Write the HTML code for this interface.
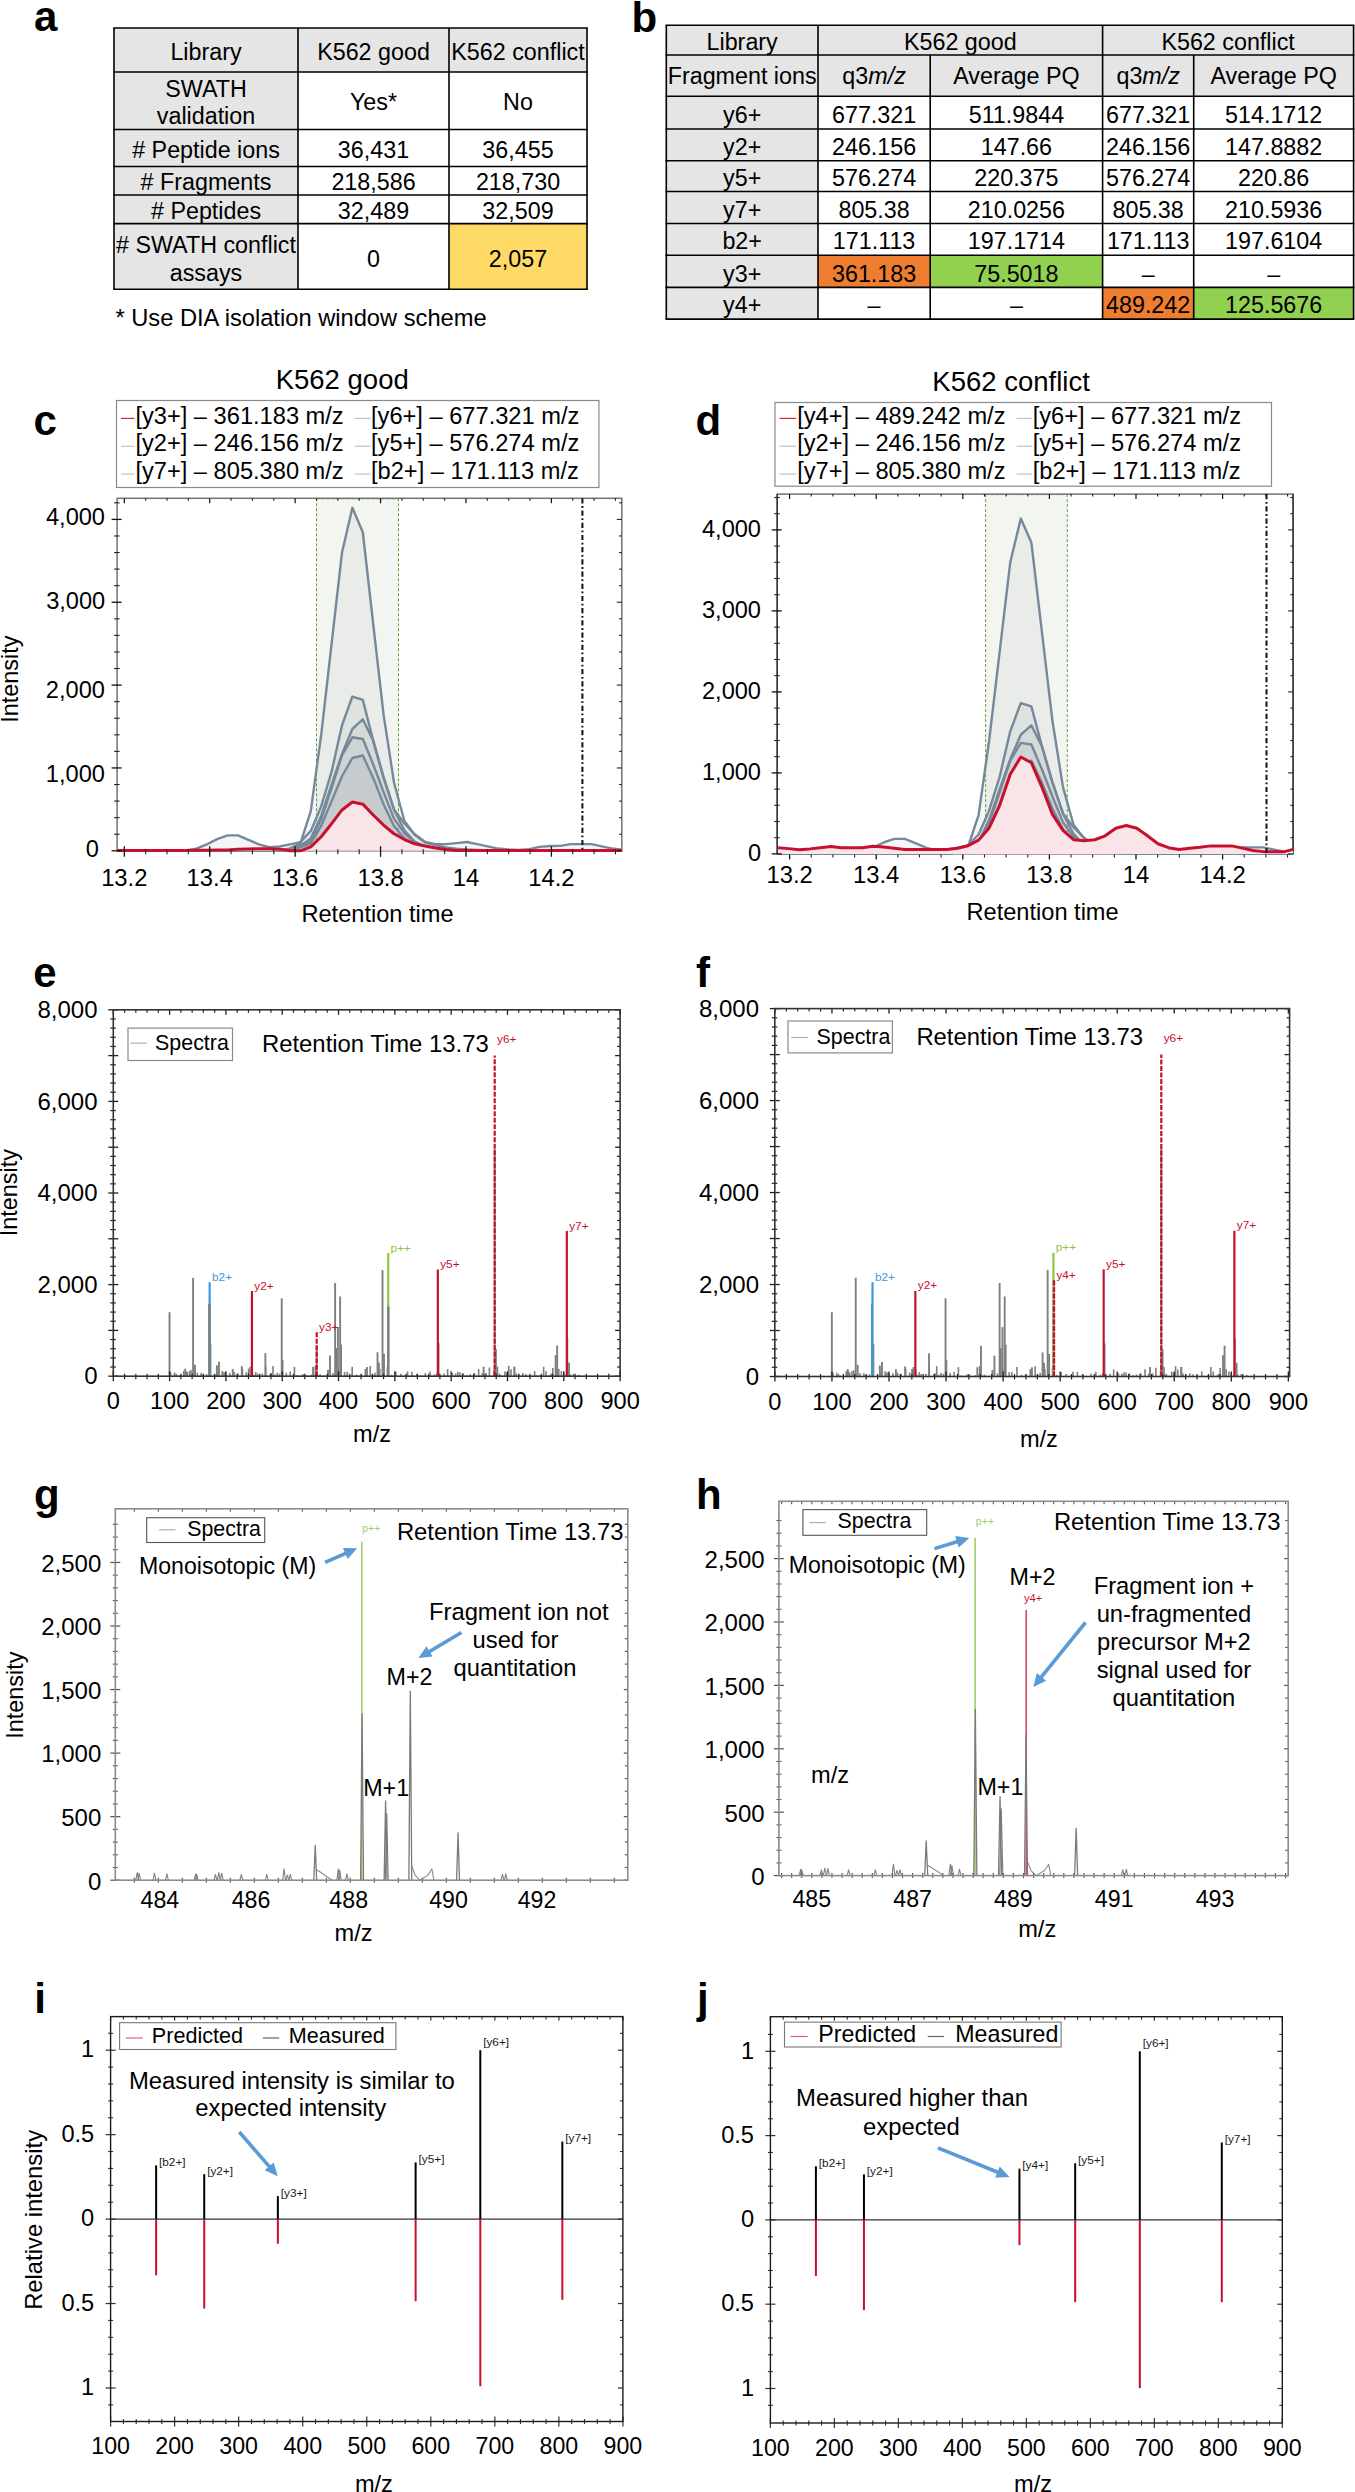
<!DOCTYPE html>
<html><head><meta charset="utf-8"><style>
html,body{margin:0;padding:0;background:#fff;}
svg{display:block;font-family:"Liberation Sans", sans-serif;}
</style></head><body>
<svg width="1355" height="2492" viewBox="0 0 1355 2492">
<rect x="0" y="0" width="1355" height="2492" fill="#fff"/>
<text x="33.9" y="31.2" font-size="42" text-anchor="start" fill="#000" font-weight="bold" >a</text>
<text x="631.5" y="31.5" font-size="42" text-anchor="start" fill="#000" font-weight="bold" >b</text>
<rect x="114" y="28" width="473" height="44" fill="#e5e5e5" stroke="none" stroke-width="1" />
<rect x="114" y="28" width="184" height="261.2" fill="#e5e5e5" stroke="none" stroke-width="1" />
<rect x="449" y="223.6" width="138" height="65.6" fill="#ffd966" stroke="none" stroke-width="1" />
<line x1="113.2" y1="28" x2="587.8" y2="28" stroke="#000" stroke-width="1.6" />
<line x1="113.2" y1="72" x2="587.8" y2="72" stroke="#000" stroke-width="1.6" />
<line x1="113.2" y1="129.5" x2="587.8" y2="129.5" stroke="#000" stroke-width="1.6" />
<line x1="113.2" y1="166.5" x2="587.8" y2="166.5" stroke="#000" stroke-width="1.6" />
<line x1="113.2" y1="195" x2="587.8" y2="195" stroke="#000" stroke-width="1.6" />
<line x1="113.2" y1="223.6" x2="587.8" y2="223.6" stroke="#000" stroke-width="1.6" />
<line x1="113.2" y1="289.2" x2="587.8" y2="289.2" stroke="#000" stroke-width="1.6" />
<line x1="114" y1="28" x2="114" y2="289.2" stroke="#000" stroke-width="1.6" />
<line x1="298" y1="28" x2="298" y2="289.2" stroke="#000" stroke-width="1.6" />
<line x1="449" y1="28" x2="449" y2="289.2" stroke="#000" stroke-width="1.6" />
<line x1="587" y1="28" x2="587" y2="289.2" stroke="#000" stroke-width="1.6" />
<text x="206" y="59.5" font-size="23.3" text-anchor="middle" fill="#000" >Library</text>
<text x="373.5" y="59.5" font-size="23.3" text-anchor="middle" fill="#000" >K562 good</text>
<text x="518" y="59.5" font-size="23.3" text-anchor="middle" fill="#000" >K562 conflict</text>
<text x="206" y="96.5" font-size="23.3" text-anchor="middle" fill="#000" >SWATH</text>
<text x="206" y="124" font-size="23.3" text-anchor="middle" fill="#000" >validation</text>
<text x="373.5" y="110" font-size="23.3" text-anchor="middle" fill="#000" >Yes*</text>
<text x="518" y="110" font-size="23.3" text-anchor="middle" fill="#000" >No</text>
<text x="206" y="158" font-size="23.3" text-anchor="middle" fill="#000" ># Peptide ions</text>
<text x="373.5" y="158" font-size="23.3" text-anchor="middle" fill="#000" >36,431</text>
<text x="518" y="158" font-size="23.3" text-anchor="middle" fill="#000" >36,455</text>
<text x="206" y="190" font-size="23.3" text-anchor="middle" fill="#000" ># Fragments</text>
<text x="373.5" y="190" font-size="23.3" text-anchor="middle" fill="#000" >218,586</text>
<text x="518" y="190" font-size="23.3" text-anchor="middle" fill="#000" >218,730</text>
<text x="206" y="218.6" font-size="23.3" text-anchor="middle" fill="#000" ># Peptides</text>
<text x="373.5" y="218.6" font-size="23.3" text-anchor="middle" fill="#000" >32,489</text>
<text x="518" y="218.6" font-size="23.3" text-anchor="middle" fill="#000" >32,509</text>
<text x="206" y="253.3" font-size="23.3" text-anchor="middle" fill="#000" ># SWATH conflict</text>
<text x="206" y="280.5" font-size="23.3" text-anchor="middle" fill="#000" >assays</text>
<text x="373.5" y="267" font-size="23.3" text-anchor="middle" fill="#000" >0</text>
<text x="518" y="267" font-size="23.3" text-anchor="middle" fill="#000" >2,057</text>
<text x="115.4" y="326" font-size="23.7" text-anchor="start" fill="#000" >* Use DIA isolation window scheme</text>
<rect x="666.3" y="25.2" width="687.3" height="71" fill="#e5e5e5" stroke="none" stroke-width="1" />
<rect x="666.3" y="25.2" width="151.7" height="293.9" fill="#e5e5e5" stroke="none" stroke-width="1" />
<rect x="818" y="255.2" width="112.2" height="32.2" fill="#ed7d31" stroke="none" stroke-width="1" />
<rect x="930.2" y="255.2" width="172.4" height="32.2" fill="#92d050" stroke="none" stroke-width="1" />
<rect x="1102.6" y="287.4" width="91.1" height="31.7" fill="#ed7d31" stroke="none" stroke-width="1" />
<rect x="1193.7" y="287.4" width="159.9" height="31.7" fill="#92d050" stroke="none" stroke-width="1" />
<line x1="665.5" y1="25.2" x2="1354.4" y2="25.2" stroke="#000" stroke-width="1.6" />
<line x1="665.5" y1="55" x2="1354.4" y2="55" stroke="#000" stroke-width="1.6" />
<line x1="665.5" y1="96.2" x2="1354.4" y2="96.2" stroke="#000" stroke-width="1.6" />
<line x1="665.5" y1="129" x2="1354.4" y2="129" stroke="#000" stroke-width="1.6" />
<line x1="665.5" y1="160.7" x2="1354.4" y2="160.7" stroke="#000" stroke-width="1.6" />
<line x1="665.5" y1="191.5" x2="1354.4" y2="191.5" stroke="#000" stroke-width="1.6" />
<line x1="665.5" y1="223.5" x2="1354.4" y2="223.5" stroke="#000" stroke-width="1.6" />
<line x1="665.5" y1="255.2" x2="1354.4" y2="255.2" stroke="#000" stroke-width="1.6" />
<line x1="665.5" y1="287.4" x2="1354.4" y2="287.4" stroke="#000" stroke-width="1.6" />
<line x1="665.5" y1="319.1" x2="1354.4" y2="319.1" stroke="#000" stroke-width="1.6" />
<line x1="666.3" y1="25.2" x2="666.3" y2="319.1" stroke="#000" stroke-width="1.6" />
<line x1="818" y1="25.2" x2="818" y2="319.1" stroke="#000" stroke-width="1.6" />
<line x1="1102.6" y1="25.2" x2="1102.6" y2="319.1" stroke="#000" stroke-width="1.6" />
<line x1="1353.6" y1="25.2" x2="1353.6" y2="319.1" stroke="#000" stroke-width="1.6" />
<line x1="930.2" y1="55" x2="930.2" y2="319.1" stroke="#000" stroke-width="1.6" />
<line x1="1193.7" y1="55" x2="1193.7" y2="319.1" stroke="#000" stroke-width="1.6" />
<text x="742.15" y="50" font-size="23.3" text-anchor="middle" fill="#000" >Library</text>
<text x="960.3" y="50" font-size="23.3" text-anchor="middle" fill="#000" >K562 good</text>
<text x="1228.1" y="50" font-size="23.3" text-anchor="middle" fill="#000" >K562 conflict</text>
<text x="742.15" y="84.2" font-size="23.3" text-anchor="middle" fill="#000" >Fragment ions</text>
<text x="874.1" y="84.2" font-size="23.3" text-anchor="middle" fill="#000" >q3<tspan font-style="italic">m/z</tspan></text>
<text x="1148.15" y="84.2" font-size="23.3" text-anchor="middle" fill="#000" >q3<tspan font-style="italic">m/z</tspan></text>
<text x="1016.4" y="84.2" font-size="23.3" text-anchor="middle" fill="#000" >Average PQ</text>
<text x="1273.65" y="84.2" font-size="23.3" text-anchor="middle" fill="#000" >Average PQ</text>
<text x="742.15" y="123.1" font-size="23.3" text-anchor="middle" fill="#000" >y6+</text>
<text x="874.1" y="123.1" font-size="23.3" text-anchor="middle" fill="#000" >677.321</text>
<text x="1016.4" y="123.1" font-size="23.3" text-anchor="middle" fill="#000" >511.9844</text>
<text x="1148.15" y="123.1" font-size="23.3" text-anchor="middle" fill="#000" >677.321</text>
<text x="1273.65" y="123.1" font-size="23.3" text-anchor="middle" fill="#000" >514.1712</text>
<text x="742.15" y="154.8" font-size="23.3" text-anchor="middle" fill="#000" >y2+</text>
<text x="874.1" y="154.8" font-size="23.3" text-anchor="middle" fill="#000" >246.156</text>
<text x="1016.4" y="154.8" font-size="23.3" text-anchor="middle" fill="#000" >147.66</text>
<text x="1148.15" y="154.8" font-size="23.3" text-anchor="middle" fill="#000" >246.156</text>
<text x="1273.65" y="154.8" font-size="23.3" text-anchor="middle" fill="#000" >147.8882</text>
<text x="742.15" y="185.6" font-size="23.3" text-anchor="middle" fill="#000" >y5+</text>
<text x="874.1" y="185.6" font-size="23.3" text-anchor="middle" fill="#000" >576.274</text>
<text x="1016.4" y="185.6" font-size="23.3" text-anchor="middle" fill="#000" >220.375</text>
<text x="1148.15" y="185.6" font-size="23.3" text-anchor="middle" fill="#000" >576.274</text>
<text x="1273.65" y="185.6" font-size="23.3" text-anchor="middle" fill="#000" >220.86</text>
<text x="742.15" y="217.6" font-size="23.3" text-anchor="middle" fill="#000" >y7+</text>
<text x="874.1" y="217.6" font-size="23.3" text-anchor="middle" fill="#000" >805.38</text>
<text x="1016.4" y="217.6" font-size="23.3" text-anchor="middle" fill="#000" >210.0256</text>
<text x="1148.15" y="217.6" font-size="23.3" text-anchor="middle" fill="#000" >805.38</text>
<text x="1273.65" y="217.6" font-size="23.3" text-anchor="middle" fill="#000" >210.5936</text>
<text x="742.15" y="249.3" font-size="23.3" text-anchor="middle" fill="#000" >b2+</text>
<text x="874.1" y="249.3" font-size="23.3" text-anchor="middle" fill="#000" >171.113</text>
<text x="1016.4" y="249.3" font-size="23.3" text-anchor="middle" fill="#000" >197.1714</text>
<text x="1148.15" y="249.3" font-size="23.3" text-anchor="middle" fill="#000" >171.113</text>
<text x="1273.65" y="249.3" font-size="23.3" text-anchor="middle" fill="#000" >197.6104</text>
<text x="742.15" y="281.5" font-size="23.3" text-anchor="middle" fill="#000" >y3+</text>
<text x="874.1" y="281.5" font-size="23.3" text-anchor="middle" fill="#000" >361.183</text>
<text x="1016.4" y="281.5" font-size="23.3" text-anchor="middle" fill="#000" >75.5018</text>
<text x="1148.15" y="281.5" font-size="23.3" text-anchor="middle" fill="#000" >–</text>
<text x="1273.65" y="281.5" font-size="23.3" text-anchor="middle" fill="#000" >–</text>
<text x="742.15" y="313.2" font-size="23.3" text-anchor="middle" fill="#000" >y4+</text>
<text x="874.1" y="313.2" font-size="23.3" text-anchor="middle" fill="#000" >–</text>
<text x="1016.4" y="313.2" font-size="23.3" text-anchor="middle" fill="#000" >–</text>
<text x="1148.15" y="313.2" font-size="23.3" text-anchor="middle" fill="#000" >489.242</text>
<text x="1273.65" y="313.2" font-size="23.3" text-anchor="middle" fill="#000" >125.5676</text>
<rect x="316.5" y="498.3" width="82" height="352.5" fill="#f3f6f0" stroke="none" stroke-width="1" />
<line x1="316.5" y1="498.3" x2="316.5" y2="850.8" stroke="#6b9a3a" stroke-width="1" stroke-dasharray="3,2"/>
<line x1="398.5" y1="498.3" x2="398.5" y2="850.8" stroke="#6b9a3a" stroke-width="1" stroke-dasharray="3,2"/>
<line x1="316.5" y1="498.8" x2="398.5" y2="498.8" stroke="#6b9a3a" stroke-width="0.8" stroke-dasharray="3,2"/>
<rect x="117.1" y="498.3" width="504.7" height="352.5" fill="none" stroke="#737373" stroke-width="1.5" />
<polygon points="117.1,850.8 117.1,850.55 123.6,850.54 134,850.53 144.4,850.52 154.8,850.51 165.2,850.5 175.6,850.49 186,850.48 196.4,850.47 206.8,850.46 217.2,850.45 227.6,850.44 238,850.43 248.4,850.42 258.8,850.41 269.2,850.4 279.6,850.39 290,848.31 300.4,843.34 310.8,811.03 321.2,734.81 331.6,643.67 342,552.54 352.4,507.8 362.8,532.24 373.2,623.79 383.6,714.93 394,782.45 404.4,820.97 414.8,835.06 425.2,842.51 435.6,845 446,847.49 456.4,848.73 466.8,849.56 477.2,849.97 487.6,850.39 498,850.4 508.4,850.41 518.8,850.42 529.2,850.44 539.6,850.45 550,850.46 560.4,850.47 570.8,850.49 581.2,850.5 591.6,850.51 602,850.53 612.4,850.54 621.8,850.55 621.8,850.8" fill="rgba(110,125,135,0.078)" stroke="none" />
<polygon points="117.1,850.8 117.1,850.55 123.6,850.55 134,850.55 144.4,850.55 154.8,850.55 165.2,850.55 175.6,850.55 186,850.55 196.4,848.73 206.8,844.34 217.2,839.12 227.6,835.39 238,835.39 248.4,839.86 258.8,844.34 269.2,847.24 279.6,846.49 290,844.34 300.4,842.1 310.8,830.92 321.2,806.39 331.6,771.68 342,725.37 352.4,696.53 362.8,699.85 373.2,740.61 383.6,777.89 394,809.38 404.4,823.46 414.8,834.31 425.2,842.02 435.6,844.17 446,844.17 456.4,843.09 466.8,842.02 477.2,844.17 487.6,846.41 498,848.56 508.4,849.56 518.8,849.97 529.2,849.14 539.6,846.91 550,845.99 560.4,845.83 570.8,844.17 581.2,844.17 591.6,844.17 602,846.41 612.4,848.56 621.8,849.72 621.8,850.8" fill="rgba(110,125,135,0.078)" stroke="none" />
<polygon points="117.1,850.8 117.1,850.55 123.6,850.55 134,850.55 144.4,850.55 154.8,850.55 165.2,850.55 175.6,850.55 186,850.55 196.4,850.55 206.8,850.55 217.2,850.55 227.6,850.55 238,850.55 248.4,850.55 258.8,850.55 269.2,850.55 279.6,850.55 290,849.56 300.4,845.83 310.8,838.37 321.2,816 331.6,784.52 342,753.95 352.4,728.93 362.8,719.32 373.2,740.69 383.6,777.39 394,809.71 404.4,830.25 414.8,841.69 425.2,846.66 435.6,848.31 446,849.56 456.4,850.05 466.8,850.55 477.2,850.55 487.6,850.55 498,850.55 508.4,850.55 518.8,850.55 529.2,850.55 539.6,850.55 550,850.55 560.4,850.55 570.8,850.55 581.2,850.55 591.6,850.55 602,850.55 612.4,850.55 621.8,850.55 621.8,850.8" fill="rgba(110,125,135,0.078)" stroke="none" />
<polygon points="117.1,850.8 117.1,850.55 123.6,850.55 134,850.55 144.4,850.55 154.8,850.55 165.2,850.55 175.6,850.55 186,850.55 196.4,850.55 206.8,850.55 217.2,850.55 227.6,850.55 238,850.55 248.4,850.55 258.8,850.55 269.2,850.55 279.6,850.55 290,849.56 300.4,846.66 310.8,840.86 321.2,819.32 331.6,787.83 342,755.36 352.4,737.3 362.8,738.95 373.2,764.22 383.6,792.06 394,818.57 404.4,833.24 414.8,842.51 425.2,847.07 435.6,848.73 446,849.56 456.4,850.05 466.8,850.55 477.2,850.55 487.6,850.55 498,850.55 508.4,850.55 518.8,850.55 529.2,850.55 539.6,850.55 550,850.55 560.4,850.55 570.8,850.55 581.2,850.55 591.6,850.55 602,850.55 612.4,850.55 621.8,850.55 621.8,850.8" fill="rgba(110,125,135,0.078)" stroke="none" />
<polygon points="117.1,850.8 117.1,850.55 123.6,850.55 134,850.55 144.4,850.55 154.8,850.55 165.2,850.55 175.6,850.55 186,850.55 196.4,850.55 206.8,850.55 217.2,850.55 227.6,850.55 238,850.55 248.4,850.55 258.8,850.55 269.2,850.55 279.6,850.55 290,849.56 300.4,847.49 310.8,843.34 321.2,825.94 331.6,801.09 342,776.23 352.4,758.01 362.8,755.52 373.2,777.89 383.6,804.4 394,825.94 404.4,838.37 414.8,845 425.2,847.9 435.6,849.14 446,849.85 456.4,850.55 466.8,850.55 477.2,850.55 487.6,850.55 498,850.55 508.4,850.55 518.8,850.55 529.2,850.55 539.6,850.55 550,850.55 560.4,850.55 570.8,850.55 581.2,850.55 591.6,850.55 602,850.55 612.4,850.55 621.8,850.55 621.8,850.8" fill="rgba(110,125,135,0.078)" stroke="none" />
<polyline points="117.1,850.55 123.6,850.54 134,850.53 144.4,850.52 154.8,850.51 165.2,850.5 175.6,850.49 186,850.48 196.4,850.47 206.8,850.46 217.2,850.45 227.6,850.44 238,850.43 248.4,850.42 258.8,850.41 269.2,850.4 279.6,850.39 290,848.31 300.4,843.34 310.8,811.03 321.2,734.81 331.6,643.67 342,552.54 352.4,507.8 362.8,532.24 373.2,623.79 383.6,714.93 394,782.45 404.4,820.97 414.8,835.06 425.2,842.51 435.6,845 446,847.49 456.4,848.73 466.8,849.56 477.2,849.97 487.6,850.39 498,850.4 508.4,850.41 518.8,850.42 529.2,850.44 539.6,850.45 550,850.46 560.4,850.47 570.8,850.49 581.2,850.5 591.6,850.51 602,850.53 612.4,850.54 621.8,850.55" stroke="#76899a" stroke-width="2.4" fill="none" stroke-linejoin="round" />
<polyline points="117.1,850.55 123.6,850.55 134,850.55 144.4,850.55 154.8,850.55 165.2,850.55 175.6,850.55 186,850.55 196.4,848.73 206.8,844.34 217.2,839.12 227.6,835.39 238,835.39 248.4,839.86 258.8,844.34 269.2,847.24 279.6,846.49 290,844.34 300.4,842.1 310.8,830.92 321.2,806.39 331.6,771.68 342,725.37 352.4,696.53 362.8,699.85 373.2,740.61 383.6,777.89 394,809.38 404.4,823.46 414.8,834.31 425.2,842.02 435.6,844.17 446,844.17 456.4,843.09 466.8,842.02 477.2,844.17 487.6,846.41 498,848.56 508.4,849.56 518.8,849.97 529.2,849.14 539.6,846.91 550,845.99 560.4,845.83 570.8,844.17 581.2,844.17 591.6,844.17 602,846.41 612.4,848.56 621.8,849.72" stroke="#76899a" stroke-width="2.4" fill="none" stroke-linejoin="round" />
<polyline points="117.1,850.55 123.6,850.55 134,850.55 144.4,850.55 154.8,850.55 165.2,850.55 175.6,850.55 186,850.55 196.4,850.55 206.8,850.55 217.2,850.55 227.6,850.55 238,850.55 248.4,850.55 258.8,850.55 269.2,850.55 279.6,850.55 290,849.56 300.4,845.83 310.8,838.37 321.2,816 331.6,784.52 342,753.95 352.4,728.93 362.8,719.32 373.2,740.69 383.6,777.39 394,809.71 404.4,830.25 414.8,841.69 425.2,846.66 435.6,848.31 446,849.56 456.4,850.05 466.8,850.55 477.2,850.55 487.6,850.55 498,850.55 508.4,850.55 518.8,850.55 529.2,850.55 539.6,850.55 550,850.55 560.4,850.55 570.8,850.55 581.2,850.55 591.6,850.55 602,850.55 612.4,850.55 621.8,850.55" stroke="#76899a" stroke-width="2.4" fill="none" stroke-linejoin="round" />
<polyline points="117.1,850.55 123.6,850.55 134,850.55 144.4,850.55 154.8,850.55 165.2,850.55 175.6,850.55 186,850.55 196.4,850.55 206.8,850.55 217.2,850.55 227.6,850.55 238,850.55 248.4,850.55 258.8,850.55 269.2,850.55 279.6,850.55 290,849.56 300.4,846.66 310.8,840.86 321.2,819.32 331.6,787.83 342,755.36 352.4,737.3 362.8,738.95 373.2,764.22 383.6,792.06 394,818.57 404.4,833.24 414.8,842.51 425.2,847.07 435.6,848.73 446,849.56 456.4,850.05 466.8,850.55 477.2,850.55 487.6,850.55 498,850.55 508.4,850.55 518.8,850.55 529.2,850.55 539.6,850.55 550,850.55 560.4,850.55 570.8,850.55 581.2,850.55 591.6,850.55 602,850.55 612.4,850.55 621.8,850.55" stroke="#76899a" stroke-width="2.4" fill="none" stroke-linejoin="round" />
<polyline points="117.1,850.55 123.6,850.55 134,850.55 144.4,850.55 154.8,850.55 165.2,850.55 175.6,850.55 186,850.55 196.4,850.55 206.8,850.55 217.2,850.55 227.6,850.55 238,850.55 248.4,850.55 258.8,850.55 269.2,850.55 279.6,850.55 290,849.56 300.4,847.49 310.8,843.34 321.2,825.94 331.6,801.09 342,776.23 352.4,758.01 362.8,755.52 373.2,777.89 383.6,804.4 394,825.94 404.4,838.37 414.8,845 425.2,847.9 435.6,849.14 446,849.85 456.4,850.55 466.8,850.55 477.2,850.55 487.6,850.55 498,850.55 508.4,850.55 518.8,850.55 529.2,850.55 539.6,850.55 550,850.55 560.4,850.55 570.8,850.55 581.2,850.55 591.6,850.55 602,850.55 612.4,850.55 621.8,850.55" stroke="#76899a" stroke-width="2.4" fill="none" stroke-linejoin="round" />
<polygon points="117.1,850.8 117.1,850.39 123.6,850.39 134,850.39 144.4,850.39 154.8,850.39 165.2,850.39 175.6,850.39 186,850.39 196.4,850.28 206.8,850.18 217.2,850.08 227.6,849.97 238,849.14 248.4,848.98 258.8,848.73 269.2,848.73 279.6,849.14 290,850.8 300.4,850.8 310.8,846.82 321.2,836.72 331.6,823.71 342,809.95 352.4,802 362.8,804.16 373.2,815.01 383.6,825.12 394,833.73 404.4,839.53 414.8,843.84 425.2,846.08 435.6,847.9 446,849.56 456.4,850.39 466.8,850.39 477.2,850.39 487.6,850.39 498,850.39 508.4,850.39 518.8,850.39 529.2,850.39 539.6,850.39 550,850.39 560.4,850.39 570.8,850.39 581.2,850.39 591.6,850.39 602,850.39 612.4,850.39 621.8,850.39 621.8,850.8" fill="#f9e4e7" stroke="none" />
<polyline points="117.1,850.39 123.6,850.39 134,850.39 144.4,850.39 154.8,850.39 165.2,850.39 175.6,850.39 186,850.39 196.4,850.28 206.8,850.18 217.2,850.08 227.6,849.97 238,849.14 248.4,848.98 258.8,848.73 269.2,848.73 279.6,849.14 290,850.8 300.4,850.8 310.8,846.82 321.2,836.72 331.6,823.71 342,809.95 352.4,802 362.8,804.16 373.2,815.01 383.6,825.12 394,833.73 404.4,839.53 414.8,843.84 425.2,846.08 435.6,847.9 446,849.56 456.4,850.39 466.8,850.39 477.2,850.39 487.6,850.39 498,850.39 508.4,850.39 518.8,850.39 529.2,850.39 539.6,850.39 550,850.39 560.4,850.39 570.8,850.39 581.2,850.39 591.6,850.39 602,850.39 612.4,850.39 621.8,850.39" stroke="#c8102e" stroke-width="3" fill="none" stroke-linejoin="round" />
<line x1="582.4" y1="498.3" x2="582.4" y2="850.8" stroke="#1a1a1a" stroke-width="2.1" stroke-dasharray="5.2,2.6,1.8,2.6"/>
<line x1="124.3" y1="846.3" x2="124.3" y2="856.8" stroke="#111" stroke-width="1.3" />
<line x1="124.3" y1="498.3" x2="124.3" y2="503.3" stroke="#111" stroke-width="1.2" />
<line x1="145.66" y1="849.3" x2="145.66" y2="854.3" stroke="#222" stroke-width="1.1" />
<line x1="145.66" y1="498.3" x2="145.66" y2="500.8" stroke="#222" stroke-width="1.1" />
<line x1="167.01" y1="849.3" x2="167.01" y2="854.3" stroke="#222" stroke-width="1.1" />
<line x1="167.01" y1="498.3" x2="167.01" y2="500.8" stroke="#222" stroke-width="1.1" />
<line x1="188.37" y1="849.3" x2="188.37" y2="854.3" stroke="#222" stroke-width="1.1" />
<line x1="188.37" y1="498.3" x2="188.37" y2="500.8" stroke="#222" stroke-width="1.1" />
<line x1="209.72" y1="846.3" x2="209.72" y2="856.8" stroke="#111" stroke-width="1.3" />
<line x1="209.72" y1="498.3" x2="209.72" y2="503.3" stroke="#111" stroke-width="1.2" />
<line x1="231.08" y1="849.3" x2="231.08" y2="854.3" stroke="#222" stroke-width="1.1" />
<line x1="231.08" y1="498.3" x2="231.08" y2="500.8" stroke="#222" stroke-width="1.1" />
<line x1="252.43" y1="849.3" x2="252.43" y2="854.3" stroke="#222" stroke-width="1.1" />
<line x1="252.43" y1="498.3" x2="252.43" y2="500.8" stroke="#222" stroke-width="1.1" />
<line x1="273.79" y1="849.3" x2="273.79" y2="854.3" stroke="#222" stroke-width="1.1" />
<line x1="273.79" y1="498.3" x2="273.79" y2="500.8" stroke="#222" stroke-width="1.1" />
<line x1="295.14" y1="846.3" x2="295.14" y2="856.8" stroke="#111" stroke-width="1.3" />
<line x1="295.14" y1="498.3" x2="295.14" y2="503.3" stroke="#111" stroke-width="1.2" />
<line x1="316.5" y1="849.3" x2="316.5" y2="854.3" stroke="#222" stroke-width="1.1" />
<line x1="316.5" y1="498.3" x2="316.5" y2="500.8" stroke="#222" stroke-width="1.1" />
<line x1="337.85" y1="849.3" x2="337.85" y2="854.3" stroke="#222" stroke-width="1.1" />
<line x1="337.85" y1="498.3" x2="337.85" y2="500.8" stroke="#222" stroke-width="1.1" />
<line x1="359.21" y1="849.3" x2="359.21" y2="854.3" stroke="#222" stroke-width="1.1" />
<line x1="359.21" y1="498.3" x2="359.21" y2="500.8" stroke="#222" stroke-width="1.1" />
<line x1="380.56" y1="846.3" x2="380.56" y2="856.8" stroke="#111" stroke-width="1.3" />
<line x1="380.56" y1="498.3" x2="380.56" y2="503.3" stroke="#111" stroke-width="1.2" />
<line x1="401.92" y1="849.3" x2="401.92" y2="854.3" stroke="#222" stroke-width="1.1" />
<line x1="401.92" y1="498.3" x2="401.92" y2="500.8" stroke="#222" stroke-width="1.1" />
<line x1="423.27" y1="849.3" x2="423.27" y2="854.3" stroke="#222" stroke-width="1.1" />
<line x1="423.27" y1="498.3" x2="423.27" y2="500.8" stroke="#222" stroke-width="1.1" />
<line x1="444.63" y1="849.3" x2="444.63" y2="854.3" stroke="#222" stroke-width="1.1" />
<line x1="444.63" y1="498.3" x2="444.63" y2="500.8" stroke="#222" stroke-width="1.1" />
<line x1="465.98" y1="846.3" x2="465.98" y2="856.8" stroke="#111" stroke-width="1.3" />
<line x1="465.98" y1="498.3" x2="465.98" y2="503.3" stroke="#111" stroke-width="1.2" />
<line x1="487.34" y1="849.3" x2="487.34" y2="854.3" stroke="#222" stroke-width="1.1" />
<line x1="487.34" y1="498.3" x2="487.34" y2="500.8" stroke="#222" stroke-width="1.1" />
<line x1="508.69" y1="849.3" x2="508.69" y2="854.3" stroke="#222" stroke-width="1.1" />
<line x1="508.69" y1="498.3" x2="508.69" y2="500.8" stroke="#222" stroke-width="1.1" />
<line x1="530.05" y1="849.3" x2="530.05" y2="854.3" stroke="#222" stroke-width="1.1" />
<line x1="530.05" y1="498.3" x2="530.05" y2="500.8" stroke="#222" stroke-width="1.1" />
<line x1="551.4" y1="846.3" x2="551.4" y2="856.8" stroke="#111" stroke-width="1.3" />
<line x1="551.4" y1="498.3" x2="551.4" y2="503.3" stroke="#111" stroke-width="1.2" />
<line x1="572.76" y1="849.3" x2="572.76" y2="854.3" stroke="#222" stroke-width="1.1" />
<line x1="572.76" y1="498.3" x2="572.76" y2="500.8" stroke="#222" stroke-width="1.1" />
<line x1="594.11" y1="849.3" x2="594.11" y2="854.3" stroke="#222" stroke-width="1.1" />
<line x1="594.11" y1="498.3" x2="594.11" y2="500.8" stroke="#222" stroke-width="1.1" />
<line x1="615.47" y1="849.3" x2="615.47" y2="854.3" stroke="#222" stroke-width="1.1" />
<line x1="615.47" y1="498.3" x2="615.47" y2="500.8" stroke="#222" stroke-width="1.1" />
<line x1="111.6" y1="850.8" x2="121.6" y2="850.8" stroke="#111" stroke-width="1.3" />
<line x1="616.8" y1="850.8" x2="621.8" y2="850.8" stroke="#222" stroke-width="1.1" />
<line x1="114.1" y1="834.23" x2="119.6" y2="834.23" stroke="#222" stroke-width="1.1" />
<line x1="619.1" y1="834.23" x2="621.8" y2="834.23" stroke="#222" stroke-width="1.1" />
<line x1="114.1" y1="817.66" x2="119.6" y2="817.66" stroke="#222" stroke-width="1.1" />
<line x1="619.1" y1="817.66" x2="621.8" y2="817.66" stroke="#222" stroke-width="1.1" />
<line x1="114.1" y1="801.09" x2="119.6" y2="801.09" stroke="#222" stroke-width="1.1" />
<line x1="619.1" y1="801.09" x2="621.8" y2="801.09" stroke="#222" stroke-width="1.1" />
<line x1="114.1" y1="784.52" x2="119.6" y2="784.52" stroke="#222" stroke-width="1.1" />
<line x1="619.1" y1="784.52" x2="621.8" y2="784.52" stroke="#222" stroke-width="1.1" />
<line x1="111.6" y1="767.95" x2="121.6" y2="767.95" stroke="#111" stroke-width="1.3" />
<line x1="616.8" y1="767.95" x2="621.8" y2="767.95" stroke="#222" stroke-width="1.1" />
<line x1="114.1" y1="751.38" x2="119.6" y2="751.38" stroke="#222" stroke-width="1.1" />
<line x1="619.1" y1="751.38" x2="621.8" y2="751.38" stroke="#222" stroke-width="1.1" />
<line x1="114.1" y1="734.81" x2="119.6" y2="734.81" stroke="#222" stroke-width="1.1" />
<line x1="619.1" y1="734.81" x2="621.8" y2="734.81" stroke="#222" stroke-width="1.1" />
<line x1="114.1" y1="718.24" x2="119.6" y2="718.24" stroke="#222" stroke-width="1.1" />
<line x1="619.1" y1="718.24" x2="621.8" y2="718.24" stroke="#222" stroke-width="1.1" />
<line x1="114.1" y1="701.67" x2="119.6" y2="701.67" stroke="#222" stroke-width="1.1" />
<line x1="619.1" y1="701.67" x2="621.8" y2="701.67" stroke="#222" stroke-width="1.1" />
<line x1="111.6" y1="685.1" x2="121.6" y2="685.1" stroke="#111" stroke-width="1.3" />
<line x1="616.8" y1="685.1" x2="621.8" y2="685.1" stroke="#222" stroke-width="1.1" />
<line x1="114.1" y1="668.53" x2="119.6" y2="668.53" stroke="#222" stroke-width="1.1" />
<line x1="619.1" y1="668.53" x2="621.8" y2="668.53" stroke="#222" stroke-width="1.1" />
<line x1="114.1" y1="651.96" x2="119.6" y2="651.96" stroke="#222" stroke-width="1.1" />
<line x1="619.1" y1="651.96" x2="621.8" y2="651.96" stroke="#222" stroke-width="1.1" />
<line x1="114.1" y1="635.39" x2="119.6" y2="635.39" stroke="#222" stroke-width="1.1" />
<line x1="619.1" y1="635.39" x2="621.8" y2="635.39" stroke="#222" stroke-width="1.1" />
<line x1="114.1" y1="618.82" x2="119.6" y2="618.82" stroke="#222" stroke-width="1.1" />
<line x1="619.1" y1="618.82" x2="621.8" y2="618.82" stroke="#222" stroke-width="1.1" />
<line x1="111.6" y1="602.25" x2="121.6" y2="602.25" stroke="#111" stroke-width="1.3" />
<line x1="616.8" y1="602.25" x2="621.8" y2="602.25" stroke="#222" stroke-width="1.1" />
<line x1="114.1" y1="585.68" x2="119.6" y2="585.68" stroke="#222" stroke-width="1.1" />
<line x1="619.1" y1="585.68" x2="621.8" y2="585.68" stroke="#222" stroke-width="1.1" />
<line x1="114.1" y1="569.11" x2="119.6" y2="569.11" stroke="#222" stroke-width="1.1" />
<line x1="619.1" y1="569.11" x2="621.8" y2="569.11" stroke="#222" stroke-width="1.1" />
<line x1="114.1" y1="552.54" x2="119.6" y2="552.54" stroke="#222" stroke-width="1.1" />
<line x1="619.1" y1="552.54" x2="621.8" y2="552.54" stroke="#222" stroke-width="1.1" />
<line x1="114.1" y1="535.97" x2="119.6" y2="535.97" stroke="#222" stroke-width="1.1" />
<line x1="619.1" y1="535.97" x2="621.8" y2="535.97" stroke="#222" stroke-width="1.1" />
<line x1="111.6" y1="519.4" x2="121.6" y2="519.4" stroke="#111" stroke-width="1.3" />
<line x1="616.8" y1="519.4" x2="621.8" y2="519.4" stroke="#222" stroke-width="1.1" />
<line x1="114.1" y1="502.83" x2="119.6" y2="502.83" stroke="#222" stroke-width="1.1" />
<line x1="619.1" y1="502.83" x2="621.8" y2="502.83" stroke="#222" stroke-width="1.1" />
<text x="124.3" y="885.8" font-size="23.8" text-anchor="middle" fill="#000" >13.2</text>
<text x="209.72" y="885.8" font-size="23.8" text-anchor="middle" fill="#000" >13.4</text>
<text x="295.14" y="885.8" font-size="23.8" text-anchor="middle" fill="#000" >13.6</text>
<text x="380.56" y="885.8" font-size="23.8" text-anchor="middle" fill="#000" >13.8</text>
<text x="465.98" y="885.8" font-size="23.8" text-anchor="middle" fill="#000" >14</text>
<text x="551.4" y="885.8" font-size="23.8" text-anchor="middle" fill="#000" >14.2</text>
<text x="98.8" y="856.6" font-size="23.6" text-anchor="end" fill="#000" >0</text>
<text x="104.9" y="782.1" font-size="23.6" text-anchor="end" fill="#000" >1,000</text>
<text x="104.9" y="698" font-size="23.6" text-anchor="end" fill="#000" >2,000</text>
<text x="105.2" y="609.2" font-size="23.6" text-anchor="end" fill="#000" >3,000</text>
<text x="105" y="525.1" font-size="23.6" text-anchor="end" fill="#000" >4,000</text>
<text x="377.5" y="922" font-size="23.6" text-anchor="middle" fill="#000" >Retention time</text>
<text x="17.6" y="679.1" font-size="23.4" text-anchor="middle" fill="#000" transform="rotate(-90 17.6 679.1)">Intensity</text>
<text x="342.2" y="389" font-size="27.5" text-anchor="middle" fill="#000" >K562 good</text>
<rect x="116.5" y="400.5" width="482.4" height="87" fill="#fff" stroke="#8a8a8a" stroke-width="1.2" />
<line x1="121" y1="418.4" x2="134.4" y2="418.4" stroke="#d0283c" stroke-width="1.2" />
<text x="135.4" y="423.6" font-size="23.65" text-anchor="start" fill="#000" >[y3+] – 361.183 m/z</text>
<line x1="354.9" y1="418.4" x2="370.8" y2="418.4" stroke="#b8c4d0" stroke-width="1.2" />
<text x="371" y="423.6" font-size="23.65" text-anchor="start" fill="#000" >[y6+] – 677.321 m/z</text>
<line x1="121" y1="446.25" x2="134.4" y2="446.25" stroke="#b8c4d0" stroke-width="1.2" />
<text x="135.4" y="451.45" font-size="23.65" text-anchor="start" fill="#000" >[y2+] – 246.156 m/z</text>
<line x1="354.9" y1="446.25" x2="370.8" y2="446.25" stroke="#b8c4d0" stroke-width="1.2" />
<text x="371" y="451.45" font-size="23.65" text-anchor="start" fill="#000" >[y5+] – 576.274 m/z</text>
<line x1="121" y1="474.1" x2="134.4" y2="474.1" stroke="#b8c4d0" stroke-width="1.2" />
<text x="135.4" y="479.3" font-size="23.65" text-anchor="start" fill="#000" >[y7+] – 805.380 m/z</text>
<line x1="354.9" y1="474.1" x2="370.8" y2="474.1" stroke="#b8c4d0" stroke-width="1.2" />
<text x="371" y="479.3" font-size="23.65" text-anchor="start" fill="#000" >[b2+] – 171.113 m/z</text>
<text x="33.5" y="435.2" font-size="42" text-anchor="start" fill="#000" font-weight="bold" >c</text>
<rect x="985.6" y="494.1" width="81.7" height="359.8" fill="#f3f6f0" stroke="none" stroke-width="1" />
<line x1="985.6" y1="494.1" x2="985.6" y2="853.9" stroke="#6b9a3a" stroke-width="1" stroke-dasharray="3,2"/>
<line x1="1067.3" y1="494.1" x2="1067.3" y2="853.9" stroke="#6b9a3a" stroke-width="1" stroke-dasharray="3,2"/>
<line x1="985.6" y1="494.6" x2="1067.3" y2="494.6" stroke="#6b9a3a" stroke-width="0.8" stroke-dasharray="3,2"/>
<rect x="777.2" y="494.1" width="515.9" height="359.8" fill="none" stroke="#737373" stroke-width="1.5" />
<line x1="777.2" y1="494.1" x2="777.2" y2="853.9" stroke="#333" stroke-width="1.4" />
<line x1="1293.1" y1="494.1" x2="1293.1" y2="853.9" stroke="#333" stroke-width="1.4" />
<polygon points="778.15,853.9 778.15,853.66 788.7,853.65 799.25,853.64 809.8,853.63 820.35,853.62 830.9,853.61 841.45,853.6 852,853.59 862.55,853.58 873.1,853.57 883.65,853.56 894.2,853.55 904.75,853.54 915.3,853.53 925.85,853.52 936.4,853.51 946.95,853.5 957.5,851.47 968.05,846.61 978.6,815.02 989.15,740.5 999.7,651.4 1010.25,562.3 1020.8,518.56 1031.35,542.45 1041.9,631.96 1052.45,721.06 1063,787.07 1073.55,824.74 1084.1,838.51 1094.65,845.8 1105.2,848.23 1115.75,850.66 1126.3,851.88 1136.85,852.68 1147.4,853.09 1157.95,853.5 1168.5,853.51 1179.05,853.52 1189.6,853.53 1200.15,853.54 1210.7,853.56 1221.25,853.57 1231.8,853.58 1242.35,853.59 1252.9,853.61 1263.45,853.62 1274,853.63 1284.55,853.64 1293.1,853.66 1293.1,853.9" fill="rgba(110,125,135,0.078)" stroke="none" />
<polygon points="778.15,853.9 778.15,853.66 788.7,853.66 799.25,853.66 809.8,853.66 820.35,853.66 830.9,853.66 841.45,853.66 852,853.66 862.55,851.88 873.1,847.58 883.65,842.48 894.2,838.83 904.75,838.83 915.3,843.21 925.85,847.58 936.4,850.42 946.95,849.69 957.5,847.58 968.05,845.39 978.6,834.46 989.15,810.48 999.7,776.54 1010.25,731.27 1020.8,703.08 1031.35,706.32 1041.9,746.17 1052.45,782.62 1063,813.4 1073.55,827.17 1084.1,837.78 1094.65,845.31 1105.2,847.42 1115.75,847.42 1126.3,846.37 1136.85,845.31 1147.4,847.42 1157.95,849.61 1168.5,851.71 1179.05,852.68 1189.6,853.09 1200.15,852.28 1210.7,850.09 1221.25,849.2 1231.8,849.04 1242.35,847.42 1252.9,847.42 1263.45,847.42 1274,849.61 1284.55,851.71 1293.1,852.85 1293.1,853.9" fill="rgba(110,125,135,0.078)" stroke="none" />
<polygon points="778.15,853.9 778.15,853.66 788.7,853.66 799.25,853.66 809.8,853.66 820.35,853.66 830.9,853.66 841.45,853.66 852,853.66 862.55,853.66 873.1,853.66 883.65,853.66 894.2,853.66 904.75,853.66 915.3,853.66 925.85,853.66 936.4,853.66 946.95,853.66 957.5,852.68 968.05,849.04 978.6,841.75 989.15,819.88 999.7,789.1 1010.25,759.21 1020.8,734.75 1031.35,725.35 1041.9,746.25 1052.45,782.13 1063,813.72 1073.55,833.81 1084.1,844.99 1094.65,849.85 1105.2,851.47 1115.75,852.68 1126.3,853.17 1136.85,853.66 1147.4,853.66 1157.95,853.66 1168.5,853.66 1179.05,853.66 1189.6,853.66 1200.15,853.66 1210.7,853.66 1221.25,853.66 1231.8,853.66 1242.35,853.66 1252.9,853.66 1263.45,853.66 1274,853.66 1284.55,853.66 1293.1,853.66 1293.1,853.9" fill="rgba(110,125,135,0.078)" stroke="none" />
<polygon points="778.15,853.9 778.15,853.66 788.7,853.66 799.25,853.66 809.8,853.66 820.35,853.66 830.9,853.66 841.45,853.66 852,853.66 862.55,853.66 873.1,853.66 883.65,853.66 894.2,853.66 904.75,853.66 915.3,853.66 925.85,853.66 936.4,853.66 946.95,853.66 957.5,852.68 968.05,849.85 978.6,844.18 989.15,823.12 999.7,792.34 1010.25,760.59 1020.8,742.93 1031.35,744.55 1041.9,769.25 1052.45,796.47 1063,822.39 1073.55,836.73 1084.1,845.8 1094.65,850.25 1105.2,851.88 1115.75,852.68 1126.3,853.17 1136.85,853.66 1147.4,853.66 1157.95,853.66 1168.5,853.66 1179.05,853.66 1189.6,853.66 1200.15,853.66 1210.7,853.66 1221.25,853.66 1231.8,853.66 1242.35,853.66 1252.9,853.66 1263.45,853.66 1274,853.66 1284.55,853.66 1293.1,853.66 1293.1,853.9" fill="rgba(110,125,135,0.078)" stroke="none" />
<polygon points="778.15,853.9 778.15,853.66 788.7,853.66 799.25,853.66 809.8,853.66 820.35,853.66 830.9,853.66 841.45,853.66 852,853.66 862.55,853.66 873.1,853.66 883.65,853.66 894.2,853.66 904.75,853.66 915.3,853.66 925.85,853.66 936.4,853.66 946.95,853.66 957.5,852.68 968.05,850.66 978.6,846.61 989.15,829.6 999.7,805.3 1010.25,781 1020.8,763.18 1031.35,760.75 1041.9,782.62 1052.45,808.54 1063,829.6 1073.55,841.75 1084.1,848.23 1094.65,851.06 1105.2,852.28 1115.75,852.97 1126.3,853.66 1136.85,853.66 1147.4,853.66 1157.95,853.66 1168.5,853.66 1179.05,853.66 1189.6,853.66 1200.15,853.66 1210.7,853.66 1221.25,853.66 1231.8,853.66 1242.35,853.66 1252.9,853.66 1263.45,853.66 1274,853.66 1284.55,853.66 1293.1,853.66 1293.1,853.9" fill="rgba(110,125,135,0.078)" stroke="none" />
<polyline points="778.15,853.66 788.7,853.65 799.25,853.64 809.8,853.63 820.35,853.62 830.9,853.61 841.45,853.6 852,853.59 862.55,853.58 873.1,853.57 883.65,853.56 894.2,853.55 904.75,853.54 915.3,853.53 925.85,853.52 936.4,853.51 946.95,853.5 957.5,851.47 968.05,846.61 978.6,815.02 989.15,740.5 999.7,651.4 1010.25,562.3 1020.8,518.56 1031.35,542.45 1041.9,631.96 1052.45,721.06 1063,787.07 1073.55,824.74 1084.1,838.51 1094.65,845.8 1105.2,848.23 1115.75,850.66 1126.3,851.88 1136.85,852.68 1147.4,853.09 1157.95,853.5 1168.5,853.51 1179.05,853.52 1189.6,853.53 1200.15,853.54 1210.7,853.56 1221.25,853.57 1231.8,853.58 1242.35,853.59 1252.9,853.61 1263.45,853.62 1274,853.63 1284.55,853.64 1293.1,853.66" stroke="#76899a" stroke-width="2.4" fill="none" stroke-linejoin="round" />
<polyline points="778.15,853.66 788.7,853.66 799.25,853.66 809.8,853.66 820.35,853.66 830.9,853.66 841.45,853.66 852,853.66 862.55,851.88 873.1,847.58 883.65,842.48 894.2,838.83 904.75,838.83 915.3,843.21 925.85,847.58 936.4,850.42 946.95,849.69 957.5,847.58 968.05,845.39 978.6,834.46 989.15,810.48 999.7,776.54 1010.25,731.27 1020.8,703.08 1031.35,706.32 1041.9,746.17 1052.45,782.62 1063,813.4 1073.55,827.17 1084.1,837.78 1094.65,845.31 1105.2,847.42 1115.75,847.42 1126.3,846.37 1136.85,845.31 1147.4,847.42 1157.95,849.61 1168.5,851.71 1179.05,852.68 1189.6,853.09 1200.15,852.28 1210.7,850.09 1221.25,849.2 1231.8,849.04 1242.35,847.42 1252.9,847.42 1263.45,847.42 1274,849.61 1284.55,851.71 1293.1,852.85" stroke="#76899a" stroke-width="2.4" fill="none" stroke-linejoin="round" />
<polyline points="778.15,853.66 788.7,853.66 799.25,853.66 809.8,853.66 820.35,853.66 830.9,853.66 841.45,853.66 852,853.66 862.55,853.66 873.1,853.66 883.65,853.66 894.2,853.66 904.75,853.66 915.3,853.66 925.85,853.66 936.4,853.66 946.95,853.66 957.5,852.68 968.05,849.04 978.6,841.75 989.15,819.88 999.7,789.1 1010.25,759.21 1020.8,734.75 1031.35,725.35 1041.9,746.25 1052.45,782.13 1063,813.72 1073.55,833.81 1084.1,844.99 1094.65,849.85 1105.2,851.47 1115.75,852.68 1126.3,853.17 1136.85,853.66 1147.4,853.66 1157.95,853.66 1168.5,853.66 1179.05,853.66 1189.6,853.66 1200.15,853.66 1210.7,853.66 1221.25,853.66 1231.8,853.66 1242.35,853.66 1252.9,853.66 1263.45,853.66 1274,853.66 1284.55,853.66 1293.1,853.66" stroke="#76899a" stroke-width="2.4" fill="none" stroke-linejoin="round" />
<polyline points="778.15,853.66 788.7,853.66 799.25,853.66 809.8,853.66 820.35,853.66 830.9,853.66 841.45,853.66 852,853.66 862.55,853.66 873.1,853.66 883.65,853.66 894.2,853.66 904.75,853.66 915.3,853.66 925.85,853.66 936.4,853.66 946.95,853.66 957.5,852.68 968.05,849.85 978.6,844.18 989.15,823.12 999.7,792.34 1010.25,760.59 1020.8,742.93 1031.35,744.55 1041.9,769.25 1052.45,796.47 1063,822.39 1073.55,836.73 1084.1,845.8 1094.65,850.25 1105.2,851.88 1115.75,852.68 1126.3,853.17 1136.85,853.66 1147.4,853.66 1157.95,853.66 1168.5,853.66 1179.05,853.66 1189.6,853.66 1200.15,853.66 1210.7,853.66 1221.25,853.66 1231.8,853.66 1242.35,853.66 1252.9,853.66 1263.45,853.66 1274,853.66 1284.55,853.66 1293.1,853.66" stroke="#76899a" stroke-width="2.4" fill="none" stroke-linejoin="round" />
<polyline points="778.15,853.66 788.7,853.66 799.25,853.66 809.8,853.66 820.35,853.66 830.9,853.66 841.45,853.66 852,853.66 862.55,853.66 873.1,853.66 883.65,853.66 894.2,853.66 904.75,853.66 915.3,853.66 925.85,853.66 936.4,853.66 946.95,853.66 957.5,852.68 968.05,850.66 978.6,846.61 989.15,829.6 999.7,805.3 1010.25,781 1020.8,763.18 1031.35,760.75 1041.9,782.62 1052.45,808.54 1063,829.6 1073.55,841.75 1084.1,848.23 1094.65,851.06 1105.2,852.28 1115.75,852.97 1126.3,853.66 1136.85,853.66 1147.4,853.66 1157.95,853.66 1168.5,853.66 1179.05,853.66 1189.6,853.66 1200.15,853.66 1210.7,853.66 1221.25,853.66 1231.8,853.66 1242.35,853.66 1252.9,853.66 1263.45,853.66 1274,853.66 1284.55,853.66 1293.1,853.66" stroke="#76899a" stroke-width="2.4" fill="none" stroke-linejoin="round" />
<polygon points="778.15,853.9 778.15,847.66 788.7,848.63 799.25,849.69 809.8,848.88 820.35,847.82 830.9,846.53 841.45,847.66 852,847.66 862.55,847.66 873.1,846.29 883.65,847.01 894.2,848.23 904.75,849.61 915.3,849.61 925.85,849.61 936.4,849.61 946.95,849.61 957.5,848.23 968.05,845.8 978.6,840.13 989.15,827.98 999.7,805.3 1010.25,774.2 1020.8,757.02 1031.35,762.77 1041.9,787.07 1052.45,814.45 1063,830.41 1073.55,839.73 1084.1,840.7 1094.65,839.73 1105.2,835.84 1115.75,828.22 1126.3,825.55 1136.85,828.22 1147.4,835.84 1157.95,843.77 1168.5,847.66 1179.05,849.53 1189.6,848.31 1200.15,847.26 1210.7,845.88 1221.25,845.88 1231.8,845.88 1242.35,848.15 1252.9,850.42 1263.45,851.63 1274,851.63 1284.55,851.63 1293.1,849.36 1293.1,853.9" fill="#f9e4e7" stroke="none" />
<polyline points="778.15,847.66 788.7,848.63 799.25,849.69 809.8,848.88 820.35,847.82 830.9,846.53 841.45,847.66 852,847.66 862.55,847.66 873.1,846.29 883.65,847.01 894.2,848.23 904.75,849.61 915.3,849.61 925.85,849.61 936.4,849.61 946.95,849.61 957.5,848.23 968.05,845.8 978.6,840.13 989.15,827.98 999.7,805.3 1010.25,774.2 1020.8,757.02 1031.35,762.77 1041.9,787.07 1052.45,814.45 1063,830.41 1073.55,839.73 1084.1,840.7 1094.65,839.73 1105.2,835.84 1115.75,828.22 1126.3,825.55 1136.85,828.22 1147.4,835.84 1157.95,843.77 1168.5,847.66 1179.05,849.53 1189.6,848.31 1200.15,847.26 1210.7,845.88 1221.25,845.88 1231.8,845.88 1242.35,848.15 1252.9,850.42 1263.45,851.63 1274,851.63 1284.55,851.63 1293.1,849.36" stroke="#c8102e" stroke-width="3" fill="none" stroke-linejoin="round" />
<line x1="1266.5" y1="494.1" x2="1266.5" y2="853.9" stroke="#1a1a1a" stroke-width="2.1" stroke-dasharray="5.2,2.6,1.8,2.6"/>
<line x1="789.6" y1="854.6" x2="789.6" y2="859.4" stroke="#111" stroke-width="1.3" />
<line x1="789.6" y1="494.1" x2="789.6" y2="499.1" stroke="#111" stroke-width="1.2" />
<line x1="811.25" y1="854.6" x2="811.25" y2="857.4" stroke="#222" stroke-width="1.1" />
<line x1="811.25" y1="494.1" x2="811.25" y2="496.6" stroke="#222" stroke-width="1.1" />
<line x1="832.9" y1="854.6" x2="832.9" y2="857.4" stroke="#222" stroke-width="1.1" />
<line x1="832.9" y1="494.1" x2="832.9" y2="496.6" stroke="#222" stroke-width="1.1" />
<line x1="854.55" y1="854.6" x2="854.55" y2="857.4" stroke="#222" stroke-width="1.1" />
<line x1="854.55" y1="494.1" x2="854.55" y2="496.6" stroke="#222" stroke-width="1.1" />
<line x1="876.2" y1="854.6" x2="876.2" y2="859.4" stroke="#111" stroke-width="1.3" />
<line x1="876.2" y1="494.1" x2="876.2" y2="499.1" stroke="#111" stroke-width="1.2" />
<line x1="897.85" y1="854.6" x2="897.85" y2="857.4" stroke="#222" stroke-width="1.1" />
<line x1="897.85" y1="494.1" x2="897.85" y2="496.6" stroke="#222" stroke-width="1.1" />
<line x1="919.5" y1="854.6" x2="919.5" y2="857.4" stroke="#222" stroke-width="1.1" />
<line x1="919.5" y1="494.1" x2="919.5" y2="496.6" stroke="#222" stroke-width="1.1" />
<line x1="941.15" y1="854.6" x2="941.15" y2="857.4" stroke="#222" stroke-width="1.1" />
<line x1="941.15" y1="494.1" x2="941.15" y2="496.6" stroke="#222" stroke-width="1.1" />
<line x1="962.8" y1="854.6" x2="962.8" y2="859.4" stroke="#111" stroke-width="1.3" />
<line x1="962.8" y1="494.1" x2="962.8" y2="499.1" stroke="#111" stroke-width="1.2" />
<line x1="984.45" y1="854.6" x2="984.45" y2="857.4" stroke="#222" stroke-width="1.1" />
<line x1="984.45" y1="494.1" x2="984.45" y2="496.6" stroke="#222" stroke-width="1.1" />
<line x1="1006.1" y1="854.6" x2="1006.1" y2="857.4" stroke="#222" stroke-width="1.1" />
<line x1="1006.1" y1="494.1" x2="1006.1" y2="496.6" stroke="#222" stroke-width="1.1" />
<line x1="1027.75" y1="854.6" x2="1027.75" y2="857.4" stroke="#222" stroke-width="1.1" />
<line x1="1027.75" y1="494.1" x2="1027.75" y2="496.6" stroke="#222" stroke-width="1.1" />
<line x1="1049.4" y1="854.6" x2="1049.4" y2="859.4" stroke="#111" stroke-width="1.3" />
<line x1="1049.4" y1="494.1" x2="1049.4" y2="499.1" stroke="#111" stroke-width="1.2" />
<line x1="1071.05" y1="854.6" x2="1071.05" y2="857.4" stroke="#222" stroke-width="1.1" />
<line x1="1071.05" y1="494.1" x2="1071.05" y2="496.6" stroke="#222" stroke-width="1.1" />
<line x1="1092.7" y1="854.6" x2="1092.7" y2="857.4" stroke="#222" stroke-width="1.1" />
<line x1="1092.7" y1="494.1" x2="1092.7" y2="496.6" stroke="#222" stroke-width="1.1" />
<line x1="1114.35" y1="854.6" x2="1114.35" y2="857.4" stroke="#222" stroke-width="1.1" />
<line x1="1114.35" y1="494.1" x2="1114.35" y2="496.6" stroke="#222" stroke-width="1.1" />
<line x1="1136" y1="854.6" x2="1136" y2="859.4" stroke="#111" stroke-width="1.3" />
<line x1="1136" y1="494.1" x2="1136" y2="499.1" stroke="#111" stroke-width="1.2" />
<line x1="1157.65" y1="854.6" x2="1157.65" y2="857.4" stroke="#222" stroke-width="1.1" />
<line x1="1157.65" y1="494.1" x2="1157.65" y2="496.6" stroke="#222" stroke-width="1.1" />
<line x1="1179.3" y1="854.6" x2="1179.3" y2="857.4" stroke="#222" stroke-width="1.1" />
<line x1="1179.3" y1="494.1" x2="1179.3" y2="496.6" stroke="#222" stroke-width="1.1" />
<line x1="1200.95" y1="854.6" x2="1200.95" y2="857.4" stroke="#222" stroke-width="1.1" />
<line x1="1200.95" y1="494.1" x2="1200.95" y2="496.6" stroke="#222" stroke-width="1.1" />
<line x1="1222.6" y1="854.6" x2="1222.6" y2="859.4" stroke="#111" stroke-width="1.3" />
<line x1="1222.6" y1="494.1" x2="1222.6" y2="499.1" stroke="#111" stroke-width="1.2" />
<line x1="1244.25" y1="854.6" x2="1244.25" y2="857.4" stroke="#222" stroke-width="1.1" />
<line x1="1244.25" y1="494.1" x2="1244.25" y2="496.6" stroke="#222" stroke-width="1.1" />
<line x1="1265.9" y1="854.6" x2="1265.9" y2="857.4" stroke="#222" stroke-width="1.1" />
<line x1="1265.9" y1="494.1" x2="1265.9" y2="496.6" stroke="#222" stroke-width="1.1" />
<line x1="1287.55" y1="854.6" x2="1287.55" y2="857.4" stroke="#222" stroke-width="1.1" />
<line x1="1287.55" y1="494.1" x2="1287.55" y2="496.6" stroke="#222" stroke-width="1.1" />
<line x1="771.7" y1="853.9" x2="781.7" y2="853.9" stroke="#111" stroke-width="1.3" />
<line x1="1288.1" y1="853.9" x2="1293.1" y2="853.9" stroke="#222" stroke-width="1.1" />
<line x1="774.2" y1="837.7" x2="779.7" y2="837.7" stroke="#222" stroke-width="1.1" />
<line x1="1290.4" y1="837.7" x2="1293.1" y2="837.7" stroke="#222" stroke-width="1.1" />
<line x1="774.2" y1="821.5" x2="779.7" y2="821.5" stroke="#222" stroke-width="1.1" />
<line x1="1290.4" y1="821.5" x2="1293.1" y2="821.5" stroke="#222" stroke-width="1.1" />
<line x1="774.2" y1="805.3" x2="779.7" y2="805.3" stroke="#222" stroke-width="1.1" />
<line x1="1290.4" y1="805.3" x2="1293.1" y2="805.3" stroke="#222" stroke-width="1.1" />
<line x1="774.2" y1="789.1" x2="779.7" y2="789.1" stroke="#222" stroke-width="1.1" />
<line x1="1290.4" y1="789.1" x2="1293.1" y2="789.1" stroke="#222" stroke-width="1.1" />
<line x1="771.7" y1="772.9" x2="781.7" y2="772.9" stroke="#111" stroke-width="1.3" />
<line x1="1288.1" y1="772.9" x2="1293.1" y2="772.9" stroke="#222" stroke-width="1.1" />
<line x1="774.2" y1="756.7" x2="779.7" y2="756.7" stroke="#222" stroke-width="1.1" />
<line x1="1290.4" y1="756.7" x2="1293.1" y2="756.7" stroke="#222" stroke-width="1.1" />
<line x1="774.2" y1="740.5" x2="779.7" y2="740.5" stroke="#222" stroke-width="1.1" />
<line x1="1290.4" y1="740.5" x2="1293.1" y2="740.5" stroke="#222" stroke-width="1.1" />
<line x1="774.2" y1="724.3" x2="779.7" y2="724.3" stroke="#222" stroke-width="1.1" />
<line x1="1290.4" y1="724.3" x2="1293.1" y2="724.3" stroke="#222" stroke-width="1.1" />
<line x1="774.2" y1="708.1" x2="779.7" y2="708.1" stroke="#222" stroke-width="1.1" />
<line x1="1290.4" y1="708.1" x2="1293.1" y2="708.1" stroke="#222" stroke-width="1.1" />
<line x1="771.7" y1="691.9" x2="781.7" y2="691.9" stroke="#111" stroke-width="1.3" />
<line x1="1288.1" y1="691.9" x2="1293.1" y2="691.9" stroke="#222" stroke-width="1.1" />
<line x1="774.2" y1="675.7" x2="779.7" y2="675.7" stroke="#222" stroke-width="1.1" />
<line x1="1290.4" y1="675.7" x2="1293.1" y2="675.7" stroke="#222" stroke-width="1.1" />
<line x1="774.2" y1="659.5" x2="779.7" y2="659.5" stroke="#222" stroke-width="1.1" />
<line x1="1290.4" y1="659.5" x2="1293.1" y2="659.5" stroke="#222" stroke-width="1.1" />
<line x1="774.2" y1="643.3" x2="779.7" y2="643.3" stroke="#222" stroke-width="1.1" />
<line x1="1290.4" y1="643.3" x2="1293.1" y2="643.3" stroke="#222" stroke-width="1.1" />
<line x1="774.2" y1="627.1" x2="779.7" y2="627.1" stroke="#222" stroke-width="1.1" />
<line x1="1290.4" y1="627.1" x2="1293.1" y2="627.1" stroke="#222" stroke-width="1.1" />
<line x1="771.7" y1="610.9" x2="781.7" y2="610.9" stroke="#111" stroke-width="1.3" />
<line x1="1288.1" y1="610.9" x2="1293.1" y2="610.9" stroke="#222" stroke-width="1.1" />
<line x1="774.2" y1="594.7" x2="779.7" y2="594.7" stroke="#222" stroke-width="1.1" />
<line x1="1290.4" y1="594.7" x2="1293.1" y2="594.7" stroke="#222" stroke-width="1.1" />
<line x1="774.2" y1="578.5" x2="779.7" y2="578.5" stroke="#222" stroke-width="1.1" />
<line x1="1290.4" y1="578.5" x2="1293.1" y2="578.5" stroke="#222" stroke-width="1.1" />
<line x1="774.2" y1="562.3" x2="779.7" y2="562.3" stroke="#222" stroke-width="1.1" />
<line x1="1290.4" y1="562.3" x2="1293.1" y2="562.3" stroke="#222" stroke-width="1.1" />
<line x1="774.2" y1="546.1" x2="779.7" y2="546.1" stroke="#222" stroke-width="1.1" />
<line x1="1290.4" y1="546.1" x2="1293.1" y2="546.1" stroke="#222" stroke-width="1.1" />
<line x1="771.7" y1="529.9" x2="781.7" y2="529.9" stroke="#111" stroke-width="1.3" />
<line x1="1288.1" y1="529.9" x2="1293.1" y2="529.9" stroke="#222" stroke-width="1.1" />
<line x1="774.2" y1="513.7" x2="779.7" y2="513.7" stroke="#222" stroke-width="1.1" />
<line x1="1290.4" y1="513.7" x2="1293.1" y2="513.7" stroke="#222" stroke-width="1.1" />
<line x1="774.2" y1="497.5" x2="779.7" y2="497.5" stroke="#222" stroke-width="1.1" />
<line x1="1290.4" y1="497.5" x2="1293.1" y2="497.5" stroke="#222" stroke-width="1.1" />
<text x="789.6" y="883.4" font-size="23.8" text-anchor="middle" fill="#000" >13.2</text>
<text x="876.2" y="883.4" font-size="23.8" text-anchor="middle" fill="#000" >13.4</text>
<text x="962.8" y="883.4" font-size="23.8" text-anchor="middle" fill="#000" >13.6</text>
<text x="1049.4" y="883.4" font-size="23.8" text-anchor="middle" fill="#000" >13.8</text>
<text x="1136" y="883.4" font-size="23.8" text-anchor="middle" fill="#000" >14</text>
<text x="1222.6" y="883.4" font-size="23.8" text-anchor="middle" fill="#000" >14.2</text>
<text x="761" y="861.2" font-size="23.6" text-anchor="end" fill="#000" >0</text>
<text x="761" y="780.2" font-size="23.6" text-anchor="end" fill="#000" >1,000</text>
<text x="761" y="699.2" font-size="23.6" text-anchor="end" fill="#000" >2,000</text>
<text x="761" y="618.2" font-size="23.6" text-anchor="end" fill="#000" >3,000</text>
<text x="761" y="537.2" font-size="23.6" text-anchor="end" fill="#000" >4,000</text>
<text x="1042.6" y="919.8" font-size="23.6" text-anchor="middle" fill="#000" >Retention time</text>
<text x="1011.1" y="391" font-size="27.5" text-anchor="middle" fill="#000" >K562 conflict</text>
<rect x="775" y="402.5" width="496.5" height="83.7" fill="#fff" stroke="#8a8a8a" stroke-width="1.2" />
<line x1="779.5" y1="418.4" x2="796.2" y2="418.4" stroke="#d0283c" stroke-width="1.2" />
<text x="797.2" y="423.6" font-size="23.65" text-anchor="start" fill="#000" >[y4+] – 489.242 m/z</text>
<line x1="1016.6" y1="418.4" x2="1032.5" y2="418.4" stroke="#b8c4d0" stroke-width="1.2" />
<text x="1032.7" y="423.6" font-size="23.65" text-anchor="start" fill="#000" >[y6+] – 677.321 m/z</text>
<line x1="779.5" y1="446.25" x2="796.2" y2="446.25" stroke="#b8c4d0" stroke-width="1.2" />
<text x="797.2" y="451.45" font-size="23.65" text-anchor="start" fill="#000" >[y2+] – 246.156 m/z</text>
<line x1="1016.6" y1="446.25" x2="1032.5" y2="446.25" stroke="#b8c4d0" stroke-width="1.2" />
<text x="1032.7" y="451.45" font-size="23.65" text-anchor="start" fill="#000" >[y5+] – 576.274 m/z</text>
<line x1="779.5" y1="474.1" x2="796.2" y2="474.1" stroke="#b8c4d0" stroke-width="1.2" />
<text x="797.2" y="479.3" font-size="23.65" text-anchor="start" fill="#000" >[y7+] – 805.380 m/z</text>
<line x1="1016.6" y1="474.1" x2="1032.5" y2="474.1" stroke="#b8c4d0" stroke-width="1.2" />
<text x="1032.7" y="479.3" font-size="23.65" text-anchor="start" fill="#000" >[b2+] – 171.113 m/z</text>
<text x="695.5" y="434.5" font-size="42" text-anchor="start" fill="#000" font-weight="bold" >d</text>
<line x1="174.46" y1="1376.2" x2="174.46" y2="1372.53" stroke="#7f7f7f" stroke-width="1.6" />
<line x1="176.13" y1="1376.2" x2="176.13" y2="1373.84" stroke="#7f7f7f" stroke-width="1.6" />
<line x1="177.75" y1="1376.2" x2="177.75" y2="1375.34" stroke="#7f7f7f" stroke-width="1.6" />
<line x1="180.74" y1="1376.2" x2="180.74" y2="1375.1" stroke="#7f7f7f" stroke-width="1.6" />
<line x1="183.7" y1="1376.2" x2="183.7" y2="1370.88" stroke="#7f7f7f" stroke-width="1.6" />
<line x1="185.93" y1="1376.2" x2="185.93" y2="1371.17" stroke="#7f7f7f" stroke-width="1.6" />
<line x1="189.45" y1="1376.2" x2="189.45" y2="1371.04" stroke="#7f7f7f" stroke-width="1.6" />
<line x1="191.03" y1="1376.2" x2="191.03" y2="1369.9" stroke="#7f7f7f" stroke-width="1.6" />
<line x1="192.96" y1="1376.2" x2="192.96" y2="1374.1" stroke="#7f7f7f" stroke-width="1.6" />
<line x1="197.36" y1="1376.2" x2="197.36" y2="1372.85" stroke="#7f7f7f" stroke-width="1.6" />
<line x1="201.1" y1="1376.2" x2="201.1" y2="1373" stroke="#7f7f7f" stroke-width="1.6" />
<line x1="202.74" y1="1376.2" x2="202.74" y2="1374.57" stroke="#7f7f7f" stroke-width="1.6" />
<line x1="206.64" y1="1376.2" x2="206.64" y2="1374.07" stroke="#7f7f7f" stroke-width="1.6" />
<line x1="210.19" y1="1376.2" x2="210.19" y2="1374.14" stroke="#7f7f7f" stroke-width="1.6" />
<line x1="214.51" y1="1376.2" x2="214.51" y2="1374.4" stroke="#7f7f7f" stroke-width="1.6" />
<line x1="218.02" y1="1376.2" x2="218.02" y2="1371.5" stroke="#7f7f7f" stroke-width="1.6" />
<line x1="222.09" y1="1376.2" x2="222.09" y2="1371.02" stroke="#7f7f7f" stroke-width="1.6" />
<line x1="223.93" y1="1376.2" x2="223.93" y2="1372.05" stroke="#7f7f7f" stroke-width="1.6" />
<line x1="225.9" y1="1376.2" x2="225.9" y2="1375.33" stroke="#7f7f7f" stroke-width="1.6" />
<line x1="229.75" y1="1376.2" x2="229.75" y2="1372.89" stroke="#7f7f7f" stroke-width="1.6" />
<line x1="234.36" y1="1376.2" x2="234.36" y2="1372.33" stroke="#7f7f7f" stroke-width="1.6" />
<line x1="237.95" y1="1376.2" x2="237.95" y2="1373.42" stroke="#7f7f7f" stroke-width="1.6" />
<line x1="242.43" y1="1376.2" x2="242.43" y2="1368.8" stroke="#7f7f7f" stroke-width="1.6" />
<line x1="246.27" y1="1376.2" x2="246.27" y2="1372.3" stroke="#7f7f7f" stroke-width="1.6" />
<line x1="250.04" y1="1376.2" x2="250.04" y2="1366.73" stroke="#7f7f7f" stroke-width="1.6" />
<line x1="252.49" y1="1376.2" x2="252.49" y2="1372.45" stroke="#7f7f7f" stroke-width="1.6" />
<line x1="253.98" y1="1376.2" x2="253.98" y2="1374.74" stroke="#7f7f7f" stroke-width="1.6" />
<line x1="255.82" y1="1376.2" x2="255.82" y2="1371.99" stroke="#7f7f7f" stroke-width="1.6" />
<line x1="257.7" y1="1376.2" x2="257.7" y2="1373.72" stroke="#7f7f7f" stroke-width="1.6" />
<line x1="262.3" y1="1376.2" x2="262.3" y2="1373.46" stroke="#7f7f7f" stroke-width="1.6" />
<line x1="265.72" y1="1376.2" x2="265.72" y2="1366.74" stroke="#7f7f7f" stroke-width="1.6" />
<line x1="270.29" y1="1376.2" x2="270.29" y2="1373.61" stroke="#7f7f7f" stroke-width="1.6" />
<line x1="273.01" y1="1376.2" x2="273.01" y2="1365.92" stroke="#7f7f7f" stroke-width="1.6" />
<line x1="274.97" y1="1376.2" x2="274.97" y2="1374.45" stroke="#7f7f7f" stroke-width="1.6" />
<line x1="277.23" y1="1376.2" x2="277.23" y2="1372.81" stroke="#7f7f7f" stroke-width="1.6" />
<line x1="279.6" y1="1376.2" x2="279.6" y2="1373.59" stroke="#7f7f7f" stroke-width="1.6" />
<line x1="282.36" y1="1376.2" x2="282.36" y2="1371.15" stroke="#7f7f7f" stroke-width="1.6" />
<line x1="286.29" y1="1376.2" x2="286.29" y2="1372.68" stroke="#7f7f7f" stroke-width="1.6" />
<line x1="290.18" y1="1376.2" x2="290.18" y2="1371.39" stroke="#7f7f7f" stroke-width="1.6" />
<line x1="294.44" y1="1376.2" x2="294.44" y2="1366.87" stroke="#7f7f7f" stroke-width="1.6" />
<line x1="297.28" y1="1376.2" x2="297.28" y2="1375.04" stroke="#7f7f7f" stroke-width="1.6" />
<line x1="301.01" y1="1376.2" x2="301.01" y2="1375.2" stroke="#7f7f7f" stroke-width="1.6" />
<line x1="303.19" y1="1376.2" x2="303.19" y2="1373.96" stroke="#7f7f7f" stroke-width="1.6" />
<line x1="304.79" y1="1376.2" x2="304.79" y2="1374.82" stroke="#7f7f7f" stroke-width="1.6" />
<line x1="306.56" y1="1376.2" x2="306.56" y2="1375.4" stroke="#7f7f7f" stroke-width="1.6" />
<line x1="311.17" y1="1376.2" x2="311.17" y2="1374.83" stroke="#7f7f7f" stroke-width="1.6" />
<line x1="313.5" y1="1376.2" x2="313.5" y2="1373.85" stroke="#7f7f7f" stroke-width="1.6" />
<line x1="315.36" y1="1376.2" x2="315.36" y2="1365.71" stroke="#7f7f7f" stroke-width="1.6" />
<line x1="318.47" y1="1376.2" x2="318.47" y2="1375.12" stroke="#7f7f7f" stroke-width="1.6" />
<line x1="320.26" y1="1376.2" x2="320.26" y2="1374.3" stroke="#7f7f7f" stroke-width="1.6" />
<line x1="324.7" y1="1376.2" x2="324.7" y2="1375.41" stroke="#7f7f7f" stroke-width="1.6" />
<line x1="329.59" y1="1376.2" x2="329.59" y2="1374.84" stroke="#7f7f7f" stroke-width="1.6" />
<line x1="332.98" y1="1376.2" x2="332.98" y2="1373.09" stroke="#7f7f7f" stroke-width="1.6" />
<line x1="337.97" y1="1376.2" x2="337.97" y2="1367.47" stroke="#7f7f7f" stroke-width="1.6" />
<line x1="340.33" y1="1376.2" x2="340.33" y2="1374.75" stroke="#7f7f7f" stroke-width="1.6" />
<line x1="344.57" y1="1376.2" x2="344.57" y2="1371.94" stroke="#7f7f7f" stroke-width="1.6" />
<line x1="347.18" y1="1376.2" x2="347.18" y2="1371.8" stroke="#7f7f7f" stroke-width="1.6" />
<line x1="352.19" y1="1376.2" x2="352.19" y2="1366.82" stroke="#7f7f7f" stroke-width="1.6" />
<line x1="356.6" y1="1376.2" x2="356.6" y2="1374.47" stroke="#7f7f7f" stroke-width="1.6" />
<line x1="359.9" y1="1376.2" x2="359.9" y2="1375.38" stroke="#7f7f7f" stroke-width="1.6" />
<line x1="361.41" y1="1376.2" x2="361.41" y2="1374.33" stroke="#7f7f7f" stroke-width="1.6" />
<line x1="365.35" y1="1376.2" x2="365.35" y2="1368.96" stroke="#7f7f7f" stroke-width="1.6" />
<line x1="370.19" y1="1376.2" x2="370.19" y2="1365.93" stroke="#7f7f7f" stroke-width="1.6" />
<line x1="372.93" y1="1376.2" x2="372.93" y2="1374.47" stroke="#7f7f7f" stroke-width="1.6" />
<line x1="375.06" y1="1376.2" x2="375.06" y2="1372.65" stroke="#7f7f7f" stroke-width="1.6" />
<line x1="379.76" y1="1376.2" x2="379.76" y2="1368.77" stroke="#7f7f7f" stroke-width="1.6" />
<line x1="383.56" y1="1376.2" x2="383.56" y2="1375.12" stroke="#7f7f7f" stroke-width="1.6" />
<line x1="387.39" y1="1376.2" x2="387.39" y2="1366.96" stroke="#7f7f7f" stroke-width="1.6" />
<line x1="391.54" y1="1376.2" x2="391.54" y2="1374.7" stroke="#7f7f7f" stroke-width="1.6" />
<line x1="395.84" y1="1376.2" x2="395.84" y2="1371.85" stroke="#7f7f7f" stroke-width="1.6" />
<line x1="400.8" y1="1376.2" x2="400.8" y2="1373.67" stroke="#7f7f7f" stroke-width="1.6" />
<line x1="405.67" y1="1376.2" x2="405.67" y2="1374.73" stroke="#7f7f7f" stroke-width="1.6" />
<line x1="407.55" y1="1376.2" x2="407.55" y2="1371.37" stroke="#7f7f7f" stroke-width="1.6" />
<line x1="411.91" y1="1376.2" x2="411.91" y2="1371.73" stroke="#7f7f7f" stroke-width="1.6" />
<line x1="416.9" y1="1376.2" x2="416.9" y2="1373.91" stroke="#7f7f7f" stroke-width="1.6" />
<line x1="420.32" y1="1376.2" x2="420.32" y2="1375.45" stroke="#7f7f7f" stroke-width="1.6" />
<line x1="425.28" y1="1376.2" x2="425.28" y2="1373.1" stroke="#7f7f7f" stroke-width="1.6" />
<line x1="430.1" y1="1376.2" x2="430.1" y2="1371.52" stroke="#7f7f7f" stroke-width="1.6" />
<line x1="434.54" y1="1376.2" x2="434.54" y2="1374.36" stroke="#7f7f7f" stroke-width="1.6" />
<line x1="437.02" y1="1376.2" x2="437.02" y2="1372.83" stroke="#7f7f7f" stroke-width="1.6" />
<line x1="439.37" y1="1376.2" x2="439.37" y2="1374.91" stroke="#7f7f7f" stroke-width="1.6" />
<line x1="444.11" y1="1376.2" x2="444.11" y2="1373.41" stroke="#7f7f7f" stroke-width="1.6" />
<line x1="447.65" y1="1376.2" x2="447.65" y2="1369.12" stroke="#7f7f7f" stroke-width="1.6" />
<line x1="452.42" y1="1376.2" x2="452.42" y2="1373.08" stroke="#7f7f7f" stroke-width="1.6" />
<line x1="455.74" y1="1376.2" x2="455.74" y2="1373.5" stroke="#7f7f7f" stroke-width="1.6" />
<line x1="457.82" y1="1376.2" x2="457.82" y2="1371.85" stroke="#7f7f7f" stroke-width="1.6" />
<line x1="459.86" y1="1376.2" x2="459.86" y2="1372.19" stroke="#7f7f7f" stroke-width="1.6" />
<line x1="463.31" y1="1376.2" x2="463.31" y2="1373.14" stroke="#7f7f7f" stroke-width="1.6" />
<line x1="466.75" y1="1376.2" x2="466.75" y2="1375.03" stroke="#7f7f7f" stroke-width="1.6" />
<line x1="470.2" y1="1376.2" x2="470.2" y2="1374.24" stroke="#7f7f7f" stroke-width="1.6" />
<line x1="474.44" y1="1376.2" x2="474.44" y2="1372.94" stroke="#7f7f7f" stroke-width="1.6" />
<line x1="478.63" y1="1376.2" x2="478.63" y2="1368.98" stroke="#7f7f7f" stroke-width="1.6" />
<line x1="482.28" y1="1376.2" x2="482.28" y2="1373.17" stroke="#7f7f7f" stroke-width="1.6" />
<line x1="486.22" y1="1376.2" x2="486.22" y2="1373.07" stroke="#7f7f7f" stroke-width="1.6" />
<line x1="489.38" y1="1376.2" x2="489.38" y2="1367.46" stroke="#7f7f7f" stroke-width="1.6" />
<line x1="493.99" y1="1376.2" x2="493.99" y2="1370.07" stroke="#7f7f7f" stroke-width="1.6" />
<line x1="497.45" y1="1376.2" x2="497.45" y2="1366.62" stroke="#7f7f7f" stroke-width="1.6" />
<line x1="499.36" y1="1376.2" x2="499.36" y2="1373.49" stroke="#7f7f7f" stroke-width="1.6" />
<line x1="501.03" y1="1376.2" x2="501.03" y2="1375.18" stroke="#7f7f7f" stroke-width="1.6" />
<line x1="504.89" y1="1376.2" x2="504.89" y2="1371.4" stroke="#7f7f7f" stroke-width="1.6" />
<line x1="506.86" y1="1376.2" x2="506.86" y2="1372.49" stroke="#7f7f7f" stroke-width="1.6" />
<line x1="508.8" y1="1376.2" x2="508.8" y2="1365.86" stroke="#7f7f7f" stroke-width="1.6" />
<line x1="511.01" y1="1376.2" x2="511.01" y2="1369.25" stroke="#7f7f7f" stroke-width="1.6" />
<line x1="514.2" y1="1376.2" x2="514.2" y2="1366.66" stroke="#7f7f7f" stroke-width="1.6" />
<line x1="516.2" y1="1376.2" x2="516.2" y2="1373.15" stroke="#7f7f7f" stroke-width="1.6" />
<line x1="518.85" y1="1376.2" x2="518.85" y2="1374.05" stroke="#7f7f7f" stroke-width="1.6" />
<line x1="522.9" y1="1376.2" x2="522.9" y2="1372.98" stroke="#7f7f7f" stroke-width="1.6" />
<line x1="525.92" y1="1376.2" x2="525.92" y2="1373.99" stroke="#7f7f7f" stroke-width="1.6" />
<line x1="529.61" y1="1376.2" x2="529.61" y2="1375.22" stroke="#7f7f7f" stroke-width="1.6" />
<line x1="534.62" y1="1376.2" x2="534.62" y2="1371.06" stroke="#7f7f7f" stroke-width="1.6" />
<line x1="536.41" y1="1376.2" x2="536.41" y2="1375.33" stroke="#7f7f7f" stroke-width="1.6" />
<line x1="540.67" y1="1376.2" x2="540.67" y2="1374.92" stroke="#7f7f7f" stroke-width="1.6" />
<line x1="543.63" y1="1376.2" x2="543.63" y2="1366.74" stroke="#7f7f7f" stroke-width="1.6" />
<line x1="545.98" y1="1376.2" x2="545.98" y2="1371.3" stroke="#7f7f7f" stroke-width="1.6" />
<line x1="549.48" y1="1376.2" x2="549.48" y2="1375.1" stroke="#7f7f7f" stroke-width="1.6" />
<line x1="551.09" y1="1376.2" x2="551.09" y2="1373.57" stroke="#7f7f7f" stroke-width="1.6" />
<line x1="552.77" y1="1376.2" x2="552.77" y2="1367.84" stroke="#7f7f7f" stroke-width="1.6" />
<line x1="557.11" y1="1376.2" x2="557.11" y2="1371.59" stroke="#7f7f7f" stroke-width="1.6" />
<line x1="558.76" y1="1376.2" x2="558.76" y2="1368.92" stroke="#7f7f7f" stroke-width="1.6" />
<line x1="561.41" y1="1376.2" x2="561.41" y2="1371.27" stroke="#7f7f7f" stroke-width="1.6" />
<line x1="563.8" y1="1376.2" x2="563.8" y2="1373.1" stroke="#7f7f7f" stroke-width="1.6" />
<line x1="566.08" y1="1376.2" x2="566.08" y2="1374.77" stroke="#7f7f7f" stroke-width="1.6" />
<line x1="567.67" y1="1376.2" x2="567.67" y2="1374.08" stroke="#7f7f7f" stroke-width="1.6" />
<line x1="570.19" y1="1376.2" x2="570.19" y2="1374.18" stroke="#7f7f7f" stroke-width="1.6" />
<line x1="573.43" y1="1376.2" x2="573.43" y2="1373.92" stroke="#7f7f7f" stroke-width="1.6" />
<line x1="574.91" y1="1376.2" x2="574.91" y2="1375.44" stroke="#7f7f7f" stroke-width="1.6" />
<line x1="579" y1="1376.2" x2="579" y2="1374.65" stroke="#7f7f7f" stroke-width="1.6" />
<line x1="169.5" y1="1376.2" x2="169.5" y2="1312.22" stroke="#7f7f7f" stroke-width="1.9" />
<line x1="170.45" y1="1376.2" x2="170.45" y2="1372.54" stroke="#7f7f7f" stroke-width="1.9" />
<line x1="185.21" y1="1376.2" x2="185.21" y2="1368.69" stroke="#7f7f7f" stroke-width="1.9" />
<line x1="187.01" y1="1376.2" x2="187.01" y2="1372.08" stroke="#7f7f7f" stroke-width="1.9" />
<line x1="193.09" y1="1376.2" x2="193.09" y2="1277.87" stroke="#7f7f7f" stroke-width="1.9" />
<line x1="195.01" y1="1376.2" x2="195.01" y2="1364.66" stroke="#7f7f7f" stroke-width="1.9" />
<line x1="209.14" y1="1376.2" x2="209.14" y2="1303.88" stroke="#7f7f7f" stroke-width="1.9" />
<line x1="210.49" y1="1376.2" x2="210.49" y2="1343.64" stroke="#7f7f7f" stroke-width="1.9" />
<line x1="216.91" y1="1376.2" x2="216.91" y2="1365.25" stroke="#7f7f7f" stroke-width="1.9" />
<line x1="218.99" y1="1376.2" x2="218.99" y2="1361.73" stroke="#7f7f7f" stroke-width="1.9" />
<line x1="225.36" y1="1376.2" x2="225.36" y2="1372.54" stroke="#7f7f7f" stroke-width="1.9" />
<line x1="232.79" y1="1376.2" x2="232.79" y2="1369.06" stroke="#7f7f7f" stroke-width="1.9" />
<line x1="241.8" y1="1376.2" x2="241.8" y2="1366.17" stroke="#7f7f7f" stroke-width="1.9" />
<line x1="248.73" y1="1376.2" x2="248.73" y2="1368.69" stroke="#7f7f7f" stroke-width="1.9" />
<line x1="251.94" y1="1376.2" x2="251.94" y2="1369.33" stroke="#7f7f7f" stroke-width="1.9" />
<line x1="265.39" y1="1376.2" x2="265.39" y2="1353.12" stroke="#7f7f7f" stroke-width="1.9" />
<line x1="270.97" y1="1376.2" x2="270.97" y2="1372.99" stroke="#7f7f7f" stroke-width="1.9" />
<line x1="281.72" y1="1376.2" x2="281.72" y2="1298.34" stroke="#7f7f7f" stroke-width="1.9" />
<line x1="282.51" y1="1376.2" x2="282.51" y2="1359.8" stroke="#7f7f7f" stroke-width="1.9" />
<line x1="313.09" y1="1376.2" x2="313.09" y2="1366.9" stroke="#7f7f7f" stroke-width="1.9" />
<line x1="316.69" y1="1376.2" x2="316.69" y2="1345.65" stroke="#7f7f7f" stroke-width="1.9" />
<line x1="328.01" y1="1376.2" x2="328.01" y2="1369.79" stroke="#7f7f7f" stroke-width="1.9" />
<line x1="329.98" y1="1376.2" x2="329.98" y2="1355.45" stroke="#7f7f7f" stroke-width="1.9" />
<line x1="335.11" y1="1376.2" x2="335.11" y2="1283.09" stroke="#7f7f7f" stroke-width="1.9" />
<line x1="336.29" y1="1376.2" x2="336.29" y2="1348.03" stroke="#7f7f7f" stroke-width="1.9" />
<line x1="337.92" y1="1376.2" x2="337.92" y2="1327.01" stroke="#7f7f7f" stroke-width="1.9" />
<line x1="340.12" y1="1376.2" x2="340.12" y2="1296.51" stroke="#7f7f7f" stroke-width="1.9" />
<line x1="341.07" y1="1376.2" x2="341.07" y2="1344.46" stroke="#7f7f7f" stroke-width="1.9" />
<line x1="366.98" y1="1376.2" x2="366.98" y2="1367.04" stroke="#7f7f7f" stroke-width="1.9" />
<line x1="377.51" y1="1376.2" x2="377.51" y2="1352.25" stroke="#7f7f7f" stroke-width="1.9" />
<line x1="378.91" y1="1376.2" x2="378.91" y2="1362.46" stroke="#7f7f7f" stroke-width="1.9" />
<line x1="382.52" y1="1376.2" x2="382.52" y2="1270.08" stroke="#7f7f7f" stroke-width="1.9" />
<line x1="383.98" y1="1376.2" x2="383.98" y2="1353.76" stroke="#7f7f7f" stroke-width="1.9" />
<line x1="388.37" y1="1376.2" x2="388.37" y2="1306.63" stroke="#7f7f7f" stroke-width="1.9" />
<line x1="438.6" y1="1376.2" x2="438.6" y2="1343.22" stroke="#7f7f7f" stroke-width="1.9" />
<line x1="483.59" y1="1376.2" x2="483.59" y2="1366.77" stroke="#7f7f7f" stroke-width="1.9" />
<line x1="494.69" y1="1376.2" x2="494.69" y2="1149.03" stroke="#7f7f7f" stroke-width="1.9" />
<line x1="495.93" y1="1376.2" x2="495.93" y2="1349.18" stroke="#7f7f7f" stroke-width="1.9" />
<line x1="514.51" y1="1376.2" x2="514.51" y2="1366.77" stroke="#7f7f7f" stroke-width="1.9" />
<line x1="555.62" y1="1376.2" x2="555.62" y2="1355.13" stroke="#7f7f7f" stroke-width="1.9" />
<line x1="557.14" y1="1376.2" x2="557.14" y2="1345.51" stroke="#7f7f7f" stroke-width="1.9" />
<line x1="567.33" y1="1376.2" x2="567.33" y2="1338.32" stroke="#7f7f7f" stroke-width="1.9" />
<line x1="569.02" y1="1376.2" x2="569.02" y2="1362.46" stroke="#7f7f7f" stroke-width="1.9" />
<line x1="209.65" y1="1376.2" x2="209.65" y2="1282.31" stroke="#3a9ad9" stroke-width="2.2" />
<line x1="251.94" y1="1376.2" x2="251.94" y2="1291.01" stroke="#c8102e" stroke-width="2.2" />
<line x1="316.69" y1="1376.2" x2="316.69" y2="1332.32" stroke="#c8102e" stroke-width="2.2" stroke-dasharray="5,1.5"/>
<line x1="388.21" y1="1376.2" x2="388.21" y2="1253" stroke="#8dc63f" stroke-width="2.2" />
<line x1="437.81" y1="1376.2" x2="437.81" y2="1269.49" stroke="#c8102e" stroke-width="2.2" />
<line x1="494.69" y1="1376.2" x2="494.69" y2="1055.6" stroke="#c8102e" stroke-width="2.2" stroke-dasharray="5,1.5"/>
<line x1="566.82" y1="1376.2" x2="566.82" y2="1231.01" stroke="#c8102e" stroke-width="2.2" />
<line x1="209.65" y1="1376.2" x2="209.65" y2="1303.88" stroke="#7f7f7f" stroke-width="2.3" />
<line x1="388.21" y1="1376.2" x2="388.21" y2="1306.63" stroke="#7f7f7f" stroke-width="2.3" />
<text x="212.05" y="1280.81" font-size="11.8" text-anchor="start" fill="#3a9ad9" >b2+</text>
<text x="254.34" y="1289.51" font-size="11.8" text-anchor="start" fill="#c8102e" >y2+</text>
<text x="319.09" y="1330.82" font-size="11.8" text-anchor="start" fill="#c8102e" >y3+</text>
<text x="390.61" y="1251.5" font-size="11.8" text-anchor="start" fill="#8dc63f" >p++</text>
<text x="440.21" y="1267.99" font-size="11.8" text-anchor="start" fill="#c8102e" >y5+</text>
<text x="497.09" y="1043.1" font-size="11.8" text-anchor="start" fill="#c8102e" >y6+</text>
<text x="569.22" y="1229.51" font-size="11.8" text-anchor="start" fill="#c8102e" >y7+</text>
<line x1="124.56" y1="1373.7" x2="124.56" y2="1379.2" stroke="#222" stroke-width="1.2" />
<line x1="124.56" y1="1009.8" x2="124.56" y2="1012.8" stroke="#222" stroke-width="1.2" />
<line x1="135.82" y1="1373.7" x2="135.82" y2="1379.2" stroke="#222" stroke-width="1.2" />
<line x1="135.82" y1="1009.8" x2="135.82" y2="1012.8" stroke="#222" stroke-width="1.2" />
<line x1="147.09" y1="1373.7" x2="147.09" y2="1379.2" stroke="#222" stroke-width="1.2" />
<line x1="147.09" y1="1009.8" x2="147.09" y2="1012.8" stroke="#222" stroke-width="1.2" />
<line x1="158.35" y1="1373.7" x2="158.35" y2="1379.2" stroke="#222" stroke-width="1.2" />
<line x1="158.35" y1="1009.8" x2="158.35" y2="1012.8" stroke="#222" stroke-width="1.2" />
<line x1="180.87" y1="1373.7" x2="180.87" y2="1379.2" stroke="#222" stroke-width="1.2" />
<line x1="180.87" y1="1009.8" x2="180.87" y2="1012.8" stroke="#222" stroke-width="1.2" />
<line x1="192.13" y1="1373.7" x2="192.13" y2="1379.2" stroke="#222" stroke-width="1.2" />
<line x1="192.13" y1="1009.8" x2="192.13" y2="1012.8" stroke="#222" stroke-width="1.2" />
<line x1="203.4" y1="1373.7" x2="203.4" y2="1379.2" stroke="#222" stroke-width="1.2" />
<line x1="203.4" y1="1009.8" x2="203.4" y2="1012.8" stroke="#222" stroke-width="1.2" />
<line x1="214.66" y1="1373.7" x2="214.66" y2="1379.2" stroke="#222" stroke-width="1.2" />
<line x1="214.66" y1="1009.8" x2="214.66" y2="1012.8" stroke="#222" stroke-width="1.2" />
<line x1="237.18" y1="1373.7" x2="237.18" y2="1379.2" stroke="#222" stroke-width="1.2" />
<line x1="237.18" y1="1009.8" x2="237.18" y2="1012.8" stroke="#222" stroke-width="1.2" />
<line x1="248.44" y1="1373.7" x2="248.44" y2="1379.2" stroke="#222" stroke-width="1.2" />
<line x1="248.44" y1="1009.8" x2="248.44" y2="1012.8" stroke="#222" stroke-width="1.2" />
<line x1="259.71" y1="1373.7" x2="259.71" y2="1379.2" stroke="#222" stroke-width="1.2" />
<line x1="259.71" y1="1009.8" x2="259.71" y2="1012.8" stroke="#222" stroke-width="1.2" />
<line x1="270.97" y1="1373.7" x2="270.97" y2="1379.2" stroke="#222" stroke-width="1.2" />
<line x1="270.97" y1="1009.8" x2="270.97" y2="1012.8" stroke="#222" stroke-width="1.2" />
<line x1="293.49" y1="1373.7" x2="293.49" y2="1379.2" stroke="#222" stroke-width="1.2" />
<line x1="293.49" y1="1009.8" x2="293.49" y2="1012.8" stroke="#222" stroke-width="1.2" />
<line x1="304.75" y1="1373.7" x2="304.75" y2="1379.2" stroke="#222" stroke-width="1.2" />
<line x1="304.75" y1="1009.8" x2="304.75" y2="1012.8" stroke="#222" stroke-width="1.2" />
<line x1="316.02" y1="1373.7" x2="316.02" y2="1379.2" stroke="#222" stroke-width="1.2" />
<line x1="316.02" y1="1009.8" x2="316.02" y2="1012.8" stroke="#222" stroke-width="1.2" />
<line x1="327.28" y1="1373.7" x2="327.28" y2="1379.2" stroke="#222" stroke-width="1.2" />
<line x1="327.28" y1="1009.8" x2="327.28" y2="1012.8" stroke="#222" stroke-width="1.2" />
<line x1="349.8" y1="1373.7" x2="349.8" y2="1379.2" stroke="#222" stroke-width="1.2" />
<line x1="349.8" y1="1009.8" x2="349.8" y2="1012.8" stroke="#222" stroke-width="1.2" />
<line x1="361.06" y1="1373.7" x2="361.06" y2="1379.2" stroke="#222" stroke-width="1.2" />
<line x1="361.06" y1="1009.8" x2="361.06" y2="1012.8" stroke="#222" stroke-width="1.2" />
<line x1="372.33" y1="1373.7" x2="372.33" y2="1379.2" stroke="#222" stroke-width="1.2" />
<line x1="372.33" y1="1009.8" x2="372.33" y2="1012.8" stroke="#222" stroke-width="1.2" />
<line x1="383.59" y1="1373.7" x2="383.59" y2="1379.2" stroke="#222" stroke-width="1.2" />
<line x1="383.59" y1="1009.8" x2="383.59" y2="1012.8" stroke="#222" stroke-width="1.2" />
<line x1="406.11" y1="1373.7" x2="406.11" y2="1379.2" stroke="#222" stroke-width="1.2" />
<line x1="406.11" y1="1009.8" x2="406.11" y2="1012.8" stroke="#222" stroke-width="1.2" />
<line x1="417.37" y1="1373.7" x2="417.37" y2="1379.2" stroke="#222" stroke-width="1.2" />
<line x1="417.37" y1="1009.8" x2="417.37" y2="1012.8" stroke="#222" stroke-width="1.2" />
<line x1="428.64" y1="1373.7" x2="428.64" y2="1379.2" stroke="#222" stroke-width="1.2" />
<line x1="428.64" y1="1009.8" x2="428.64" y2="1012.8" stroke="#222" stroke-width="1.2" />
<line x1="439.9" y1="1373.7" x2="439.9" y2="1379.2" stroke="#222" stroke-width="1.2" />
<line x1="439.9" y1="1009.8" x2="439.9" y2="1012.8" stroke="#222" stroke-width="1.2" />
<line x1="462.42" y1="1373.7" x2="462.42" y2="1379.2" stroke="#222" stroke-width="1.2" />
<line x1="462.42" y1="1009.8" x2="462.42" y2="1012.8" stroke="#222" stroke-width="1.2" />
<line x1="473.68" y1="1373.7" x2="473.68" y2="1379.2" stroke="#222" stroke-width="1.2" />
<line x1="473.68" y1="1009.8" x2="473.68" y2="1012.8" stroke="#222" stroke-width="1.2" />
<line x1="484.95" y1="1373.7" x2="484.95" y2="1379.2" stroke="#222" stroke-width="1.2" />
<line x1="484.95" y1="1009.8" x2="484.95" y2="1012.8" stroke="#222" stroke-width="1.2" />
<line x1="496.21" y1="1373.7" x2="496.21" y2="1379.2" stroke="#222" stroke-width="1.2" />
<line x1="496.21" y1="1009.8" x2="496.21" y2="1012.8" stroke="#222" stroke-width="1.2" />
<line x1="518.73" y1="1373.7" x2="518.73" y2="1379.2" stroke="#222" stroke-width="1.2" />
<line x1="518.73" y1="1009.8" x2="518.73" y2="1012.8" stroke="#222" stroke-width="1.2" />
<line x1="529.99" y1="1373.7" x2="529.99" y2="1379.2" stroke="#222" stroke-width="1.2" />
<line x1="529.99" y1="1009.8" x2="529.99" y2="1012.8" stroke="#222" stroke-width="1.2" />
<line x1="541.26" y1="1373.7" x2="541.26" y2="1379.2" stroke="#222" stroke-width="1.2" />
<line x1="541.26" y1="1009.8" x2="541.26" y2="1012.8" stroke="#222" stroke-width="1.2" />
<line x1="552.52" y1="1373.7" x2="552.52" y2="1379.2" stroke="#222" stroke-width="1.2" />
<line x1="552.52" y1="1009.8" x2="552.52" y2="1012.8" stroke="#222" stroke-width="1.2" />
<line x1="575.04" y1="1373.7" x2="575.04" y2="1379.2" stroke="#222" stroke-width="1.2" />
<line x1="575.04" y1="1009.8" x2="575.04" y2="1012.8" stroke="#222" stroke-width="1.2" />
<line x1="586.3" y1="1373.7" x2="586.3" y2="1379.2" stroke="#222" stroke-width="1.2" />
<line x1="586.3" y1="1009.8" x2="586.3" y2="1012.8" stroke="#222" stroke-width="1.2" />
<line x1="597.57" y1="1373.7" x2="597.57" y2="1379.2" stroke="#222" stroke-width="1.2" />
<line x1="597.57" y1="1009.8" x2="597.57" y2="1012.8" stroke="#222" stroke-width="1.2" />
<line x1="608.83" y1="1373.7" x2="608.83" y2="1379.2" stroke="#222" stroke-width="1.2" />
<line x1="608.83" y1="1009.8" x2="608.83" y2="1012.8" stroke="#222" stroke-width="1.2" />
<line x1="113.3" y1="1371.2" x2="113.3" y2="1381.2" stroke="#222" stroke-width="1.32" />
<line x1="113.3" y1="1009.8" x2="113.3" y2="1014.8" stroke="#222" stroke-width="1.32" />
<line x1="169.61" y1="1371.2" x2="169.61" y2="1381.2" stroke="#222" stroke-width="1.32" />
<line x1="169.61" y1="1009.8" x2="169.61" y2="1014.8" stroke="#222" stroke-width="1.32" />
<line x1="225.92" y1="1371.2" x2="225.92" y2="1381.2" stroke="#222" stroke-width="1.32" />
<line x1="225.92" y1="1009.8" x2="225.92" y2="1014.8" stroke="#222" stroke-width="1.32" />
<line x1="282.23" y1="1371.2" x2="282.23" y2="1381.2" stroke="#222" stroke-width="1.32" />
<line x1="282.23" y1="1009.8" x2="282.23" y2="1014.8" stroke="#222" stroke-width="1.32" />
<line x1="338.54" y1="1371.2" x2="338.54" y2="1381.2" stroke="#222" stroke-width="1.32" />
<line x1="338.54" y1="1009.8" x2="338.54" y2="1014.8" stroke="#222" stroke-width="1.32" />
<line x1="394.85" y1="1371.2" x2="394.85" y2="1381.2" stroke="#222" stroke-width="1.32" />
<line x1="394.85" y1="1009.8" x2="394.85" y2="1014.8" stroke="#222" stroke-width="1.32" />
<line x1="451.16" y1="1371.2" x2="451.16" y2="1381.2" stroke="#222" stroke-width="1.32" />
<line x1="451.16" y1="1009.8" x2="451.16" y2="1014.8" stroke="#222" stroke-width="1.32" />
<line x1="507.47" y1="1371.2" x2="507.47" y2="1381.2" stroke="#222" stroke-width="1.32" />
<line x1="507.47" y1="1009.8" x2="507.47" y2="1014.8" stroke="#222" stroke-width="1.32" />
<line x1="563.78" y1="1371.2" x2="563.78" y2="1381.2" stroke="#222" stroke-width="1.32" />
<line x1="563.78" y1="1009.8" x2="563.78" y2="1014.8" stroke="#222" stroke-width="1.32" />
<line x1="620.09" y1="1371.2" x2="620.09" y2="1381.2" stroke="#222" stroke-width="1.32" />
<line x1="620.09" y1="1009.8" x2="620.09" y2="1014.8" stroke="#222" stroke-width="1.32" />
<line x1="110.3" y1="1367.04" x2="115.8" y2="1367.04" stroke="#222" stroke-width="1.2" />
<line x1="617.1" y1="1367.04" x2="620.1" y2="1367.04" stroke="#222" stroke-width="1.2" />
<line x1="110.3" y1="1357.88" x2="115.8" y2="1357.88" stroke="#222" stroke-width="1.2" />
<line x1="617.1" y1="1357.88" x2="620.1" y2="1357.88" stroke="#222" stroke-width="1.2" />
<line x1="110.3" y1="1348.72" x2="115.8" y2="1348.72" stroke="#222" stroke-width="1.2" />
<line x1="617.1" y1="1348.72" x2="620.1" y2="1348.72" stroke="#222" stroke-width="1.2" />
<line x1="110.3" y1="1339.56" x2="115.8" y2="1339.56" stroke="#222" stroke-width="1.2" />
<line x1="617.1" y1="1339.56" x2="620.1" y2="1339.56" stroke="#222" stroke-width="1.2" />
<line x1="110.3" y1="1321.24" x2="115.8" y2="1321.24" stroke="#222" stroke-width="1.2" />
<line x1="617.1" y1="1321.24" x2="620.1" y2="1321.24" stroke="#222" stroke-width="1.2" />
<line x1="110.3" y1="1312.08" x2="115.8" y2="1312.08" stroke="#222" stroke-width="1.2" />
<line x1="617.1" y1="1312.08" x2="620.1" y2="1312.08" stroke="#222" stroke-width="1.2" />
<line x1="110.3" y1="1302.92" x2="115.8" y2="1302.92" stroke="#222" stroke-width="1.2" />
<line x1="617.1" y1="1302.92" x2="620.1" y2="1302.92" stroke="#222" stroke-width="1.2" />
<line x1="110.3" y1="1293.76" x2="115.8" y2="1293.76" stroke="#222" stroke-width="1.2" />
<line x1="617.1" y1="1293.76" x2="620.1" y2="1293.76" stroke="#222" stroke-width="1.2" />
<line x1="110.3" y1="1275.44" x2="115.8" y2="1275.44" stroke="#222" stroke-width="1.2" />
<line x1="617.1" y1="1275.44" x2="620.1" y2="1275.44" stroke="#222" stroke-width="1.2" />
<line x1="110.3" y1="1266.28" x2="115.8" y2="1266.28" stroke="#222" stroke-width="1.2" />
<line x1="617.1" y1="1266.28" x2="620.1" y2="1266.28" stroke="#222" stroke-width="1.2" />
<line x1="110.3" y1="1257.12" x2="115.8" y2="1257.12" stroke="#222" stroke-width="1.2" />
<line x1="617.1" y1="1257.12" x2="620.1" y2="1257.12" stroke="#222" stroke-width="1.2" />
<line x1="110.3" y1="1247.96" x2="115.8" y2="1247.96" stroke="#222" stroke-width="1.2" />
<line x1="617.1" y1="1247.96" x2="620.1" y2="1247.96" stroke="#222" stroke-width="1.2" />
<line x1="110.3" y1="1229.64" x2="115.8" y2="1229.64" stroke="#222" stroke-width="1.2" />
<line x1="617.1" y1="1229.64" x2="620.1" y2="1229.64" stroke="#222" stroke-width="1.2" />
<line x1="110.3" y1="1220.48" x2="115.8" y2="1220.48" stroke="#222" stroke-width="1.2" />
<line x1="617.1" y1="1220.48" x2="620.1" y2="1220.48" stroke="#222" stroke-width="1.2" />
<line x1="110.3" y1="1211.32" x2="115.8" y2="1211.32" stroke="#222" stroke-width="1.2" />
<line x1="617.1" y1="1211.32" x2="620.1" y2="1211.32" stroke="#222" stroke-width="1.2" />
<line x1="110.3" y1="1202.16" x2="115.8" y2="1202.16" stroke="#222" stroke-width="1.2" />
<line x1="617.1" y1="1202.16" x2="620.1" y2="1202.16" stroke="#222" stroke-width="1.2" />
<line x1="110.3" y1="1183.84" x2="115.8" y2="1183.84" stroke="#222" stroke-width="1.2" />
<line x1="617.1" y1="1183.84" x2="620.1" y2="1183.84" stroke="#222" stroke-width="1.2" />
<line x1="110.3" y1="1174.68" x2="115.8" y2="1174.68" stroke="#222" stroke-width="1.2" />
<line x1="617.1" y1="1174.68" x2="620.1" y2="1174.68" stroke="#222" stroke-width="1.2" />
<line x1="110.3" y1="1165.52" x2="115.8" y2="1165.52" stroke="#222" stroke-width="1.2" />
<line x1="617.1" y1="1165.52" x2="620.1" y2="1165.52" stroke="#222" stroke-width="1.2" />
<line x1="110.3" y1="1156.36" x2="115.8" y2="1156.36" stroke="#222" stroke-width="1.2" />
<line x1="617.1" y1="1156.36" x2="620.1" y2="1156.36" stroke="#222" stroke-width="1.2" />
<line x1="110.3" y1="1138.04" x2="115.8" y2="1138.04" stroke="#222" stroke-width="1.2" />
<line x1="617.1" y1="1138.04" x2="620.1" y2="1138.04" stroke="#222" stroke-width="1.2" />
<line x1="110.3" y1="1128.88" x2="115.8" y2="1128.88" stroke="#222" stroke-width="1.2" />
<line x1="617.1" y1="1128.88" x2="620.1" y2="1128.88" stroke="#222" stroke-width="1.2" />
<line x1="110.3" y1="1119.72" x2="115.8" y2="1119.72" stroke="#222" stroke-width="1.2" />
<line x1="617.1" y1="1119.72" x2="620.1" y2="1119.72" stroke="#222" stroke-width="1.2" />
<line x1="110.3" y1="1110.56" x2="115.8" y2="1110.56" stroke="#222" stroke-width="1.2" />
<line x1="617.1" y1="1110.56" x2="620.1" y2="1110.56" stroke="#222" stroke-width="1.2" />
<line x1="110.3" y1="1092.24" x2="115.8" y2="1092.24" stroke="#222" stroke-width="1.2" />
<line x1="617.1" y1="1092.24" x2="620.1" y2="1092.24" stroke="#222" stroke-width="1.2" />
<line x1="110.3" y1="1083.08" x2="115.8" y2="1083.08" stroke="#222" stroke-width="1.2" />
<line x1="617.1" y1="1083.08" x2="620.1" y2="1083.08" stroke="#222" stroke-width="1.2" />
<line x1="110.3" y1="1073.92" x2="115.8" y2="1073.92" stroke="#222" stroke-width="1.2" />
<line x1="617.1" y1="1073.92" x2="620.1" y2="1073.92" stroke="#222" stroke-width="1.2" />
<line x1="110.3" y1="1064.76" x2="115.8" y2="1064.76" stroke="#222" stroke-width="1.2" />
<line x1="617.1" y1="1064.76" x2="620.1" y2="1064.76" stroke="#222" stroke-width="1.2" />
<line x1="110.3" y1="1046.44" x2="115.8" y2="1046.44" stroke="#222" stroke-width="1.2" />
<line x1="617.1" y1="1046.44" x2="620.1" y2="1046.44" stroke="#222" stroke-width="1.2" />
<line x1="110.3" y1="1037.28" x2="115.8" y2="1037.28" stroke="#222" stroke-width="1.2" />
<line x1="617.1" y1="1037.28" x2="620.1" y2="1037.28" stroke="#222" stroke-width="1.2" />
<line x1="110.3" y1="1028.12" x2="115.8" y2="1028.12" stroke="#222" stroke-width="1.2" />
<line x1="617.1" y1="1028.12" x2="620.1" y2="1028.12" stroke="#222" stroke-width="1.2" />
<line x1="110.3" y1="1018.96" x2="115.8" y2="1018.96" stroke="#222" stroke-width="1.2" />
<line x1="617.1" y1="1018.96" x2="620.1" y2="1018.96" stroke="#222" stroke-width="1.2" />
<line x1="108.3" y1="1376.2" x2="118.3" y2="1376.2" stroke="#222" stroke-width="1.32" />
<line x1="615.1" y1="1376.2" x2="620.1" y2="1376.2" stroke="#222" stroke-width="1.32" />
<line x1="108.3" y1="1330.4" x2="118.3" y2="1330.4" stroke="#222" stroke-width="1.32" />
<line x1="615.1" y1="1330.4" x2="620.1" y2="1330.4" stroke="#222" stroke-width="1.32" />
<line x1="108.3" y1="1284.6" x2="118.3" y2="1284.6" stroke="#222" stroke-width="1.32" />
<line x1="615.1" y1="1284.6" x2="620.1" y2="1284.6" stroke="#222" stroke-width="1.32" />
<line x1="108.3" y1="1238.8" x2="118.3" y2="1238.8" stroke="#222" stroke-width="1.32" />
<line x1="615.1" y1="1238.8" x2="620.1" y2="1238.8" stroke="#222" stroke-width="1.32" />
<line x1="108.3" y1="1193" x2="118.3" y2="1193" stroke="#222" stroke-width="1.32" />
<line x1="615.1" y1="1193" x2="620.1" y2="1193" stroke="#222" stroke-width="1.32" />
<line x1="108.3" y1="1147.2" x2="118.3" y2="1147.2" stroke="#222" stroke-width="1.32" />
<line x1="615.1" y1="1147.2" x2="620.1" y2="1147.2" stroke="#222" stroke-width="1.32" />
<line x1="108.3" y1="1101.4" x2="118.3" y2="1101.4" stroke="#222" stroke-width="1.32" />
<line x1="615.1" y1="1101.4" x2="620.1" y2="1101.4" stroke="#222" stroke-width="1.32" />
<line x1="108.3" y1="1055.6" x2="118.3" y2="1055.6" stroke="#222" stroke-width="1.32" />
<line x1="615.1" y1="1055.6" x2="620.1" y2="1055.6" stroke="#222" stroke-width="1.32" />
<line x1="108.3" y1="1009.8" x2="118.3" y2="1009.8" stroke="#222" stroke-width="1.32" />
<line x1="615.1" y1="1009.8" x2="620.1" y2="1009.8" stroke="#222" stroke-width="1.32" />
<rect x="113.3" y="1009.8" width="506.8" height="366.4" fill="none" stroke="#333" stroke-width="1.6" />
<text x="113.3" y="1409.2" font-size="23.6" text-anchor="middle" fill="#000" >0</text>
<text x="169.61" y="1409.2" font-size="23.6" text-anchor="middle" fill="#000" >100</text>
<text x="225.92" y="1409.2" font-size="23.6" text-anchor="middle" fill="#000" >200</text>
<text x="282.23" y="1409.2" font-size="23.6" text-anchor="middle" fill="#000" >300</text>
<text x="338.54" y="1409.2" font-size="23.6" text-anchor="middle" fill="#000" >400</text>
<text x="394.85" y="1409.2" font-size="23.6" text-anchor="middle" fill="#000" >500</text>
<text x="451.16" y="1409.2" font-size="23.6" text-anchor="middle" fill="#000" >600</text>
<text x="507.47" y="1409.2" font-size="23.6" text-anchor="middle" fill="#000" >700</text>
<text x="563.78" y="1409.2" font-size="23.6" text-anchor="middle" fill="#000" >800</text>
<text x="620.09" y="1409.2" font-size="23.6" text-anchor="middle" fill="#000" >900</text>
<text x="97.5" y="1384.3" font-size="24" text-anchor="end" fill="#000" >0</text>
<text x="97.5" y="1292.7" font-size="24" text-anchor="end" fill="#000" >2,000</text>
<text x="97.5" y="1201.1" font-size="24" text-anchor="end" fill="#000" >4,000</text>
<text x="97.5" y="1109.5" font-size="24" text-anchor="end" fill="#000" >6,000</text>
<text x="97.5" y="1017.9" font-size="24" text-anchor="end" fill="#000" >8,000</text>
<text x="372.1" y="1442" font-size="23.6" text-anchor="middle" fill="#000" >m/z</text>
<text x="17.5" y="1192.7" font-size="23.4" text-anchor="middle" fill="#000" transform="rotate(-90 17.5 1192.7)">Intensity</text>
<rect x="128" y="1028.1" width="104.5" height="32.4" fill="#fff" stroke="#8a8a8a" stroke-width="1.2" />
<line x1="130.2" y1="1043.1" x2="147.2" y2="1043.1" stroke="#b0b0b0" stroke-width="1.2" />
<text x="155.1" y="1050.2" font-size="21.4" text-anchor="start" fill="#000" >Spectra</text>
<text x="262" y="1051.7" font-size="23.85" text-anchor="start" fill="#000" >Retention Time 13.73</text>
<text x="33.2" y="986.6" font-size="42" text-anchor="start" fill="#000" font-weight="bold" >e</text>
<line x1="836.86" y1="1376.5" x2="836.86" y2="1372.82" stroke="#7f7f7f" stroke-width="1.6" />
<line x1="838.55" y1="1376.5" x2="838.55" y2="1374.13" stroke="#7f7f7f" stroke-width="1.6" />
<line x1="840.2" y1="1376.5" x2="840.2" y2="1375.64" stroke="#7f7f7f" stroke-width="1.6" />
<line x1="843.23" y1="1376.5" x2="843.23" y2="1375.39" stroke="#7f7f7f" stroke-width="1.6" />
<line x1="846.23" y1="1376.5" x2="846.23" y2="1371.16" stroke="#7f7f7f" stroke-width="1.6" />
<line x1="848.48" y1="1376.5" x2="848.48" y2="1371.45" stroke="#7f7f7f" stroke-width="1.6" />
<line x1="852.05" y1="1376.5" x2="852.05" y2="1371.32" stroke="#7f7f7f" stroke-width="1.6" />
<line x1="853.65" y1="1376.5" x2="853.65" y2="1370.17" stroke="#7f7f7f" stroke-width="1.6" />
<line x1="855.61" y1="1376.5" x2="855.61" y2="1374.39" stroke="#7f7f7f" stroke-width="1.6" />
<line x1="860.06" y1="1376.5" x2="860.06" y2="1373.14" stroke="#7f7f7f" stroke-width="1.6" />
<line x1="863.86" y1="1376.5" x2="863.86" y2="1373.29" stroke="#7f7f7f" stroke-width="1.6" />
<line x1="865.52" y1="1376.5" x2="865.52" y2="1374.86" stroke="#7f7f7f" stroke-width="1.6" />
<line x1="869.47" y1="1376.5" x2="869.47" y2="1374.37" stroke="#7f7f7f" stroke-width="1.6" />
<line x1="873.06" y1="1376.5" x2="873.06" y2="1374.43" stroke="#7f7f7f" stroke-width="1.6" />
<line x1="877.44" y1="1376.5" x2="877.44" y2="1374.69" stroke="#7f7f7f" stroke-width="1.6" />
<line x1="880.99" y1="1376.5" x2="880.99" y2="1371.79" stroke="#7f7f7f" stroke-width="1.6" />
<line x1="885.12" y1="1376.5" x2="885.12" y2="1371.3" stroke="#7f7f7f" stroke-width="1.6" />
<line x1="886.99" y1="1376.5" x2="886.99" y2="1372.33" stroke="#7f7f7f" stroke-width="1.6" />
<line x1="888.98" y1="1376.5" x2="888.98" y2="1375.63" stroke="#7f7f7f" stroke-width="1.6" />
<line x1="892.88" y1="1376.5" x2="892.88" y2="1373.17" stroke="#7f7f7f" stroke-width="1.6" />
<line x1="897.56" y1="1376.5" x2="897.56" y2="1372.61" stroke="#7f7f7f" stroke-width="1.6" />
<line x1="901.19" y1="1376.5" x2="901.19" y2="1373.71" stroke="#7f7f7f" stroke-width="1.6" />
<line x1="905.73" y1="1376.5" x2="905.73" y2="1369.07" stroke="#7f7f7f" stroke-width="1.6" />
<line x1="909.62" y1="1376.5" x2="909.62" y2="1372.58" stroke="#7f7f7f" stroke-width="1.6" />
<line x1="913.44" y1="1376.5" x2="913.44" y2="1366.99" stroke="#7f7f7f" stroke-width="1.6" />
<line x1="915.92" y1="1376.5" x2="915.92" y2="1372.74" stroke="#7f7f7f" stroke-width="1.6" />
<line x1="917.43" y1="1376.5" x2="917.43" y2="1375.04" stroke="#7f7f7f" stroke-width="1.6" />
<line x1="919.29" y1="1376.5" x2="919.29" y2="1372.28" stroke="#7f7f7f" stroke-width="1.6" />
<line x1="921.2" y1="1376.5" x2="921.2" y2="1374.01" stroke="#7f7f7f" stroke-width="1.6" />
<line x1="925.86" y1="1376.5" x2="925.86" y2="1373.74" stroke="#7f7f7f" stroke-width="1.6" />
<line x1="929.32" y1="1376.5" x2="929.32" y2="1367" stroke="#7f7f7f" stroke-width="1.6" />
<line x1="933.95" y1="1376.5" x2="933.95" y2="1373.9" stroke="#7f7f7f" stroke-width="1.6" />
<line x1="936.71" y1="1376.5" x2="936.71" y2="1366.18" stroke="#7f7f7f" stroke-width="1.6" />
<line x1="938.69" y1="1376.5" x2="938.69" y2="1374.74" stroke="#7f7f7f" stroke-width="1.6" />
<line x1="940.99" y1="1376.5" x2="940.99" y2="1373.1" stroke="#7f7f7f" stroke-width="1.6" />
<line x1="943.39" y1="1376.5" x2="943.39" y2="1373.88" stroke="#7f7f7f" stroke-width="1.6" />
<line x1="946.18" y1="1376.5" x2="946.18" y2="1371.43" stroke="#7f7f7f" stroke-width="1.6" />
<line x1="950.17" y1="1376.5" x2="950.17" y2="1372.97" stroke="#7f7f7f" stroke-width="1.6" />
<line x1="954.1" y1="1376.5" x2="954.1" y2="1371.67" stroke="#7f7f7f" stroke-width="1.6" />
<line x1="958.42" y1="1376.5" x2="958.42" y2="1367.13" stroke="#7f7f7f" stroke-width="1.6" />
<line x1="961.3" y1="1376.5" x2="961.3" y2="1375.33" stroke="#7f7f7f" stroke-width="1.6" />
<line x1="965.08" y1="1376.5" x2="965.08" y2="1375.5" stroke="#7f7f7f" stroke-width="1.6" />
<line x1="967.28" y1="1376.5" x2="967.28" y2="1374.25" stroke="#7f7f7f" stroke-width="1.6" />
<line x1="968.9" y1="1376.5" x2="968.9" y2="1375.11" stroke="#7f7f7f" stroke-width="1.6" />
<line x1="970.7" y1="1376.5" x2="970.7" y2="1375.69" stroke="#7f7f7f" stroke-width="1.6" />
<line x1="975.37" y1="1376.5" x2="975.37" y2="1375.13" stroke="#7f7f7f" stroke-width="1.6" />
<line x1="977.73" y1="1376.5" x2="977.73" y2="1374.14" stroke="#7f7f7f" stroke-width="1.6" />
<line x1="979.62" y1="1376.5" x2="979.62" y2="1365.96" stroke="#7f7f7f" stroke-width="1.6" />
<line x1="982.77" y1="1376.5" x2="982.77" y2="1375.42" stroke="#7f7f7f" stroke-width="1.6" />
<line x1="984.58" y1="1376.5" x2="984.58" y2="1374.59" stroke="#7f7f7f" stroke-width="1.6" />
<line x1="989.08" y1="1376.5" x2="989.08" y2="1375.7" stroke="#7f7f7f" stroke-width="1.6" />
<line x1="994.03" y1="1376.5" x2="994.03" y2="1375.14" stroke="#7f7f7f" stroke-width="1.6" />
<line x1="997.47" y1="1376.5" x2="997.47" y2="1373.38" stroke="#7f7f7f" stroke-width="1.6" />
<line x1="1002.52" y1="1376.5" x2="1002.52" y2="1367.74" stroke="#7f7f7f" stroke-width="1.6" />
<line x1="1004.92" y1="1376.5" x2="1004.92" y2="1375.04" stroke="#7f7f7f" stroke-width="1.6" />
<line x1="1009.21" y1="1376.5" x2="1009.21" y2="1372.23" stroke="#7f7f7f" stroke-width="1.6" />
<line x1="1011.86" y1="1376.5" x2="1011.86" y2="1372.08" stroke="#7f7f7f" stroke-width="1.6" />
<line x1="1016.93" y1="1376.5" x2="1016.93" y2="1367.08" stroke="#7f7f7f" stroke-width="1.6" />
<line x1="1021.39" y1="1376.5" x2="1021.39" y2="1374.77" stroke="#7f7f7f" stroke-width="1.6" />
<line x1="1024.74" y1="1376.5" x2="1024.74" y2="1375.68" stroke="#7f7f7f" stroke-width="1.6" />
<line x1="1026.27" y1="1376.5" x2="1026.27" y2="1374.62" stroke="#7f7f7f" stroke-width="1.6" />
<line x1="1030.26" y1="1376.5" x2="1030.26" y2="1369.23" stroke="#7f7f7f" stroke-width="1.6" />
<line x1="1035.17" y1="1376.5" x2="1035.17" y2="1366.19" stroke="#7f7f7f" stroke-width="1.6" />
<line x1="1037.94" y1="1376.5" x2="1037.94" y2="1374.77" stroke="#7f7f7f" stroke-width="1.6" />
<line x1="1040.1" y1="1376.5" x2="1040.1" y2="1372.94" stroke="#7f7f7f" stroke-width="1.6" />
<line x1="1044.86" y1="1376.5" x2="1044.86" y2="1369.03" stroke="#7f7f7f" stroke-width="1.6" />
<line x1="1048.71" y1="1376.5" x2="1048.71" y2="1375.42" stroke="#7f7f7f" stroke-width="1.6" />
<line x1="1052.59" y1="1376.5" x2="1052.59" y2="1367.22" stroke="#7f7f7f" stroke-width="1.6" />
<line x1="1056.8" y1="1376.5" x2="1056.8" y2="1374.99" stroke="#7f7f7f" stroke-width="1.6" />
<line x1="1061.15" y1="1376.5" x2="1061.15" y2="1372.13" stroke="#7f7f7f" stroke-width="1.6" />
<line x1="1066.18" y1="1376.5" x2="1066.18" y2="1373.96" stroke="#7f7f7f" stroke-width="1.6" />
<line x1="1071.12" y1="1376.5" x2="1071.12" y2="1375.03" stroke="#7f7f7f" stroke-width="1.6" />
<line x1="1073.01" y1="1376.5" x2="1073.01" y2="1371.65" stroke="#7f7f7f" stroke-width="1.6" />
<line x1="1077.43" y1="1376.5" x2="1077.43" y2="1372.01" stroke="#7f7f7f" stroke-width="1.6" />
<line x1="1082.49" y1="1376.5" x2="1082.49" y2="1374.2" stroke="#7f7f7f" stroke-width="1.6" />
<line x1="1085.95" y1="1376.5" x2="1085.95" y2="1375.74" stroke="#7f7f7f" stroke-width="1.6" />
<line x1="1090.98" y1="1376.5" x2="1090.98" y2="1373.39" stroke="#7f7f7f" stroke-width="1.6" />
<line x1="1095.87" y1="1376.5" x2="1095.87" y2="1371.8" stroke="#7f7f7f" stroke-width="1.6" />
<line x1="1100.36" y1="1376.5" x2="1100.36" y2="1374.65" stroke="#7f7f7f" stroke-width="1.6" />
<line x1="1102.87" y1="1376.5" x2="1102.87" y2="1373.11" stroke="#7f7f7f" stroke-width="1.6" />
<line x1="1105.26" y1="1376.5" x2="1105.26" y2="1375.21" stroke="#7f7f7f" stroke-width="1.6" />
<line x1="1110.06" y1="1376.5" x2="1110.06" y2="1373.7" stroke="#7f7f7f" stroke-width="1.6" />
<line x1="1113.65" y1="1376.5" x2="1113.65" y2="1369.39" stroke="#7f7f7f" stroke-width="1.6" />
<line x1="1118.48" y1="1376.5" x2="1118.48" y2="1373.36" stroke="#7f7f7f" stroke-width="1.6" />
<line x1="1121.84" y1="1376.5" x2="1121.84" y2="1373.79" stroke="#7f7f7f" stroke-width="1.6" />
<line x1="1123.95" y1="1376.5" x2="1123.95" y2="1372.14" stroke="#7f7f7f" stroke-width="1.6" />
<line x1="1126.02" y1="1376.5" x2="1126.02" y2="1372.48" stroke="#7f7f7f" stroke-width="1.6" />
<line x1="1129.5" y1="1376.5" x2="1129.5" y2="1373.43" stroke="#7f7f7f" stroke-width="1.6" />
<line x1="1132.99" y1="1376.5" x2="1132.99" y2="1375.32" stroke="#7f7f7f" stroke-width="1.6" />
<line x1="1136.49" y1="1376.5" x2="1136.49" y2="1374.54" stroke="#7f7f7f" stroke-width="1.6" />
<line x1="1140.78" y1="1376.5" x2="1140.78" y2="1373.23" stroke="#7f7f7f" stroke-width="1.6" />
<line x1="1145.03" y1="1376.5" x2="1145.03" y2="1369.25" stroke="#7f7f7f" stroke-width="1.6" />
<line x1="1148.73" y1="1376.5" x2="1148.73" y2="1373.45" stroke="#7f7f7f" stroke-width="1.6" />
<line x1="1152.72" y1="1376.5" x2="1152.72" y2="1373.36" stroke="#7f7f7f" stroke-width="1.6" />
<line x1="1155.92" y1="1376.5" x2="1155.92" y2="1367.72" stroke="#7f7f7f" stroke-width="1.6" />
<line x1="1160.6" y1="1376.5" x2="1160.6" y2="1370.35" stroke="#7f7f7f" stroke-width="1.6" />
<line x1="1164.1" y1="1376.5" x2="1164.1" y2="1366.88" stroke="#7f7f7f" stroke-width="1.6" />
<line x1="1166.03" y1="1376.5" x2="1166.03" y2="1373.78" stroke="#7f7f7f" stroke-width="1.6" />
<line x1="1167.73" y1="1376.5" x2="1167.73" y2="1375.47" stroke="#7f7f7f" stroke-width="1.6" />
<line x1="1171.64" y1="1376.5" x2="1171.64" y2="1371.68" stroke="#7f7f7f" stroke-width="1.6" />
<line x1="1173.64" y1="1376.5" x2="1173.64" y2="1372.77" stroke="#7f7f7f" stroke-width="1.6" />
<line x1="1175.59" y1="1376.5" x2="1175.59" y2="1366.12" stroke="#7f7f7f" stroke-width="1.6" />
<line x1="1177.83" y1="1376.5" x2="1177.83" y2="1369.52" stroke="#7f7f7f" stroke-width="1.6" />
<line x1="1181.07" y1="1376.5" x2="1181.07" y2="1366.92" stroke="#7f7f7f" stroke-width="1.6" />
<line x1="1183.09" y1="1376.5" x2="1183.09" y2="1373.44" stroke="#7f7f7f" stroke-width="1.6" />
<line x1="1185.78" y1="1376.5" x2="1185.78" y2="1374.35" stroke="#7f7f7f" stroke-width="1.6" />
<line x1="1189.88" y1="1376.5" x2="1189.88" y2="1373.26" stroke="#7f7f7f" stroke-width="1.6" />
<line x1="1192.94" y1="1376.5" x2="1192.94" y2="1374.29" stroke="#7f7f7f" stroke-width="1.6" />
<line x1="1196.68" y1="1376.5" x2="1196.68" y2="1375.51" stroke="#7f7f7f" stroke-width="1.6" />
<line x1="1201.76" y1="1376.5" x2="1201.76" y2="1371.34" stroke="#7f7f7f" stroke-width="1.6" />
<line x1="1203.57" y1="1376.5" x2="1203.57" y2="1375.63" stroke="#7f7f7f" stroke-width="1.6" />
<line x1="1207.89" y1="1376.5" x2="1207.89" y2="1375.21" stroke="#7f7f7f" stroke-width="1.6" />
<line x1="1210.88" y1="1376.5" x2="1210.88" y2="1367.01" stroke="#7f7f7f" stroke-width="1.6" />
<line x1="1213.27" y1="1376.5" x2="1213.27" y2="1371.58" stroke="#7f7f7f" stroke-width="1.6" />
<line x1="1216.81" y1="1376.5" x2="1216.81" y2="1375.4" stroke="#7f7f7f" stroke-width="1.6" />
<line x1="1218.45" y1="1376.5" x2="1218.45" y2="1373.85" stroke="#7f7f7f" stroke-width="1.6" />
<line x1="1220.14" y1="1376.5" x2="1220.14" y2="1368.11" stroke="#7f7f7f" stroke-width="1.6" />
<line x1="1224.54" y1="1376.5" x2="1224.54" y2="1371.87" stroke="#7f7f7f" stroke-width="1.6" />
<line x1="1226.21" y1="1376.5" x2="1226.21" y2="1369.19" stroke="#7f7f7f" stroke-width="1.6" />
<line x1="1228.9" y1="1376.5" x2="1228.9" y2="1371.55" stroke="#7f7f7f" stroke-width="1.6" />
<line x1="1231.32" y1="1376.5" x2="1231.32" y2="1373.39" stroke="#7f7f7f" stroke-width="1.6" />
<line x1="1233.63" y1="1376.5" x2="1233.63" y2="1375.07" stroke="#7f7f7f" stroke-width="1.6" />
<line x1="1235.24" y1="1376.5" x2="1235.24" y2="1374.38" stroke="#7f7f7f" stroke-width="1.6" />
<line x1="1237.8" y1="1376.5" x2="1237.8" y2="1374.48" stroke="#7f7f7f" stroke-width="1.6" />
<line x1="1241.08" y1="1376.5" x2="1241.08" y2="1374.21" stroke="#7f7f7f" stroke-width="1.6" />
<line x1="1242.57" y1="1376.5" x2="1242.57" y2="1375.74" stroke="#7f7f7f" stroke-width="1.6" />
<line x1="1246.72" y1="1376.5" x2="1246.72" y2="1374.94" stroke="#7f7f7f" stroke-width="1.6" />
<line x1="831.84" y1="1376.5" x2="831.84" y2="1312.26" stroke="#7f7f7f" stroke-width="1.9" />
<line x1="832.81" y1="1376.5" x2="832.81" y2="1372.82" stroke="#7f7f7f" stroke-width="1.9" />
<line x1="847.75" y1="1376.5" x2="847.75" y2="1368.96" stroke="#7f7f7f" stroke-width="1.9" />
<line x1="849.58" y1="1376.5" x2="849.58" y2="1372.36" stroke="#7f7f7f" stroke-width="1.9" />
<line x1="855.74" y1="1376.5" x2="855.74" y2="1277.76" stroke="#7f7f7f" stroke-width="1.9" />
<line x1="857.68" y1="1376.5" x2="857.68" y2="1364.91" stroke="#7f7f7f" stroke-width="1.9" />
<line x1="872" y1="1376.5" x2="872" y2="1303.89" stroke="#7f7f7f" stroke-width="1.9" />
<line x1="873.37" y1="1376.5" x2="873.37" y2="1343.8" stroke="#7f7f7f" stroke-width="1.9" />
<line x1="879.87" y1="1376.5" x2="879.87" y2="1365.51" stroke="#7f7f7f" stroke-width="1.9" />
<line x1="881.98" y1="1376.5" x2="881.98" y2="1361.97" stroke="#7f7f7f" stroke-width="1.9" />
<line x1="888.43" y1="1376.5" x2="888.43" y2="1372.82" stroke="#7f7f7f" stroke-width="1.9" />
<line x1="895.96" y1="1376.5" x2="895.96" y2="1369.33" stroke="#7f7f7f" stroke-width="1.9" />
<line x1="905.09" y1="1376.5" x2="905.09" y2="1366.43" stroke="#7f7f7f" stroke-width="1.9" />
<line x1="912.11" y1="1376.5" x2="912.11" y2="1368.96" stroke="#7f7f7f" stroke-width="1.9" />
<line x1="915.36" y1="1376.5" x2="915.36" y2="1369.6" stroke="#7f7f7f" stroke-width="1.9" />
<line x1="928.99" y1="1376.5" x2="928.99" y2="1353.32" stroke="#7f7f7f" stroke-width="1.9" />
<line x1="934.64" y1="1376.5" x2="934.64" y2="1373.28" stroke="#7f7f7f" stroke-width="1.9" />
<line x1="945.54" y1="1376.5" x2="945.54" y2="1298.32" stroke="#7f7f7f" stroke-width="1.9" />
<line x1="946.34" y1="1376.5" x2="946.34" y2="1360.04" stroke="#7f7f7f" stroke-width="1.9" />
<line x1="977.31" y1="1376.5" x2="977.31" y2="1367.16" stroke="#7f7f7f" stroke-width="1.9" />
<line x1="980.96" y1="1376.5" x2="980.96" y2="1345.83" stroke="#7f7f7f" stroke-width="1.9" />
<line x1="992.43" y1="1376.5" x2="992.43" y2="1370.06" stroke="#7f7f7f" stroke-width="1.9" />
<line x1="994.43" y1="1376.5" x2="994.43" y2="1355.67" stroke="#7f7f7f" stroke-width="1.9" />
<line x1="999.62" y1="1376.5" x2="999.62" y2="1283.01" stroke="#7f7f7f" stroke-width="1.9" />
<line x1="1000.82" y1="1376.5" x2="1000.82" y2="1348.22" stroke="#7f7f7f" stroke-width="1.9" />
<line x1="1002.47" y1="1376.5" x2="1002.47" y2="1327.11" stroke="#7f7f7f" stroke-width="1.9" />
<line x1="1004.7" y1="1376.5" x2="1004.7" y2="1296.48" stroke="#7f7f7f" stroke-width="1.9" />
<line x1="1005.67" y1="1376.5" x2="1005.67" y2="1344.63" stroke="#7f7f7f" stroke-width="1.9" />
<line x1="1031.91" y1="1376.5" x2="1031.91" y2="1367.3" stroke="#7f7f7f" stroke-width="1.9" />
<line x1="1042.58" y1="1376.5" x2="1042.58" y2="1352.45" stroke="#7f7f7f" stroke-width="1.9" />
<line x1="1044" y1="1376.5" x2="1044" y2="1362.7" stroke="#7f7f7f" stroke-width="1.9" />
<line x1="1047.66" y1="1376.5" x2="1047.66" y2="1269.95" stroke="#7f7f7f" stroke-width="1.9" />
<line x1="1049.14" y1="1376.5" x2="1049.14" y2="1353.97" stroke="#7f7f7f" stroke-width="1.9" />
<line x1="1053.59" y1="1376.5" x2="1053.59" y2="1306.64" stroke="#7f7f7f" stroke-width="1.9" />
<line x1="1104.48" y1="1376.5" x2="1104.48" y2="1343.39" stroke="#7f7f7f" stroke-width="1.9" />
<line x1="1150.06" y1="1376.5" x2="1150.06" y2="1367.03" stroke="#7f7f7f" stroke-width="1.9" />
<line x1="1161.3" y1="1376.5" x2="1161.3" y2="1148.4" stroke="#7f7f7f" stroke-width="1.9" />
<line x1="1162.55" y1="1376.5" x2="1162.55" y2="1349.37" stroke="#7f7f7f" stroke-width="1.9" />
<line x1="1181.38" y1="1376.5" x2="1181.38" y2="1367.03" stroke="#7f7f7f" stroke-width="1.9" />
<line x1="1223.03" y1="1376.5" x2="1223.03" y2="1355.35" stroke="#7f7f7f" stroke-width="1.9" />
<line x1="1224.57" y1="1376.5" x2="1224.57" y2="1345.69" stroke="#7f7f7f" stroke-width="1.9" />
<line x1="1234.89" y1="1376.5" x2="1234.89" y2="1338.47" stroke="#7f7f7f" stroke-width="1.9" />
<line x1="1236.61" y1="1376.5" x2="1236.61" y2="1362.7" stroke="#7f7f7f" stroke-width="1.9" />
<line x1="872.51" y1="1376.5" x2="872.51" y2="1282.23" stroke="#3a9ad9" stroke-width="2.2" />
<line x1="915.36" y1="1376.5" x2="915.36" y2="1290.96" stroke="#c8102e" stroke-width="2.2" />
<line x1="1053.42" y1="1376.5" x2="1053.42" y2="1252.79" stroke="#8dc63f" stroke-width="2.2" />
<line x1="1053.99" y1="1376.5" x2="1053.99" y2="1280.16" stroke="#c8102e" stroke-width="2.2" stroke-dasharray="5,1.5"/>
<line x1="1103.68" y1="1376.5" x2="1103.68" y2="1269.35" stroke="#c8102e" stroke-width="2.2" />
<line x1="1161.3" y1="1376.5" x2="1161.3" y2="1054.59" stroke="#c8102e" stroke-width="2.2" stroke-dasharray="5,1.5"/>
<line x1="1234.38" y1="1376.5" x2="1234.38" y2="1230.72" stroke="#c8102e" stroke-width="2.2" />
<line x1="1053.99" y1="1376.5" x2="1053.99" y2="1280.16" stroke="#c8102e" stroke-width="2.2" stroke-dasharray="5,1.5"/>
<text x="874.91" y="1280.73" font-size="11.8" text-anchor="start" fill="#3a9ad9" >b2+</text>
<text x="917.76" y="1289.46" font-size="11.8" text-anchor="start" fill="#c8102e" >y2+</text>
<text x="1055.82" y="1251.29" font-size="11.8" text-anchor="start" fill="#8dc63f" >p++</text>
<text x="1056.39" y="1278.66" font-size="11.8" text-anchor="start" fill="#c8102e" >y4+</text>
<text x="1106.08" y="1267.85" font-size="11.8" text-anchor="start" fill="#c8102e" >y5+</text>
<text x="1163.7" y="1042.09" font-size="11.8" text-anchor="start" fill="#c8102e" >y6+</text>
<text x="1236.78" y="1229.22" font-size="11.8" text-anchor="start" fill="#c8102e" >y7+</text>
<line x1="786.31" y1="1374" x2="786.31" y2="1379.5" stroke="#222" stroke-width="1.2" />
<line x1="786.31" y1="1008.6" x2="786.31" y2="1011.6" stroke="#222" stroke-width="1.2" />
<line x1="797.72" y1="1374" x2="797.72" y2="1379.5" stroke="#222" stroke-width="1.2" />
<line x1="797.72" y1="1008.6" x2="797.72" y2="1011.6" stroke="#222" stroke-width="1.2" />
<line x1="809.13" y1="1374" x2="809.13" y2="1379.5" stroke="#222" stroke-width="1.2" />
<line x1="809.13" y1="1008.6" x2="809.13" y2="1011.6" stroke="#222" stroke-width="1.2" />
<line x1="820.54" y1="1374" x2="820.54" y2="1379.5" stroke="#222" stroke-width="1.2" />
<line x1="820.54" y1="1008.6" x2="820.54" y2="1011.6" stroke="#222" stroke-width="1.2" />
<line x1="843.36" y1="1374" x2="843.36" y2="1379.5" stroke="#222" stroke-width="1.2" />
<line x1="843.36" y1="1008.6" x2="843.36" y2="1011.6" stroke="#222" stroke-width="1.2" />
<line x1="854.77" y1="1374" x2="854.77" y2="1379.5" stroke="#222" stroke-width="1.2" />
<line x1="854.77" y1="1008.6" x2="854.77" y2="1011.6" stroke="#222" stroke-width="1.2" />
<line x1="866.18" y1="1374" x2="866.18" y2="1379.5" stroke="#222" stroke-width="1.2" />
<line x1="866.18" y1="1008.6" x2="866.18" y2="1011.6" stroke="#222" stroke-width="1.2" />
<line x1="877.59" y1="1374" x2="877.59" y2="1379.5" stroke="#222" stroke-width="1.2" />
<line x1="877.59" y1="1008.6" x2="877.59" y2="1011.6" stroke="#222" stroke-width="1.2" />
<line x1="900.41" y1="1374" x2="900.41" y2="1379.5" stroke="#222" stroke-width="1.2" />
<line x1="900.41" y1="1008.6" x2="900.41" y2="1011.6" stroke="#222" stroke-width="1.2" />
<line x1="911.82" y1="1374" x2="911.82" y2="1379.5" stroke="#222" stroke-width="1.2" />
<line x1="911.82" y1="1008.6" x2="911.82" y2="1011.6" stroke="#222" stroke-width="1.2" />
<line x1="923.23" y1="1374" x2="923.23" y2="1379.5" stroke="#222" stroke-width="1.2" />
<line x1="923.23" y1="1008.6" x2="923.23" y2="1011.6" stroke="#222" stroke-width="1.2" />
<line x1="934.64" y1="1374" x2="934.64" y2="1379.5" stroke="#222" stroke-width="1.2" />
<line x1="934.64" y1="1008.6" x2="934.64" y2="1011.6" stroke="#222" stroke-width="1.2" />
<line x1="957.46" y1="1374" x2="957.46" y2="1379.5" stroke="#222" stroke-width="1.2" />
<line x1="957.46" y1="1008.6" x2="957.46" y2="1011.6" stroke="#222" stroke-width="1.2" />
<line x1="968.87" y1="1374" x2="968.87" y2="1379.5" stroke="#222" stroke-width="1.2" />
<line x1="968.87" y1="1008.6" x2="968.87" y2="1011.6" stroke="#222" stroke-width="1.2" />
<line x1="980.28" y1="1374" x2="980.28" y2="1379.5" stroke="#222" stroke-width="1.2" />
<line x1="980.28" y1="1008.6" x2="980.28" y2="1011.6" stroke="#222" stroke-width="1.2" />
<line x1="991.69" y1="1374" x2="991.69" y2="1379.5" stroke="#222" stroke-width="1.2" />
<line x1="991.69" y1="1008.6" x2="991.69" y2="1011.6" stroke="#222" stroke-width="1.2" />
<line x1="1014.51" y1="1374" x2="1014.51" y2="1379.5" stroke="#222" stroke-width="1.2" />
<line x1="1014.51" y1="1008.6" x2="1014.51" y2="1011.6" stroke="#222" stroke-width="1.2" />
<line x1="1025.92" y1="1374" x2="1025.92" y2="1379.5" stroke="#222" stroke-width="1.2" />
<line x1="1025.92" y1="1008.6" x2="1025.92" y2="1011.6" stroke="#222" stroke-width="1.2" />
<line x1="1037.33" y1="1374" x2="1037.33" y2="1379.5" stroke="#222" stroke-width="1.2" />
<line x1="1037.33" y1="1008.6" x2="1037.33" y2="1011.6" stroke="#222" stroke-width="1.2" />
<line x1="1048.74" y1="1374" x2="1048.74" y2="1379.5" stroke="#222" stroke-width="1.2" />
<line x1="1048.74" y1="1008.6" x2="1048.74" y2="1011.6" stroke="#222" stroke-width="1.2" />
<line x1="1071.56" y1="1374" x2="1071.56" y2="1379.5" stroke="#222" stroke-width="1.2" />
<line x1="1071.56" y1="1008.6" x2="1071.56" y2="1011.6" stroke="#222" stroke-width="1.2" />
<line x1="1082.97" y1="1374" x2="1082.97" y2="1379.5" stroke="#222" stroke-width="1.2" />
<line x1="1082.97" y1="1008.6" x2="1082.97" y2="1011.6" stroke="#222" stroke-width="1.2" />
<line x1="1094.38" y1="1374" x2="1094.38" y2="1379.5" stroke="#222" stroke-width="1.2" />
<line x1="1094.38" y1="1008.6" x2="1094.38" y2="1011.6" stroke="#222" stroke-width="1.2" />
<line x1="1105.79" y1="1374" x2="1105.79" y2="1379.5" stroke="#222" stroke-width="1.2" />
<line x1="1105.79" y1="1008.6" x2="1105.79" y2="1011.6" stroke="#222" stroke-width="1.2" />
<line x1="1128.61" y1="1374" x2="1128.61" y2="1379.5" stroke="#222" stroke-width="1.2" />
<line x1="1128.61" y1="1008.6" x2="1128.61" y2="1011.6" stroke="#222" stroke-width="1.2" />
<line x1="1140.02" y1="1374" x2="1140.02" y2="1379.5" stroke="#222" stroke-width="1.2" />
<line x1="1140.02" y1="1008.6" x2="1140.02" y2="1011.6" stroke="#222" stroke-width="1.2" />
<line x1="1151.43" y1="1374" x2="1151.43" y2="1379.5" stroke="#222" stroke-width="1.2" />
<line x1="1151.43" y1="1008.6" x2="1151.43" y2="1011.6" stroke="#222" stroke-width="1.2" />
<line x1="1162.84" y1="1374" x2="1162.84" y2="1379.5" stroke="#222" stroke-width="1.2" />
<line x1="1162.84" y1="1008.6" x2="1162.84" y2="1011.6" stroke="#222" stroke-width="1.2" />
<line x1="1185.66" y1="1374" x2="1185.66" y2="1379.5" stroke="#222" stroke-width="1.2" />
<line x1="1185.66" y1="1008.6" x2="1185.66" y2="1011.6" stroke="#222" stroke-width="1.2" />
<line x1="1197.07" y1="1374" x2="1197.07" y2="1379.5" stroke="#222" stroke-width="1.2" />
<line x1="1197.07" y1="1008.6" x2="1197.07" y2="1011.6" stroke="#222" stroke-width="1.2" />
<line x1="1208.48" y1="1374" x2="1208.48" y2="1379.5" stroke="#222" stroke-width="1.2" />
<line x1="1208.48" y1="1008.6" x2="1208.48" y2="1011.6" stroke="#222" stroke-width="1.2" />
<line x1="1219.89" y1="1374" x2="1219.89" y2="1379.5" stroke="#222" stroke-width="1.2" />
<line x1="1219.89" y1="1008.6" x2="1219.89" y2="1011.6" stroke="#222" stroke-width="1.2" />
<line x1="1242.71" y1="1374" x2="1242.71" y2="1379.5" stroke="#222" stroke-width="1.2" />
<line x1="1242.71" y1="1008.6" x2="1242.71" y2="1011.6" stroke="#222" stroke-width="1.2" />
<line x1="1254.12" y1="1374" x2="1254.12" y2="1379.5" stroke="#222" stroke-width="1.2" />
<line x1="1254.12" y1="1008.6" x2="1254.12" y2="1011.6" stroke="#222" stroke-width="1.2" />
<line x1="1265.53" y1="1374" x2="1265.53" y2="1379.5" stroke="#222" stroke-width="1.2" />
<line x1="1265.53" y1="1008.6" x2="1265.53" y2="1011.6" stroke="#222" stroke-width="1.2" />
<line x1="1276.94" y1="1374" x2="1276.94" y2="1379.5" stroke="#222" stroke-width="1.2" />
<line x1="1276.94" y1="1008.6" x2="1276.94" y2="1011.6" stroke="#222" stroke-width="1.2" />
<line x1="774.9" y1="1371.5" x2="774.9" y2="1381.5" stroke="#222" stroke-width="1.32" />
<line x1="774.9" y1="1008.6" x2="774.9" y2="1013.6" stroke="#222" stroke-width="1.32" />
<line x1="831.95" y1="1371.5" x2="831.95" y2="1381.5" stroke="#222" stroke-width="1.32" />
<line x1="831.95" y1="1008.6" x2="831.95" y2="1013.6" stroke="#222" stroke-width="1.32" />
<line x1="889" y1="1371.5" x2="889" y2="1381.5" stroke="#222" stroke-width="1.32" />
<line x1="889" y1="1008.6" x2="889" y2="1013.6" stroke="#222" stroke-width="1.32" />
<line x1="946.05" y1="1371.5" x2="946.05" y2="1381.5" stroke="#222" stroke-width="1.32" />
<line x1="946.05" y1="1008.6" x2="946.05" y2="1013.6" stroke="#222" stroke-width="1.32" />
<line x1="1003.1" y1="1371.5" x2="1003.1" y2="1381.5" stroke="#222" stroke-width="1.32" />
<line x1="1003.1" y1="1008.6" x2="1003.1" y2="1013.6" stroke="#222" stroke-width="1.32" />
<line x1="1060.15" y1="1371.5" x2="1060.15" y2="1381.5" stroke="#222" stroke-width="1.32" />
<line x1="1060.15" y1="1008.6" x2="1060.15" y2="1013.6" stroke="#222" stroke-width="1.32" />
<line x1="1117.2" y1="1371.5" x2="1117.2" y2="1381.5" stroke="#222" stroke-width="1.32" />
<line x1="1117.2" y1="1008.6" x2="1117.2" y2="1013.6" stroke="#222" stroke-width="1.32" />
<line x1="1174.25" y1="1371.5" x2="1174.25" y2="1381.5" stroke="#222" stroke-width="1.32" />
<line x1="1174.25" y1="1008.6" x2="1174.25" y2="1013.6" stroke="#222" stroke-width="1.32" />
<line x1="1231.3" y1="1371.5" x2="1231.3" y2="1381.5" stroke="#222" stroke-width="1.32" />
<line x1="1231.3" y1="1008.6" x2="1231.3" y2="1013.6" stroke="#222" stroke-width="1.32" />
<line x1="1288.35" y1="1371.5" x2="1288.35" y2="1381.5" stroke="#222" stroke-width="1.32" />
<line x1="1288.35" y1="1008.6" x2="1288.35" y2="1013.6" stroke="#222" stroke-width="1.32" />
<line x1="771.8" y1="1367.3" x2="777.3" y2="1367.3" stroke="#222" stroke-width="1.2" />
<line x1="1286.6" y1="1367.3" x2="1289.6" y2="1367.3" stroke="#222" stroke-width="1.2" />
<line x1="771.8" y1="1358.11" x2="777.3" y2="1358.11" stroke="#222" stroke-width="1.2" />
<line x1="1286.6" y1="1358.11" x2="1289.6" y2="1358.11" stroke="#222" stroke-width="1.2" />
<line x1="771.8" y1="1348.91" x2="777.3" y2="1348.91" stroke="#222" stroke-width="1.2" />
<line x1="1286.6" y1="1348.91" x2="1289.6" y2="1348.91" stroke="#222" stroke-width="1.2" />
<line x1="771.8" y1="1339.71" x2="777.3" y2="1339.71" stroke="#222" stroke-width="1.2" />
<line x1="1286.6" y1="1339.71" x2="1289.6" y2="1339.71" stroke="#222" stroke-width="1.2" />
<line x1="771.8" y1="1321.32" x2="777.3" y2="1321.32" stroke="#222" stroke-width="1.2" />
<line x1="1286.6" y1="1321.32" x2="1289.6" y2="1321.32" stroke="#222" stroke-width="1.2" />
<line x1="771.8" y1="1312.12" x2="777.3" y2="1312.12" stroke="#222" stroke-width="1.2" />
<line x1="1286.6" y1="1312.12" x2="1289.6" y2="1312.12" stroke="#222" stroke-width="1.2" />
<line x1="771.8" y1="1302.92" x2="777.3" y2="1302.92" stroke="#222" stroke-width="1.2" />
<line x1="1286.6" y1="1302.92" x2="1289.6" y2="1302.92" stroke="#222" stroke-width="1.2" />
<line x1="771.8" y1="1293.72" x2="777.3" y2="1293.72" stroke="#222" stroke-width="1.2" />
<line x1="1286.6" y1="1293.72" x2="1289.6" y2="1293.72" stroke="#222" stroke-width="1.2" />
<line x1="771.8" y1="1275.33" x2="777.3" y2="1275.33" stroke="#222" stroke-width="1.2" />
<line x1="1286.6" y1="1275.33" x2="1289.6" y2="1275.33" stroke="#222" stroke-width="1.2" />
<line x1="771.8" y1="1266.13" x2="777.3" y2="1266.13" stroke="#222" stroke-width="1.2" />
<line x1="1286.6" y1="1266.13" x2="1289.6" y2="1266.13" stroke="#222" stroke-width="1.2" />
<line x1="771.8" y1="1256.93" x2="777.3" y2="1256.93" stroke="#222" stroke-width="1.2" />
<line x1="1286.6" y1="1256.93" x2="1289.6" y2="1256.93" stroke="#222" stroke-width="1.2" />
<line x1="771.8" y1="1247.73" x2="777.3" y2="1247.73" stroke="#222" stroke-width="1.2" />
<line x1="1286.6" y1="1247.73" x2="1289.6" y2="1247.73" stroke="#222" stroke-width="1.2" />
<line x1="771.8" y1="1229.34" x2="777.3" y2="1229.34" stroke="#222" stroke-width="1.2" />
<line x1="1286.6" y1="1229.34" x2="1289.6" y2="1229.34" stroke="#222" stroke-width="1.2" />
<line x1="771.8" y1="1220.14" x2="777.3" y2="1220.14" stroke="#222" stroke-width="1.2" />
<line x1="1286.6" y1="1220.14" x2="1289.6" y2="1220.14" stroke="#222" stroke-width="1.2" />
<line x1="771.8" y1="1210.94" x2="777.3" y2="1210.94" stroke="#222" stroke-width="1.2" />
<line x1="1286.6" y1="1210.94" x2="1289.6" y2="1210.94" stroke="#222" stroke-width="1.2" />
<line x1="771.8" y1="1201.75" x2="777.3" y2="1201.75" stroke="#222" stroke-width="1.2" />
<line x1="1286.6" y1="1201.75" x2="1289.6" y2="1201.75" stroke="#222" stroke-width="1.2" />
<line x1="771.8" y1="1183.35" x2="777.3" y2="1183.35" stroke="#222" stroke-width="1.2" />
<line x1="1286.6" y1="1183.35" x2="1289.6" y2="1183.35" stroke="#222" stroke-width="1.2" />
<line x1="771.8" y1="1174.15" x2="777.3" y2="1174.15" stroke="#222" stroke-width="1.2" />
<line x1="1286.6" y1="1174.15" x2="1289.6" y2="1174.15" stroke="#222" stroke-width="1.2" />
<line x1="771.8" y1="1164.96" x2="777.3" y2="1164.96" stroke="#222" stroke-width="1.2" />
<line x1="1286.6" y1="1164.96" x2="1289.6" y2="1164.96" stroke="#222" stroke-width="1.2" />
<line x1="771.8" y1="1155.76" x2="777.3" y2="1155.76" stroke="#222" stroke-width="1.2" />
<line x1="1286.6" y1="1155.76" x2="1289.6" y2="1155.76" stroke="#222" stroke-width="1.2" />
<line x1="771.8" y1="1137.37" x2="777.3" y2="1137.37" stroke="#222" stroke-width="1.2" />
<line x1="1286.6" y1="1137.37" x2="1289.6" y2="1137.37" stroke="#222" stroke-width="1.2" />
<line x1="771.8" y1="1128.17" x2="777.3" y2="1128.17" stroke="#222" stroke-width="1.2" />
<line x1="1286.6" y1="1128.17" x2="1289.6" y2="1128.17" stroke="#222" stroke-width="1.2" />
<line x1="771.8" y1="1118.97" x2="777.3" y2="1118.97" stroke="#222" stroke-width="1.2" />
<line x1="1286.6" y1="1118.97" x2="1289.6" y2="1118.97" stroke="#222" stroke-width="1.2" />
<line x1="771.8" y1="1109.77" x2="777.3" y2="1109.77" stroke="#222" stroke-width="1.2" />
<line x1="1286.6" y1="1109.77" x2="1289.6" y2="1109.77" stroke="#222" stroke-width="1.2" />
<line x1="771.8" y1="1091.38" x2="777.3" y2="1091.38" stroke="#222" stroke-width="1.2" />
<line x1="1286.6" y1="1091.38" x2="1289.6" y2="1091.38" stroke="#222" stroke-width="1.2" />
<line x1="771.8" y1="1082.18" x2="777.3" y2="1082.18" stroke="#222" stroke-width="1.2" />
<line x1="1286.6" y1="1082.18" x2="1289.6" y2="1082.18" stroke="#222" stroke-width="1.2" />
<line x1="771.8" y1="1072.98" x2="777.3" y2="1072.98" stroke="#222" stroke-width="1.2" />
<line x1="1286.6" y1="1072.98" x2="1289.6" y2="1072.98" stroke="#222" stroke-width="1.2" />
<line x1="771.8" y1="1063.78" x2="777.3" y2="1063.78" stroke="#222" stroke-width="1.2" />
<line x1="1286.6" y1="1063.78" x2="1289.6" y2="1063.78" stroke="#222" stroke-width="1.2" />
<line x1="771.8" y1="1045.39" x2="777.3" y2="1045.39" stroke="#222" stroke-width="1.2" />
<line x1="1286.6" y1="1045.39" x2="1289.6" y2="1045.39" stroke="#222" stroke-width="1.2" />
<line x1="771.8" y1="1036.19" x2="777.3" y2="1036.19" stroke="#222" stroke-width="1.2" />
<line x1="1286.6" y1="1036.19" x2="1289.6" y2="1036.19" stroke="#222" stroke-width="1.2" />
<line x1="771.8" y1="1026.99" x2="777.3" y2="1026.99" stroke="#222" stroke-width="1.2" />
<line x1="1286.6" y1="1026.99" x2="1289.6" y2="1026.99" stroke="#222" stroke-width="1.2" />
<line x1="771.8" y1="1017.8" x2="777.3" y2="1017.8" stroke="#222" stroke-width="1.2" />
<line x1="1286.6" y1="1017.8" x2="1289.6" y2="1017.8" stroke="#222" stroke-width="1.2" />
<line x1="769.8" y1="1376.5" x2="779.8" y2="1376.5" stroke="#222" stroke-width="1.32" />
<line x1="1284.6" y1="1376.5" x2="1289.6" y2="1376.5" stroke="#222" stroke-width="1.32" />
<line x1="769.8" y1="1330.51" x2="779.8" y2="1330.51" stroke="#222" stroke-width="1.32" />
<line x1="1284.6" y1="1330.51" x2="1289.6" y2="1330.51" stroke="#222" stroke-width="1.32" />
<line x1="769.8" y1="1284.53" x2="779.8" y2="1284.53" stroke="#222" stroke-width="1.32" />
<line x1="1284.6" y1="1284.53" x2="1289.6" y2="1284.53" stroke="#222" stroke-width="1.32" />
<line x1="769.8" y1="1238.54" x2="779.8" y2="1238.54" stroke="#222" stroke-width="1.32" />
<line x1="1284.6" y1="1238.54" x2="1289.6" y2="1238.54" stroke="#222" stroke-width="1.32" />
<line x1="769.8" y1="1192.55" x2="779.8" y2="1192.55" stroke="#222" stroke-width="1.32" />
<line x1="1284.6" y1="1192.55" x2="1289.6" y2="1192.55" stroke="#222" stroke-width="1.32" />
<line x1="769.8" y1="1146.56" x2="779.8" y2="1146.56" stroke="#222" stroke-width="1.32" />
<line x1="1284.6" y1="1146.56" x2="1289.6" y2="1146.56" stroke="#222" stroke-width="1.32" />
<line x1="769.8" y1="1100.58" x2="779.8" y2="1100.58" stroke="#222" stroke-width="1.32" />
<line x1="1284.6" y1="1100.58" x2="1289.6" y2="1100.58" stroke="#222" stroke-width="1.32" />
<line x1="769.8" y1="1054.59" x2="779.8" y2="1054.59" stroke="#222" stroke-width="1.32" />
<line x1="1284.6" y1="1054.59" x2="1289.6" y2="1054.59" stroke="#222" stroke-width="1.32" />
<line x1="769.8" y1="1008.6" x2="779.8" y2="1008.6" stroke="#222" stroke-width="1.32" />
<line x1="1284.6" y1="1008.6" x2="1289.6" y2="1008.6" stroke="#222" stroke-width="1.32" />
<rect x="774.8" y="1008.6" width="514.8" height="367.9" fill="none" stroke="#333" stroke-width="1.6" />
<text x="774.9" y="1409.5" font-size="23.6" text-anchor="middle" fill="#000" >0</text>
<text x="831.95" y="1409.5" font-size="23.6" text-anchor="middle" fill="#000" >100</text>
<text x="889" y="1409.5" font-size="23.6" text-anchor="middle" fill="#000" >200</text>
<text x="946.05" y="1409.5" font-size="23.6" text-anchor="middle" fill="#000" >300</text>
<text x="1003.1" y="1409.5" font-size="23.6" text-anchor="middle" fill="#000" >400</text>
<text x="1060.15" y="1409.5" font-size="23.6" text-anchor="middle" fill="#000" >500</text>
<text x="1117.2" y="1409.5" font-size="23.6" text-anchor="middle" fill="#000" >600</text>
<text x="1174.25" y="1409.5" font-size="23.6" text-anchor="middle" fill="#000" >700</text>
<text x="1231.3" y="1409.5" font-size="23.6" text-anchor="middle" fill="#000" >800</text>
<text x="1288.35" y="1409.5" font-size="23.6" text-anchor="middle" fill="#000" >900</text>
<text x="759" y="1384.6" font-size="24" text-anchor="end" fill="#000" >0</text>
<text x="759" y="1292.62" font-size="24" text-anchor="end" fill="#000" >2,000</text>
<text x="759" y="1200.65" font-size="24" text-anchor="end" fill="#000" >4,000</text>
<text x="759" y="1108.67" font-size="24" text-anchor="end" fill="#000" >6,000</text>
<text x="759" y="1016.7" font-size="24" text-anchor="end" fill="#000" >8,000</text>
<text x="1038.9" y="1447.3" font-size="23.6" text-anchor="middle" fill="#000" >m/z</text>
<rect x="788" y="1021" width="104.4" height="31.9" fill="#fff" stroke="#8a8a8a" stroke-width="1.2" />
<line x1="791.3" y1="1037.5" x2="808.3" y2="1037.5" stroke="#b0b0b0" stroke-width="1.2" />
<text x="816.6" y="1044" font-size="21.4" text-anchor="start" fill="#000" >Spectra</text>
<text x="916.4" y="1045" font-size="23.85" text-anchor="start" fill="#000" >Retention Time 13.73</text>
<text x="695.9" y="986.5" font-size="42" text-anchor="start" fill="#000" font-weight="bold" >f</text>
<polyline points="135.74,1880.2 137.18,1872.57 138.62,1880.2" stroke="#808080" stroke-width="1.1" fill="none" stroke-linejoin="round" />
<polyline points="137.66,1880.2 139.1,1873.21 140.54,1880.2" stroke="#808080" stroke-width="1.1" fill="none" stroke-linejoin="round" />
<polyline points="153.02,1880.2 154.46,1873.21 155.9,1880.2" stroke="#808080" stroke-width="1.1" fill="none" stroke-linejoin="round" />
<polyline points="165.5,1880.2 166.94,1873.85 168.38,1880.2" stroke="#808080" stroke-width="1.1" fill="none" stroke-linejoin="round" />
<polyline points="194.3,1880.2 195.74,1873.85 197.18,1880.2" stroke="#808080" stroke-width="1.1" fill="none" stroke-linejoin="round" />
<polyline points="195.26,1880.2 196.7,1874.48 198.14,1880.2" stroke="#808080" stroke-width="1.1" fill="none" stroke-linejoin="round" />
<polyline points="213.98,1880.2 215.42,1874.48 216.86,1880.2" stroke="#808080" stroke-width="1.1" fill="none" stroke-linejoin="round" />
<polyline points="217.34,1880.2 218.78,1872.57 220.22,1880.2" stroke="#808080" stroke-width="1.1" fill="none" stroke-linejoin="round" />
<polyline points="220.22,1880.2 221.66,1873.21 223.1,1880.2" stroke="#808080" stroke-width="1.1" fill="none" stroke-linejoin="round" />
<polyline points="239.9,1880.2 241.34,1874.48 242.78,1880.2" stroke="#808080" stroke-width="1.1" fill="none" stroke-linejoin="round" />
<polyline points="265.34,1880.2 266.78,1874.48 268.22,1880.2" stroke="#808080" stroke-width="1.1" fill="none" stroke-linejoin="round" />
<polyline points="282.62,1880.2 284.06,1868.76 285.5,1880.2" stroke="#808080" stroke-width="1.1" fill="none" stroke-linejoin="round" />
<polyline points="285.98,1880.2 287.42,1875.12 288.86,1880.2" stroke="#808080" stroke-width="1.1" fill="none" stroke-linejoin="round" />
<polyline points="288.86,1880.2 290.3,1874.48 291.74,1880.2" stroke="#808080" stroke-width="1.1" fill="none" stroke-linejoin="round" />
<polyline points="336.86,1880.2 338.3,1868.76 339.74,1880.2" stroke="#808080" stroke-width="1.1" fill="none" stroke-linejoin="round" />
<polyline points="338.3,1880.2 339.74,1870.03 341.18,1880.2" stroke="#808080" stroke-width="1.1" fill="none" stroke-linejoin="round" />
<polyline points="345.5,1880.2 346.94,1873.85 348.38,1880.2" stroke="#808080" stroke-width="1.1" fill="none" stroke-linejoin="round" />
<polyline points="501.02,1880.2 502.46,1874.48 503.9,1880.2" stroke="#808080" stroke-width="1.1" fill="none" stroke-linejoin="round" />
<polyline points="504.38,1880.2 505.82,1873.85 507.26,1880.2" stroke="#808080" stroke-width="1.1" fill="none" stroke-linejoin="round" />
<polyline points="316.7,1870.03 319.1,1871.3 332.06,1880.2" stroke="#8a8a8a" stroke-width="1.1" fill="none" stroke-linejoin="round" />
<polyline points="411.26,1864.95 415.1,1875.12 419.9,1880.2 428.06,1875.12 431.9,1868.76 433.82,1880.2" stroke="#8a8a8a" stroke-width="1.1" fill="none" stroke-linejoin="round" />
<line x1="361.82" y1="1880.2" x2="361.82" y2="1541.48" stroke="#a5d173" stroke-width="1.7" />
<polyline points="360.62,1880.2 362.06,1713.7 363.5,1880.2" stroke="#7a7a7a" stroke-width="1.3" fill="none" stroke-linejoin="round" />
<polyline points="313.82,1880.2 315.26,1845.37 316.7,1880.2" stroke="#7a7a7a" stroke-width="1.3" fill="none" stroke-linejoin="round" />
<polyline points="384.14,1880.2 385.58,1801.02 387.02,1880.2" stroke="#7a7a7a" stroke-width="1.3" fill="none" stroke-linejoin="round" />
<polyline points="385.34,1880.2 386.78,1813.22 388.22,1880.2" stroke="#7a7a7a" stroke-width="1.1" fill="none" stroke-linejoin="round" />
<polyline points="456.62,1880.2 458.06,1832.79 459.5,1880.2" stroke="#7a7a7a" stroke-width="1.3" fill="none" stroke-linejoin="round" />
<polyline points="408.86,1880.2 410.3,1691.08 411.74,1880.2" stroke="#7a7a7a" stroke-width="1.3" fill="none" stroke-linejoin="round" />
<line x1="134.3" y1="1877.7" x2="134.3" y2="1882.7" stroke="#555" stroke-width="1.1" />
<line x1="134.3" y1="1508.8" x2="134.3" y2="1511.8" stroke="#555" stroke-width="1.1" />
<line x1="158.3" y1="1877.7" x2="158.3" y2="1882.7" stroke="#555" stroke-width="1.1" />
<line x1="158.3" y1="1508.8" x2="158.3" y2="1511.8" stroke="#555" stroke-width="1.1" />
<line x1="182.3" y1="1877.7" x2="182.3" y2="1882.7" stroke="#555" stroke-width="1.1" />
<line x1="182.3" y1="1508.8" x2="182.3" y2="1511.8" stroke="#555" stroke-width="1.1" />
<line x1="206.3" y1="1877.7" x2="206.3" y2="1882.7" stroke="#555" stroke-width="1.1" />
<line x1="206.3" y1="1508.8" x2="206.3" y2="1511.8" stroke="#555" stroke-width="1.1" />
<line x1="230.3" y1="1877.7" x2="230.3" y2="1882.7" stroke="#555" stroke-width="1.1" />
<line x1="230.3" y1="1508.8" x2="230.3" y2="1511.8" stroke="#555" stroke-width="1.1" />
<line x1="254.3" y1="1877.7" x2="254.3" y2="1882.7" stroke="#555" stroke-width="1.1" />
<line x1="254.3" y1="1508.8" x2="254.3" y2="1511.8" stroke="#555" stroke-width="1.1" />
<line x1="278.3" y1="1877.7" x2="278.3" y2="1882.7" stroke="#555" stroke-width="1.1" />
<line x1="278.3" y1="1508.8" x2="278.3" y2="1511.8" stroke="#555" stroke-width="1.1" />
<line x1="302.3" y1="1877.7" x2="302.3" y2="1882.7" stroke="#555" stroke-width="1.1" />
<line x1="302.3" y1="1508.8" x2="302.3" y2="1511.8" stroke="#555" stroke-width="1.1" />
<line x1="326.3" y1="1877.7" x2="326.3" y2="1882.7" stroke="#555" stroke-width="1.1" />
<line x1="326.3" y1="1508.8" x2="326.3" y2="1511.8" stroke="#555" stroke-width="1.1" />
<line x1="350.3" y1="1877.7" x2="350.3" y2="1882.7" stroke="#555" stroke-width="1.1" />
<line x1="350.3" y1="1508.8" x2="350.3" y2="1511.8" stroke="#555" stroke-width="1.1" />
<line x1="374.3" y1="1877.7" x2="374.3" y2="1882.7" stroke="#555" stroke-width="1.1" />
<line x1="374.3" y1="1508.8" x2="374.3" y2="1511.8" stroke="#555" stroke-width="1.1" />
<line x1="398.3" y1="1877.7" x2="398.3" y2="1882.7" stroke="#555" stroke-width="1.1" />
<line x1="398.3" y1="1508.8" x2="398.3" y2="1511.8" stroke="#555" stroke-width="1.1" />
<line x1="422.3" y1="1877.7" x2="422.3" y2="1882.7" stroke="#555" stroke-width="1.1" />
<line x1="422.3" y1="1508.8" x2="422.3" y2="1511.8" stroke="#555" stroke-width="1.1" />
<line x1="446.3" y1="1877.7" x2="446.3" y2="1882.7" stroke="#555" stroke-width="1.1" />
<line x1="446.3" y1="1508.8" x2="446.3" y2="1511.8" stroke="#555" stroke-width="1.1" />
<line x1="470.3" y1="1877.7" x2="470.3" y2="1882.7" stroke="#555" stroke-width="1.1" />
<line x1="470.3" y1="1508.8" x2="470.3" y2="1511.8" stroke="#555" stroke-width="1.1" />
<line x1="494.3" y1="1877.7" x2="494.3" y2="1882.7" stroke="#555" stroke-width="1.1" />
<line x1="494.3" y1="1508.8" x2="494.3" y2="1511.8" stroke="#555" stroke-width="1.1" />
<line x1="518.3" y1="1877.7" x2="518.3" y2="1882.7" stroke="#555" stroke-width="1.1" />
<line x1="518.3" y1="1508.8" x2="518.3" y2="1511.8" stroke="#555" stroke-width="1.1" />
<line x1="542.3" y1="1877.7" x2="542.3" y2="1882.7" stroke="#555" stroke-width="1.1" />
<line x1="542.3" y1="1508.8" x2="542.3" y2="1511.8" stroke="#555" stroke-width="1.1" />
<line x1="566.3" y1="1877.7" x2="566.3" y2="1882.7" stroke="#555" stroke-width="1.1" />
<line x1="566.3" y1="1508.8" x2="566.3" y2="1511.8" stroke="#555" stroke-width="1.1" />
<line x1="590.3" y1="1877.7" x2="590.3" y2="1882.7" stroke="#555" stroke-width="1.1" />
<line x1="590.3" y1="1508.8" x2="590.3" y2="1511.8" stroke="#555" stroke-width="1.1" />
<line x1="614.3" y1="1877.7" x2="614.3" y2="1882.7" stroke="#555" stroke-width="1.1" />
<line x1="614.3" y1="1508.8" x2="614.3" y2="1511.8" stroke="#555" stroke-width="1.1" />
<line x1="112.8" y1="1867.49" x2="117.8" y2="1867.49" stroke="#555" stroke-width="1.1" />
<line x1="624.8" y1="1867.49" x2="627.8" y2="1867.49" stroke="#555" stroke-width="1.1" />
<line x1="112.8" y1="1854.78" x2="117.8" y2="1854.78" stroke="#555" stroke-width="1.1" />
<line x1="624.8" y1="1854.78" x2="627.8" y2="1854.78" stroke="#555" stroke-width="1.1" />
<line x1="112.8" y1="1842.07" x2="117.8" y2="1842.07" stroke="#555" stroke-width="1.1" />
<line x1="624.8" y1="1842.07" x2="627.8" y2="1842.07" stroke="#555" stroke-width="1.1" />
<line x1="112.8" y1="1829.36" x2="117.8" y2="1829.36" stroke="#555" stroke-width="1.1" />
<line x1="624.8" y1="1829.36" x2="627.8" y2="1829.36" stroke="#555" stroke-width="1.1" />
<line x1="112.8" y1="1803.94" x2="117.8" y2="1803.94" stroke="#555" stroke-width="1.1" />
<line x1="624.8" y1="1803.94" x2="627.8" y2="1803.94" stroke="#555" stroke-width="1.1" />
<line x1="112.8" y1="1791.23" x2="117.8" y2="1791.23" stroke="#555" stroke-width="1.1" />
<line x1="624.8" y1="1791.23" x2="627.8" y2="1791.23" stroke="#555" stroke-width="1.1" />
<line x1="112.8" y1="1778.52" x2="117.8" y2="1778.52" stroke="#555" stroke-width="1.1" />
<line x1="624.8" y1="1778.52" x2="627.8" y2="1778.52" stroke="#555" stroke-width="1.1" />
<line x1="112.8" y1="1765.81" x2="117.8" y2="1765.81" stroke="#555" stroke-width="1.1" />
<line x1="624.8" y1="1765.81" x2="627.8" y2="1765.81" stroke="#555" stroke-width="1.1" />
<line x1="112.8" y1="1740.39" x2="117.8" y2="1740.39" stroke="#555" stroke-width="1.1" />
<line x1="624.8" y1="1740.39" x2="627.8" y2="1740.39" stroke="#555" stroke-width="1.1" />
<line x1="112.8" y1="1727.68" x2="117.8" y2="1727.68" stroke="#555" stroke-width="1.1" />
<line x1="624.8" y1="1727.68" x2="627.8" y2="1727.68" stroke="#555" stroke-width="1.1" />
<line x1="112.8" y1="1714.97" x2="117.8" y2="1714.97" stroke="#555" stroke-width="1.1" />
<line x1="624.8" y1="1714.97" x2="627.8" y2="1714.97" stroke="#555" stroke-width="1.1" />
<line x1="112.8" y1="1702.26" x2="117.8" y2="1702.26" stroke="#555" stroke-width="1.1" />
<line x1="624.8" y1="1702.26" x2="627.8" y2="1702.26" stroke="#555" stroke-width="1.1" />
<line x1="112.8" y1="1676.84" x2="117.8" y2="1676.84" stroke="#555" stroke-width="1.1" />
<line x1="624.8" y1="1676.84" x2="627.8" y2="1676.84" stroke="#555" stroke-width="1.1" />
<line x1="112.8" y1="1664.13" x2="117.8" y2="1664.13" stroke="#555" stroke-width="1.1" />
<line x1="624.8" y1="1664.13" x2="627.8" y2="1664.13" stroke="#555" stroke-width="1.1" />
<line x1="112.8" y1="1651.42" x2="117.8" y2="1651.42" stroke="#555" stroke-width="1.1" />
<line x1="624.8" y1="1651.42" x2="627.8" y2="1651.42" stroke="#555" stroke-width="1.1" />
<line x1="112.8" y1="1638.71" x2="117.8" y2="1638.71" stroke="#555" stroke-width="1.1" />
<line x1="624.8" y1="1638.71" x2="627.8" y2="1638.71" stroke="#555" stroke-width="1.1" />
<line x1="112.8" y1="1613.29" x2="117.8" y2="1613.29" stroke="#555" stroke-width="1.1" />
<line x1="624.8" y1="1613.29" x2="627.8" y2="1613.29" stroke="#555" stroke-width="1.1" />
<line x1="112.8" y1="1600.58" x2="117.8" y2="1600.58" stroke="#555" stroke-width="1.1" />
<line x1="624.8" y1="1600.58" x2="627.8" y2="1600.58" stroke="#555" stroke-width="1.1" />
<line x1="112.8" y1="1587.87" x2="117.8" y2="1587.87" stroke="#555" stroke-width="1.1" />
<line x1="624.8" y1="1587.87" x2="627.8" y2="1587.87" stroke="#555" stroke-width="1.1" />
<line x1="112.8" y1="1575.16" x2="117.8" y2="1575.16" stroke="#555" stroke-width="1.1" />
<line x1="624.8" y1="1575.16" x2="627.8" y2="1575.16" stroke="#555" stroke-width="1.1" />
<line x1="112.8" y1="1549.74" x2="117.8" y2="1549.74" stroke="#555" stroke-width="1.1" />
<line x1="624.8" y1="1549.74" x2="627.8" y2="1549.74" stroke="#555" stroke-width="1.1" />
<line x1="112.8" y1="1537.03" x2="117.8" y2="1537.03" stroke="#555" stroke-width="1.1" />
<line x1="624.8" y1="1537.03" x2="627.8" y2="1537.03" stroke="#555" stroke-width="1.1" />
<line x1="112.8" y1="1524.32" x2="117.8" y2="1524.32" stroke="#555" stroke-width="1.1" />
<line x1="624.8" y1="1524.32" x2="627.8" y2="1524.32" stroke="#555" stroke-width="1.1" />
<line x1="110.3" y1="1880.2" x2="120.3" y2="1880.2" stroke="#555" stroke-width="1.21" />
<line x1="623.8" y1="1880.2" x2="627.8" y2="1880.2" stroke="#555" stroke-width="1.21" />
<line x1="110.3" y1="1816.65" x2="120.3" y2="1816.65" stroke="#555" stroke-width="1.21" />
<line x1="623.8" y1="1816.65" x2="627.8" y2="1816.65" stroke="#555" stroke-width="1.21" />
<line x1="110.3" y1="1753.1" x2="120.3" y2="1753.1" stroke="#555" stroke-width="1.21" />
<line x1="623.8" y1="1753.1" x2="627.8" y2="1753.1" stroke="#555" stroke-width="1.21" />
<line x1="110.3" y1="1689.55" x2="120.3" y2="1689.55" stroke="#555" stroke-width="1.21" />
<line x1="623.8" y1="1689.55" x2="627.8" y2="1689.55" stroke="#555" stroke-width="1.21" />
<line x1="110.3" y1="1626" x2="120.3" y2="1626" stroke="#555" stroke-width="1.21" />
<line x1="623.8" y1="1626" x2="627.8" y2="1626" stroke="#555" stroke-width="1.21" />
<line x1="110.3" y1="1562.45" x2="120.3" y2="1562.45" stroke="#555" stroke-width="1.21" />
<line x1="623.8" y1="1562.45" x2="627.8" y2="1562.45" stroke="#555" stroke-width="1.21" />
<rect x="115.3" y="1508.8" width="512.5" height="371.4" fill="none" stroke="#8c8c8c" stroke-width="1.6" />
<text x="101.3" y="1889.5" font-size="24" text-anchor="end" fill="#000" >0</text>
<text x="101.3" y="1825.95" font-size="24" text-anchor="end" fill="#000" >500</text>
<text x="101.3" y="1762.4" font-size="24" text-anchor="end" fill="#000" >1,000</text>
<text x="101.3" y="1698.85" font-size="24" text-anchor="end" fill="#000" >1,500</text>
<text x="101.3" y="1635.3" font-size="24" text-anchor="end" fill="#000" >2,000</text>
<text x="101.3" y="1571.75" font-size="24" text-anchor="end" fill="#000" >2,500</text>
<text x="159.9" y="1908" font-size="23.2" text-anchor="middle" fill="#000" >484</text>
<text x="251" y="1908" font-size="23.2" text-anchor="middle" fill="#000" >486</text>
<text x="348.7" y="1908" font-size="23.2" text-anchor="middle" fill="#000" >488</text>
<text x="448.5" y="1908" font-size="23.2" text-anchor="middle" fill="#000" >490</text>
<text x="537" y="1908" font-size="23.2" text-anchor="middle" fill="#000" >492</text>
<text x="353.6" y="1940.8" font-size="23.6" text-anchor="middle" fill="#000" >m/z</text>
<text x="22.6" y="1695.2" font-size="23.4" text-anchor="middle" fill="#000" transform="rotate(-90 22.6 1695.2)">Intensity</text>
<rect x="146.7" y="1517.7" width="118" height="24.8" fill="#fff" stroke="#555" stroke-width="1.1" />
<line x1="158.9" y1="1529.8" x2="175.5" y2="1529.8" stroke="#b0b0b0" stroke-width="1.2" />
<text x="187.2" y="1536" font-size="21.4" text-anchor="start" fill="#000" >Spectra</text>
<text x="139" y="1574.1" font-size="23.1" text-anchor="start" fill="#000" >Monoisotopic (M)</text>
<text x="396.9" y="1540.2" font-size="23.85" text-anchor="start" fill="#000" >Retention Time 13.73</text>
<text x="362.2" y="1532.1" font-size="10.5" text-anchor="start" fill="#9ccf6a" >p++</text>
<line x1="325.1" y1="1562.3" x2="346.21" y2="1553.03" stroke="#5b9bd5" stroke-width="3.6" />
<polygon points="357.2,1548.2 347.71,1558.92 342.88,1547.93" fill="#5b9bd5" stroke="none" />
<line x1="461.4" y1="1632.5" x2="428.71" y2="1651.96" stroke="#5b9bd5" stroke-width="3.6" />
<polygon points="418.4,1658.1 426.5,1646.29 432.64,1656.61" fill="#5b9bd5" stroke="none" />
<text x="518.8" y="1620" font-size="23.75" text-anchor="middle" fill="#000" >Fragment ion not</text>
<text x="515.5" y="1648.1" font-size="23.75" text-anchor="middle" fill="#000" >used for</text>
<text x="515" y="1676.2" font-size="23.75" text-anchor="middle" fill="#000" >quantitation</text>
<text x="386.6" y="1684.5" font-size="23.3" text-anchor="start" fill="#000" >M+2</text>
<text x="363.2" y="1795.6" font-size="23.3" text-anchor="start" fill="#000" >M+1</text>
<text x="33.9" y="1508.6" font-size="42" text-anchor="start" fill="#000" font-weight="bold" >g</text>
<polyline points="799.2,1875.6 800.71,1869.26 802.22,1875.6" stroke="#808080" stroke-width="1.1" fill="none" stroke-linejoin="round" />
<polyline points="800.21,1875.6 801.72,1869.89 803.23,1875.6" stroke="#808080" stroke-width="1.1" fill="none" stroke-linejoin="round" />
<polyline points="819.86,1875.6 821.38,1869.89 822.89,1875.6" stroke="#808080" stroke-width="1.1" fill="none" stroke-linejoin="round" />
<polyline points="823.39,1875.6 824.9,1867.99 826.42,1875.6" stroke="#808080" stroke-width="1.1" fill="none" stroke-linejoin="round" />
<polyline points="826.42,1875.6 827.93,1868.63 829.44,1875.6" stroke="#808080" stroke-width="1.1" fill="none" stroke-linejoin="round" />
<polyline points="847.08,1875.6 848.59,1869.89 850.1,1875.6" stroke="#808080" stroke-width="1.1" fill="none" stroke-linejoin="round" />
<polyline points="873.79,1875.6 875.3,1869.89 876.82,1875.6" stroke="#808080" stroke-width="1.1" fill="none" stroke-linejoin="round" />
<polyline points="891.94,1875.6 893.45,1864.19 894.96,1875.6" stroke="#808080" stroke-width="1.1" fill="none" stroke-linejoin="round" />
<polyline points="895.46,1875.6 896.98,1870.53 898.49,1875.6" stroke="#808080" stroke-width="1.1" fill="none" stroke-linejoin="round" />
<polyline points="898.49,1875.6 900,1869.89 901.51,1875.6" stroke="#808080" stroke-width="1.1" fill="none" stroke-linejoin="round" />
<polyline points="948.89,1875.6 950.4,1864.19 951.91,1875.6" stroke="#808080" stroke-width="1.1" fill="none" stroke-linejoin="round" />
<polyline points="950.4,1875.6 951.91,1865.46 953.42,1875.6" stroke="#808080" stroke-width="1.1" fill="none" stroke-linejoin="round" />
<polyline points="957.96,1875.6 959.47,1869.26 960.98,1875.6" stroke="#808080" stroke-width="1.1" fill="none" stroke-linejoin="round" />
<polyline points="1121.26,1875.6 1122.77,1869.89 1124.28,1875.6" stroke="#808080" stroke-width="1.1" fill="none" stroke-linejoin="round" />
<polyline points="1124.78,1875.6 1126.3,1869.26 1127.81,1875.6" stroke="#808080" stroke-width="1.1" fill="none" stroke-linejoin="round" />
<polyline points="927.72,1865.46 930.24,1866.72 943.85,1875.6" stroke="#8a8a8a" stroke-width="1.1" fill="none" stroke-linejoin="round" />
<polyline points="1027.01,1860.38 1031.04,1870.53 1036.08,1875.6 1044.65,1870.53 1048.68,1864.19 1050.7,1875.6" stroke="#8a8a8a" stroke-width="1.1" fill="none" stroke-linejoin="round" />
<line x1="975.1" y1="1875.6" x2="975.1" y2="1537.68" stroke="#a5d173" stroke-width="1.7" />
<polyline points="973.84,1875.6 975.35,1709.49 976.86,1875.6" stroke="#7a7a7a" stroke-width="1.3" fill="none" stroke-linejoin="round" />
<polyline points="924.7,1875.6 926.21,1840.86 927.72,1875.6" stroke="#7a7a7a" stroke-width="1.3" fill="none" stroke-linejoin="round" />
<polyline points="998.53,1875.6 1000.04,1796.6 1001.56,1875.6" stroke="#7a7a7a" stroke-width="1.3" fill="none" stroke-linejoin="round" />
<polyline points="999.79,1875.6 1001.3,1808.78 1002.82,1875.6" stroke="#7a7a7a" stroke-width="1.1" fill="none" stroke-linejoin="round" />
<polyline points="1074.64,1875.6 1076.15,1828.3 1077.66,1875.6" stroke="#7a7a7a" stroke-width="1.3" fill="none" stroke-linejoin="round" />
<line x1="1026.2" y1="1875.6" x2="1026.2" y2="1609.95" stroke="#d5506a" stroke-width="1.7" />
<polyline points="1024.49,1875.6 1026,1734.85 1027.51,1875.6" stroke="#7a7a7a" stroke-width="1.2" fill="none" stroke-linejoin="round" />
<line x1="781.56" y1="1873.1" x2="781.56" y2="1878.1" stroke="#555" stroke-width="1.1" />
<line x1="781.56" y1="1501.3" x2="781.56" y2="1504.3" stroke="#555" stroke-width="1.1" />
<line x1="791.64" y1="1873.1" x2="791.64" y2="1878.1" stroke="#555" stroke-width="1.1" />
<line x1="791.64" y1="1501.3" x2="791.64" y2="1504.3" stroke="#555" stroke-width="1.1" />
<line x1="801.72" y1="1873.1" x2="801.72" y2="1878.1" stroke="#555" stroke-width="1.1" />
<line x1="801.72" y1="1501.3" x2="801.72" y2="1504.3" stroke="#555" stroke-width="1.1" />
<line x1="811.8" y1="1873.1" x2="811.8" y2="1878.1" stroke="#555" stroke-width="1.1" />
<line x1="811.8" y1="1501.3" x2="811.8" y2="1504.3" stroke="#555" stroke-width="1.1" />
<line x1="821.88" y1="1873.1" x2="821.88" y2="1878.1" stroke="#555" stroke-width="1.1" />
<line x1="821.88" y1="1501.3" x2="821.88" y2="1504.3" stroke="#555" stroke-width="1.1" />
<line x1="831.96" y1="1873.1" x2="831.96" y2="1878.1" stroke="#555" stroke-width="1.1" />
<line x1="831.96" y1="1501.3" x2="831.96" y2="1504.3" stroke="#555" stroke-width="1.1" />
<line x1="842.04" y1="1873.1" x2="842.04" y2="1878.1" stroke="#555" stroke-width="1.1" />
<line x1="842.04" y1="1501.3" x2="842.04" y2="1504.3" stroke="#555" stroke-width="1.1" />
<line x1="852.12" y1="1873.1" x2="852.12" y2="1878.1" stroke="#555" stroke-width="1.1" />
<line x1="852.12" y1="1501.3" x2="852.12" y2="1504.3" stroke="#555" stroke-width="1.1" />
<line x1="862.2" y1="1873.1" x2="862.2" y2="1878.1" stroke="#555" stroke-width="1.1" />
<line x1="862.2" y1="1501.3" x2="862.2" y2="1504.3" stroke="#555" stroke-width="1.1" />
<line x1="872.28" y1="1873.1" x2="872.28" y2="1878.1" stroke="#555" stroke-width="1.1" />
<line x1="872.28" y1="1501.3" x2="872.28" y2="1504.3" stroke="#555" stroke-width="1.1" />
<line x1="882.36" y1="1873.1" x2="882.36" y2="1878.1" stroke="#555" stroke-width="1.1" />
<line x1="882.36" y1="1501.3" x2="882.36" y2="1504.3" stroke="#555" stroke-width="1.1" />
<line x1="892.44" y1="1873.1" x2="892.44" y2="1878.1" stroke="#555" stroke-width="1.1" />
<line x1="892.44" y1="1501.3" x2="892.44" y2="1504.3" stroke="#555" stroke-width="1.1" />
<line x1="902.52" y1="1873.1" x2="902.52" y2="1878.1" stroke="#555" stroke-width="1.1" />
<line x1="902.52" y1="1501.3" x2="902.52" y2="1504.3" stroke="#555" stroke-width="1.1" />
<line x1="912.6" y1="1873.1" x2="912.6" y2="1878.1" stroke="#555" stroke-width="1.1" />
<line x1="912.6" y1="1501.3" x2="912.6" y2="1504.3" stroke="#555" stroke-width="1.1" />
<line x1="922.68" y1="1873.1" x2="922.68" y2="1878.1" stroke="#555" stroke-width="1.1" />
<line x1="922.68" y1="1501.3" x2="922.68" y2="1504.3" stroke="#555" stroke-width="1.1" />
<line x1="932.76" y1="1873.1" x2="932.76" y2="1878.1" stroke="#555" stroke-width="1.1" />
<line x1="932.76" y1="1501.3" x2="932.76" y2="1504.3" stroke="#555" stroke-width="1.1" />
<line x1="942.84" y1="1873.1" x2="942.84" y2="1878.1" stroke="#555" stroke-width="1.1" />
<line x1="942.84" y1="1501.3" x2="942.84" y2="1504.3" stroke="#555" stroke-width="1.1" />
<line x1="952.92" y1="1873.1" x2="952.92" y2="1878.1" stroke="#555" stroke-width="1.1" />
<line x1="952.92" y1="1501.3" x2="952.92" y2="1504.3" stroke="#555" stroke-width="1.1" />
<line x1="963" y1="1873.1" x2="963" y2="1878.1" stroke="#555" stroke-width="1.1" />
<line x1="963" y1="1501.3" x2="963" y2="1504.3" stroke="#555" stroke-width="1.1" />
<line x1="973.08" y1="1873.1" x2="973.08" y2="1878.1" stroke="#555" stroke-width="1.1" />
<line x1="973.08" y1="1501.3" x2="973.08" y2="1504.3" stroke="#555" stroke-width="1.1" />
<line x1="983.16" y1="1873.1" x2="983.16" y2="1878.1" stroke="#555" stroke-width="1.1" />
<line x1="983.16" y1="1501.3" x2="983.16" y2="1504.3" stroke="#555" stroke-width="1.1" />
<line x1="993.24" y1="1873.1" x2="993.24" y2="1878.1" stroke="#555" stroke-width="1.1" />
<line x1="993.24" y1="1501.3" x2="993.24" y2="1504.3" stroke="#555" stroke-width="1.1" />
<line x1="1003.32" y1="1873.1" x2="1003.32" y2="1878.1" stroke="#555" stroke-width="1.1" />
<line x1="1003.32" y1="1501.3" x2="1003.32" y2="1504.3" stroke="#555" stroke-width="1.1" />
<line x1="1013.4" y1="1873.1" x2="1013.4" y2="1878.1" stroke="#555" stroke-width="1.1" />
<line x1="1013.4" y1="1501.3" x2="1013.4" y2="1504.3" stroke="#555" stroke-width="1.1" />
<line x1="1023.48" y1="1873.1" x2="1023.48" y2="1878.1" stroke="#555" stroke-width="1.1" />
<line x1="1023.48" y1="1501.3" x2="1023.48" y2="1504.3" stroke="#555" stroke-width="1.1" />
<line x1="1033.56" y1="1873.1" x2="1033.56" y2="1878.1" stroke="#555" stroke-width="1.1" />
<line x1="1033.56" y1="1501.3" x2="1033.56" y2="1504.3" stroke="#555" stroke-width="1.1" />
<line x1="1043.64" y1="1873.1" x2="1043.64" y2="1878.1" stroke="#555" stroke-width="1.1" />
<line x1="1043.64" y1="1501.3" x2="1043.64" y2="1504.3" stroke="#555" stroke-width="1.1" />
<line x1="1053.72" y1="1873.1" x2="1053.72" y2="1878.1" stroke="#555" stroke-width="1.1" />
<line x1="1053.72" y1="1501.3" x2="1053.72" y2="1504.3" stroke="#555" stroke-width="1.1" />
<line x1="1063.8" y1="1873.1" x2="1063.8" y2="1878.1" stroke="#555" stroke-width="1.1" />
<line x1="1063.8" y1="1501.3" x2="1063.8" y2="1504.3" stroke="#555" stroke-width="1.1" />
<line x1="1073.88" y1="1873.1" x2="1073.88" y2="1878.1" stroke="#555" stroke-width="1.1" />
<line x1="1073.88" y1="1501.3" x2="1073.88" y2="1504.3" stroke="#555" stroke-width="1.1" />
<line x1="1083.96" y1="1873.1" x2="1083.96" y2="1878.1" stroke="#555" stroke-width="1.1" />
<line x1="1083.96" y1="1501.3" x2="1083.96" y2="1504.3" stroke="#555" stroke-width="1.1" />
<line x1="1094.04" y1="1873.1" x2="1094.04" y2="1878.1" stroke="#555" stroke-width="1.1" />
<line x1="1094.04" y1="1501.3" x2="1094.04" y2="1504.3" stroke="#555" stroke-width="1.1" />
<line x1="1104.12" y1="1873.1" x2="1104.12" y2="1878.1" stroke="#555" stroke-width="1.1" />
<line x1="1104.12" y1="1501.3" x2="1104.12" y2="1504.3" stroke="#555" stroke-width="1.1" />
<line x1="1114.2" y1="1873.1" x2="1114.2" y2="1878.1" stroke="#555" stroke-width="1.1" />
<line x1="1114.2" y1="1501.3" x2="1114.2" y2="1504.3" stroke="#555" stroke-width="1.1" />
<line x1="1124.28" y1="1873.1" x2="1124.28" y2="1878.1" stroke="#555" stroke-width="1.1" />
<line x1="1124.28" y1="1501.3" x2="1124.28" y2="1504.3" stroke="#555" stroke-width="1.1" />
<line x1="1134.36" y1="1873.1" x2="1134.36" y2="1878.1" stroke="#555" stroke-width="1.1" />
<line x1="1134.36" y1="1501.3" x2="1134.36" y2="1504.3" stroke="#555" stroke-width="1.1" />
<line x1="1144.44" y1="1873.1" x2="1144.44" y2="1878.1" stroke="#555" stroke-width="1.1" />
<line x1="1144.44" y1="1501.3" x2="1144.44" y2="1504.3" stroke="#555" stroke-width="1.1" />
<line x1="1154.52" y1="1873.1" x2="1154.52" y2="1878.1" stroke="#555" stroke-width="1.1" />
<line x1="1154.52" y1="1501.3" x2="1154.52" y2="1504.3" stroke="#555" stroke-width="1.1" />
<line x1="1164.6" y1="1873.1" x2="1164.6" y2="1878.1" stroke="#555" stroke-width="1.1" />
<line x1="1164.6" y1="1501.3" x2="1164.6" y2="1504.3" stroke="#555" stroke-width="1.1" />
<line x1="1174.68" y1="1873.1" x2="1174.68" y2="1878.1" stroke="#555" stroke-width="1.1" />
<line x1="1174.68" y1="1501.3" x2="1174.68" y2="1504.3" stroke="#555" stroke-width="1.1" />
<line x1="1184.76" y1="1873.1" x2="1184.76" y2="1878.1" stroke="#555" stroke-width="1.1" />
<line x1="1184.76" y1="1501.3" x2="1184.76" y2="1504.3" stroke="#555" stroke-width="1.1" />
<line x1="1194.84" y1="1873.1" x2="1194.84" y2="1878.1" stroke="#555" stroke-width="1.1" />
<line x1="1194.84" y1="1501.3" x2="1194.84" y2="1504.3" stroke="#555" stroke-width="1.1" />
<line x1="1204.92" y1="1873.1" x2="1204.92" y2="1878.1" stroke="#555" stroke-width="1.1" />
<line x1="1204.92" y1="1501.3" x2="1204.92" y2="1504.3" stroke="#555" stroke-width="1.1" />
<line x1="1215" y1="1873.1" x2="1215" y2="1878.1" stroke="#555" stroke-width="1.1" />
<line x1="1215" y1="1501.3" x2="1215" y2="1504.3" stroke="#555" stroke-width="1.1" />
<line x1="1225.08" y1="1873.1" x2="1225.08" y2="1878.1" stroke="#555" stroke-width="1.1" />
<line x1="1225.08" y1="1501.3" x2="1225.08" y2="1504.3" stroke="#555" stroke-width="1.1" />
<line x1="1235.16" y1="1873.1" x2="1235.16" y2="1878.1" stroke="#555" stroke-width="1.1" />
<line x1="1235.16" y1="1501.3" x2="1235.16" y2="1504.3" stroke="#555" stroke-width="1.1" />
<line x1="1245.24" y1="1873.1" x2="1245.24" y2="1878.1" stroke="#555" stroke-width="1.1" />
<line x1="1245.24" y1="1501.3" x2="1245.24" y2="1504.3" stroke="#555" stroke-width="1.1" />
<line x1="1255.32" y1="1873.1" x2="1255.32" y2="1878.1" stroke="#555" stroke-width="1.1" />
<line x1="1255.32" y1="1501.3" x2="1255.32" y2="1504.3" stroke="#555" stroke-width="1.1" />
<line x1="1265.4" y1="1873.1" x2="1265.4" y2="1878.1" stroke="#555" stroke-width="1.1" />
<line x1="1265.4" y1="1501.3" x2="1265.4" y2="1504.3" stroke="#555" stroke-width="1.1" />
<line x1="1275.48" y1="1873.1" x2="1275.48" y2="1878.1" stroke="#555" stroke-width="1.1" />
<line x1="1275.48" y1="1501.3" x2="1275.48" y2="1504.3" stroke="#555" stroke-width="1.1" />
<line x1="1285.56" y1="1873.1" x2="1285.56" y2="1878.1" stroke="#555" stroke-width="1.1" />
<line x1="1285.56" y1="1501.3" x2="1285.56" y2="1504.3" stroke="#555" stroke-width="1.1" />
<line x1="776.4" y1="1862.92" x2="781.4" y2="1862.92" stroke="#555" stroke-width="1.1" />
<line x1="1285.2" y1="1862.92" x2="1288.2" y2="1862.92" stroke="#555" stroke-width="1.1" />
<line x1="776.4" y1="1850.24" x2="781.4" y2="1850.24" stroke="#555" stroke-width="1.1" />
<line x1="1285.2" y1="1850.24" x2="1288.2" y2="1850.24" stroke="#555" stroke-width="1.1" />
<line x1="776.4" y1="1837.56" x2="781.4" y2="1837.56" stroke="#555" stroke-width="1.1" />
<line x1="1285.2" y1="1837.56" x2="1288.2" y2="1837.56" stroke="#555" stroke-width="1.1" />
<line x1="776.4" y1="1824.88" x2="781.4" y2="1824.88" stroke="#555" stroke-width="1.1" />
<line x1="1285.2" y1="1824.88" x2="1288.2" y2="1824.88" stroke="#555" stroke-width="1.1" />
<line x1="776.4" y1="1799.52" x2="781.4" y2="1799.52" stroke="#555" stroke-width="1.1" />
<line x1="1285.2" y1="1799.52" x2="1288.2" y2="1799.52" stroke="#555" stroke-width="1.1" />
<line x1="776.4" y1="1786.84" x2="781.4" y2="1786.84" stroke="#555" stroke-width="1.1" />
<line x1="1285.2" y1="1786.84" x2="1288.2" y2="1786.84" stroke="#555" stroke-width="1.1" />
<line x1="776.4" y1="1774.16" x2="781.4" y2="1774.16" stroke="#555" stroke-width="1.1" />
<line x1="1285.2" y1="1774.16" x2="1288.2" y2="1774.16" stroke="#555" stroke-width="1.1" />
<line x1="776.4" y1="1761.48" x2="781.4" y2="1761.48" stroke="#555" stroke-width="1.1" />
<line x1="1285.2" y1="1761.48" x2="1288.2" y2="1761.48" stroke="#555" stroke-width="1.1" />
<line x1="776.4" y1="1736.12" x2="781.4" y2="1736.12" stroke="#555" stroke-width="1.1" />
<line x1="1285.2" y1="1736.12" x2="1288.2" y2="1736.12" stroke="#555" stroke-width="1.1" />
<line x1="776.4" y1="1723.44" x2="781.4" y2="1723.44" stroke="#555" stroke-width="1.1" />
<line x1="1285.2" y1="1723.44" x2="1288.2" y2="1723.44" stroke="#555" stroke-width="1.1" />
<line x1="776.4" y1="1710.76" x2="781.4" y2="1710.76" stroke="#555" stroke-width="1.1" />
<line x1="1285.2" y1="1710.76" x2="1288.2" y2="1710.76" stroke="#555" stroke-width="1.1" />
<line x1="776.4" y1="1698.08" x2="781.4" y2="1698.08" stroke="#555" stroke-width="1.1" />
<line x1="1285.2" y1="1698.08" x2="1288.2" y2="1698.08" stroke="#555" stroke-width="1.1" />
<line x1="776.4" y1="1672.72" x2="781.4" y2="1672.72" stroke="#555" stroke-width="1.1" />
<line x1="1285.2" y1="1672.72" x2="1288.2" y2="1672.72" stroke="#555" stroke-width="1.1" />
<line x1="776.4" y1="1660.04" x2="781.4" y2="1660.04" stroke="#555" stroke-width="1.1" />
<line x1="1285.2" y1="1660.04" x2="1288.2" y2="1660.04" stroke="#555" stroke-width="1.1" />
<line x1="776.4" y1="1647.36" x2="781.4" y2="1647.36" stroke="#555" stroke-width="1.1" />
<line x1="1285.2" y1="1647.36" x2="1288.2" y2="1647.36" stroke="#555" stroke-width="1.1" />
<line x1="776.4" y1="1634.68" x2="781.4" y2="1634.68" stroke="#555" stroke-width="1.1" />
<line x1="1285.2" y1="1634.68" x2="1288.2" y2="1634.68" stroke="#555" stroke-width="1.1" />
<line x1="776.4" y1="1609.32" x2="781.4" y2="1609.32" stroke="#555" stroke-width="1.1" />
<line x1="1285.2" y1="1609.32" x2="1288.2" y2="1609.32" stroke="#555" stroke-width="1.1" />
<line x1="776.4" y1="1596.64" x2="781.4" y2="1596.64" stroke="#555" stroke-width="1.1" />
<line x1="1285.2" y1="1596.64" x2="1288.2" y2="1596.64" stroke="#555" stroke-width="1.1" />
<line x1="776.4" y1="1583.96" x2="781.4" y2="1583.96" stroke="#555" stroke-width="1.1" />
<line x1="1285.2" y1="1583.96" x2="1288.2" y2="1583.96" stroke="#555" stroke-width="1.1" />
<line x1="776.4" y1="1571.28" x2="781.4" y2="1571.28" stroke="#555" stroke-width="1.1" />
<line x1="1285.2" y1="1571.28" x2="1288.2" y2="1571.28" stroke="#555" stroke-width="1.1" />
<line x1="776.4" y1="1545.92" x2="781.4" y2="1545.92" stroke="#555" stroke-width="1.1" />
<line x1="1285.2" y1="1545.92" x2="1288.2" y2="1545.92" stroke="#555" stroke-width="1.1" />
<line x1="776.4" y1="1533.24" x2="781.4" y2="1533.24" stroke="#555" stroke-width="1.1" />
<line x1="1285.2" y1="1533.24" x2="1288.2" y2="1533.24" stroke="#555" stroke-width="1.1" />
<line x1="776.4" y1="1520.56" x2="781.4" y2="1520.56" stroke="#555" stroke-width="1.1" />
<line x1="1285.2" y1="1520.56" x2="1288.2" y2="1520.56" stroke="#555" stroke-width="1.1" />
<line x1="773.9" y1="1875.6" x2="783.9" y2="1875.6" stroke="#555" stroke-width="1.21" />
<line x1="1284.2" y1="1875.6" x2="1288.2" y2="1875.6" stroke="#555" stroke-width="1.21" />
<line x1="773.9" y1="1812.2" x2="783.9" y2="1812.2" stroke="#555" stroke-width="1.21" />
<line x1="1284.2" y1="1812.2" x2="1288.2" y2="1812.2" stroke="#555" stroke-width="1.21" />
<line x1="773.9" y1="1748.8" x2="783.9" y2="1748.8" stroke="#555" stroke-width="1.21" />
<line x1="1284.2" y1="1748.8" x2="1288.2" y2="1748.8" stroke="#555" stroke-width="1.21" />
<line x1="773.9" y1="1685.4" x2="783.9" y2="1685.4" stroke="#555" stroke-width="1.21" />
<line x1="1284.2" y1="1685.4" x2="1288.2" y2="1685.4" stroke="#555" stroke-width="1.21" />
<line x1="773.9" y1="1622" x2="783.9" y2="1622" stroke="#555" stroke-width="1.21" />
<line x1="1284.2" y1="1622" x2="1288.2" y2="1622" stroke="#555" stroke-width="1.21" />
<line x1="773.9" y1="1558.6" x2="783.9" y2="1558.6" stroke="#555" stroke-width="1.21" />
<line x1="1284.2" y1="1558.6" x2="1288.2" y2="1558.6" stroke="#555" stroke-width="1.21" />
<rect x="778.9" y="1501.3" width="509.3" height="374.3" fill="none" stroke="#8c8c8c" stroke-width="1.6" />
<text x="764.6" y="1884.9" font-size="24" text-anchor="end" fill="#000" >0</text>
<text x="764.6" y="1821.5" font-size="24" text-anchor="end" fill="#000" >500</text>
<text x="764.6" y="1758.1" font-size="24" text-anchor="end" fill="#000" >1,000</text>
<text x="764.6" y="1694.7" font-size="24" text-anchor="end" fill="#000" >1,500</text>
<text x="764.6" y="1631.3" font-size="24" text-anchor="end" fill="#000" >2,000</text>
<text x="764.6" y="1567.9" font-size="24" text-anchor="end" fill="#000" >2,500</text>
<text x="811.8" y="1907.2" font-size="23.2" text-anchor="middle" fill="#000" >485</text>
<text x="912.6" y="1907.2" font-size="23.2" text-anchor="middle" fill="#000" >487</text>
<text x="1013.4" y="1907.2" font-size="23.2" text-anchor="middle" fill="#000" >489</text>
<text x="1114.2" y="1907.2" font-size="23.2" text-anchor="middle" fill="#000" >491</text>
<text x="1215" y="1907.2" font-size="23.2" text-anchor="middle" fill="#000" >493</text>
<text x="1037.2" y="1937.4" font-size="23.6" text-anchor="middle" fill="#000" >m/z</text>
<text x="811.1" y="1782.9" font-size="23.6" text-anchor="start" fill="#000" >m/z</text>
<rect x="802.9" y="1509.6" width="123.8" height="25.7" fill="#fff" stroke="#555" stroke-width="1.1" />
<line x1="809.3" y1="1522.6" x2="825.8" y2="1522.6" stroke="#b0b0b0" stroke-width="1.2" />
<text x="837.6" y="1528.3" font-size="21.4" text-anchor="start" fill="#000" >Spectra</text>
<text x="788.7" y="1572.7" font-size="23.1" text-anchor="start" fill="#000" >Monoisotopic (M)</text>
<text x="1053.9" y="1529.6" font-size="23.85" text-anchor="start" fill="#000" >Retention Time 13.73</text>
<text x="975.8" y="1525.4" font-size="10.5" text-anchor="start" fill="#9ccf6a" >p++</text>
<text x="1009.6" y="1584.9" font-size="23.3" text-anchor="start" fill="#000" >M+2</text>
<text x="1024" y="1601.7" font-size="11.2" text-anchor="start" fill="#c8102e" >y4+</text>
<text x="977.4" y="1795" font-size="23.3" text-anchor="start" fill="#000" >M+1</text>
<text x="1173.9" y="1594.1" font-size="23.75" text-anchor="middle" fill="#000" >Fragment ion +</text>
<text x="1173.9" y="1621.7" font-size="23.75" text-anchor="middle" fill="#000" >un-fragmented</text>
<text x="1173.9" y="1650.1" font-size="23.75" text-anchor="middle" fill="#000" >precursor M+2</text>
<text x="1173.9" y="1678.2" font-size="23.75" text-anchor="middle" fill="#000" >signal used for</text>
<text x="1173.9" y="1705.8" font-size="23.75" text-anchor="middle" fill="#000" >quantitation</text>
<line x1="934.5" y1="1548.6" x2="957.92" y2="1541.49" stroke="#5b9bd5" stroke-width="3.6" />
<polygon points="969.4,1538 958.7,1547.52 955.22,1536.04" fill="#5b9bd5" stroke="none" />
<line x1="1085.5" y1="1622.5" x2="1040.85" y2="1677.67" stroke="#5b9bd5" stroke-width="3.6" />
<polygon points="1033.3,1687 1036.81,1673.12 1046.14,1680.67" fill="#5b9bd5" stroke="none" />
<text x="696.1" y="1508.5" font-size="42" text-anchor="start" fill="#000" font-weight="bold" >h</text>
<line x1="110.6" y1="2219.1" x2="622.9" y2="2219.1" stroke="#333" stroke-width="1.3" />
<line x1="156.13" y1="2219.1" x2="156.13" y2="2165.39" stroke="#000" stroke-width="2" />
<line x1="156.13" y1="2219.1" x2="156.13" y2="2275.34" stroke="#c8102e" stroke-width="2" />
<text x="159.03" y="2166.19" font-size="11.8" text-anchor="start" fill="#1a1a1a" >[b2+]</text>
<line x1="204.23" y1="2219.1" x2="204.23" y2="2174.17" stroke="#000" stroke-width="2" />
<line x1="204.23" y1="2219.1" x2="204.23" y2="2308.62" stroke="#c8102e" stroke-width="2" />
<text x="207.13" y="2174.97" font-size="11.8" text-anchor="start" fill="#1a1a1a" >[y2+]</text>
<line x1="277.87" y1="2219.1" x2="277.87" y2="2196.13" stroke="#000" stroke-width="2" />
<line x1="277.87" y1="2219.1" x2="277.87" y2="2243.76" stroke="#c8102e" stroke-width="2" />
<text x="280.77" y="2196.93" font-size="11.8" text-anchor="start" fill="#1a1a1a" >[y3+]</text>
<line x1="415.62" y1="2219.1" x2="415.62" y2="2162.35" stroke="#000" stroke-width="2" />
<line x1="415.62" y1="2219.1" x2="415.62" y2="2301.19" stroke="#c8102e" stroke-width="2" />
<text x="418.52" y="2163.15" font-size="11.8" text-anchor="start" fill="#1a1a1a" >[y5+]</text>
<line x1="480.3" y1="2219.1" x2="480.3" y2="2050.2" stroke="#000" stroke-width="2" />
<line x1="480.3" y1="2219.1" x2="480.3" y2="2386.31" stroke="#c8102e" stroke-width="2" />
<text x="483.2" y="2045.8" font-size="11.8" text-anchor="start" fill="#1a1a1a" >[y6+]</text>
<line x1="562.34" y1="2219.1" x2="562.34" y2="2141.57" stroke="#000" stroke-width="2" />
<line x1="562.34" y1="2219.1" x2="562.34" y2="2299.83" stroke="#c8102e" stroke-width="2" />
<text x="565.24" y="2142.37" font-size="11.8" text-anchor="start" fill="#1a1a1a" >[y7+]</text>
<line x1="123.41" y1="2419" x2="123.41" y2="2424" stroke="#333" stroke-width="1.1" />
<line x1="123.41" y1="2016.6" x2="123.41" y2="2019.6" stroke="#333" stroke-width="1.1" />
<line x1="136.22" y1="2419" x2="136.22" y2="2424" stroke="#333" stroke-width="1.1" />
<line x1="136.22" y1="2016.6" x2="136.22" y2="2019.6" stroke="#333" stroke-width="1.1" />
<line x1="149.02" y1="2419" x2="149.02" y2="2424" stroke="#333" stroke-width="1.1" />
<line x1="149.02" y1="2016.6" x2="149.02" y2="2019.6" stroke="#333" stroke-width="1.1" />
<line x1="161.83" y1="2419" x2="161.83" y2="2424" stroke="#333" stroke-width="1.1" />
<line x1="161.83" y1="2016.6" x2="161.83" y2="2019.6" stroke="#333" stroke-width="1.1" />
<line x1="187.45" y1="2419" x2="187.45" y2="2424" stroke="#333" stroke-width="1.1" />
<line x1="187.45" y1="2016.6" x2="187.45" y2="2019.6" stroke="#333" stroke-width="1.1" />
<line x1="200.26" y1="2419" x2="200.26" y2="2424" stroke="#333" stroke-width="1.1" />
<line x1="200.26" y1="2016.6" x2="200.26" y2="2019.6" stroke="#333" stroke-width="1.1" />
<line x1="213.06" y1="2419" x2="213.06" y2="2424" stroke="#333" stroke-width="1.1" />
<line x1="213.06" y1="2016.6" x2="213.06" y2="2019.6" stroke="#333" stroke-width="1.1" />
<line x1="225.87" y1="2419" x2="225.87" y2="2424" stroke="#333" stroke-width="1.1" />
<line x1="225.87" y1="2016.6" x2="225.87" y2="2019.6" stroke="#333" stroke-width="1.1" />
<line x1="251.49" y1="2419" x2="251.49" y2="2424" stroke="#333" stroke-width="1.1" />
<line x1="251.49" y1="2016.6" x2="251.49" y2="2019.6" stroke="#333" stroke-width="1.1" />
<line x1="264.3" y1="2419" x2="264.3" y2="2424" stroke="#333" stroke-width="1.1" />
<line x1="264.3" y1="2016.6" x2="264.3" y2="2019.6" stroke="#333" stroke-width="1.1" />
<line x1="277.1" y1="2419" x2="277.1" y2="2424" stroke="#333" stroke-width="1.1" />
<line x1="277.1" y1="2016.6" x2="277.1" y2="2019.6" stroke="#333" stroke-width="1.1" />
<line x1="289.91" y1="2419" x2="289.91" y2="2424" stroke="#333" stroke-width="1.1" />
<line x1="289.91" y1="2016.6" x2="289.91" y2="2019.6" stroke="#333" stroke-width="1.1" />
<line x1="315.53" y1="2419" x2="315.53" y2="2424" stroke="#333" stroke-width="1.1" />
<line x1="315.53" y1="2016.6" x2="315.53" y2="2019.6" stroke="#333" stroke-width="1.1" />
<line x1="328.34" y1="2419" x2="328.34" y2="2424" stroke="#333" stroke-width="1.1" />
<line x1="328.34" y1="2016.6" x2="328.34" y2="2019.6" stroke="#333" stroke-width="1.1" />
<line x1="341.14" y1="2419" x2="341.14" y2="2424" stroke="#333" stroke-width="1.1" />
<line x1="341.14" y1="2016.6" x2="341.14" y2="2019.6" stroke="#333" stroke-width="1.1" />
<line x1="353.95" y1="2419" x2="353.95" y2="2424" stroke="#333" stroke-width="1.1" />
<line x1="353.95" y1="2016.6" x2="353.95" y2="2019.6" stroke="#333" stroke-width="1.1" />
<line x1="379.57" y1="2419" x2="379.57" y2="2424" stroke="#333" stroke-width="1.1" />
<line x1="379.57" y1="2016.6" x2="379.57" y2="2019.6" stroke="#333" stroke-width="1.1" />
<line x1="392.38" y1="2419" x2="392.38" y2="2424" stroke="#333" stroke-width="1.1" />
<line x1="392.38" y1="2016.6" x2="392.38" y2="2019.6" stroke="#333" stroke-width="1.1" />
<line x1="405.18" y1="2419" x2="405.18" y2="2424" stroke="#333" stroke-width="1.1" />
<line x1="405.18" y1="2016.6" x2="405.18" y2="2019.6" stroke="#333" stroke-width="1.1" />
<line x1="417.99" y1="2419" x2="417.99" y2="2424" stroke="#333" stroke-width="1.1" />
<line x1="417.99" y1="2016.6" x2="417.99" y2="2019.6" stroke="#333" stroke-width="1.1" />
<line x1="443.61" y1="2419" x2="443.61" y2="2424" stroke="#333" stroke-width="1.1" />
<line x1="443.61" y1="2016.6" x2="443.61" y2="2019.6" stroke="#333" stroke-width="1.1" />
<line x1="456.42" y1="2419" x2="456.42" y2="2424" stroke="#333" stroke-width="1.1" />
<line x1="456.42" y1="2016.6" x2="456.42" y2="2019.6" stroke="#333" stroke-width="1.1" />
<line x1="469.22" y1="2419" x2="469.22" y2="2424" stroke="#333" stroke-width="1.1" />
<line x1="469.22" y1="2016.6" x2="469.22" y2="2019.6" stroke="#333" stroke-width="1.1" />
<line x1="482.03" y1="2419" x2="482.03" y2="2424" stroke="#333" stroke-width="1.1" />
<line x1="482.03" y1="2016.6" x2="482.03" y2="2019.6" stroke="#333" stroke-width="1.1" />
<line x1="507.65" y1="2419" x2="507.65" y2="2424" stroke="#333" stroke-width="1.1" />
<line x1="507.65" y1="2016.6" x2="507.65" y2="2019.6" stroke="#333" stroke-width="1.1" />
<line x1="520.46" y1="2419" x2="520.46" y2="2424" stroke="#333" stroke-width="1.1" />
<line x1="520.46" y1="2016.6" x2="520.46" y2="2019.6" stroke="#333" stroke-width="1.1" />
<line x1="533.26" y1="2419" x2="533.26" y2="2424" stroke="#333" stroke-width="1.1" />
<line x1="533.26" y1="2016.6" x2="533.26" y2="2019.6" stroke="#333" stroke-width="1.1" />
<line x1="546.07" y1="2419" x2="546.07" y2="2424" stroke="#333" stroke-width="1.1" />
<line x1="546.07" y1="2016.6" x2="546.07" y2="2019.6" stroke="#333" stroke-width="1.1" />
<line x1="571.69" y1="2419" x2="571.69" y2="2424" stroke="#333" stroke-width="1.1" />
<line x1="571.69" y1="2016.6" x2="571.69" y2="2019.6" stroke="#333" stroke-width="1.1" />
<line x1="584.5" y1="2419" x2="584.5" y2="2424" stroke="#333" stroke-width="1.1" />
<line x1="584.5" y1="2016.6" x2="584.5" y2="2019.6" stroke="#333" stroke-width="1.1" />
<line x1="597.3" y1="2419" x2="597.3" y2="2424" stroke="#333" stroke-width="1.1" />
<line x1="597.3" y1="2016.6" x2="597.3" y2="2019.6" stroke="#333" stroke-width="1.1" />
<line x1="610.11" y1="2419" x2="610.11" y2="2424" stroke="#333" stroke-width="1.1" />
<line x1="610.11" y1="2016.6" x2="610.11" y2="2019.6" stroke="#333" stroke-width="1.1" />
<line x1="110.6" y1="2416.5" x2="110.6" y2="2426.5" stroke="#333" stroke-width="1.21" />
<line x1="110.6" y1="2016.6" x2="110.6" y2="2020.6" stroke="#333" stroke-width="1.21" />
<line x1="174.64" y1="2416.5" x2="174.64" y2="2426.5" stroke="#333" stroke-width="1.21" />
<line x1="174.64" y1="2016.6" x2="174.64" y2="2020.6" stroke="#333" stroke-width="1.21" />
<line x1="238.68" y1="2416.5" x2="238.68" y2="2426.5" stroke="#333" stroke-width="1.21" />
<line x1="238.68" y1="2016.6" x2="238.68" y2="2020.6" stroke="#333" stroke-width="1.21" />
<line x1="302.72" y1="2416.5" x2="302.72" y2="2426.5" stroke="#333" stroke-width="1.21" />
<line x1="302.72" y1="2016.6" x2="302.72" y2="2020.6" stroke="#333" stroke-width="1.21" />
<line x1="366.76" y1="2416.5" x2="366.76" y2="2426.5" stroke="#333" stroke-width="1.21" />
<line x1="366.76" y1="2016.6" x2="366.76" y2="2020.6" stroke="#333" stroke-width="1.21" />
<line x1="430.8" y1="2416.5" x2="430.8" y2="2426.5" stroke="#333" stroke-width="1.21" />
<line x1="430.8" y1="2016.6" x2="430.8" y2="2020.6" stroke="#333" stroke-width="1.21" />
<line x1="494.84" y1="2416.5" x2="494.84" y2="2426.5" stroke="#333" stroke-width="1.21" />
<line x1="494.84" y1="2016.6" x2="494.84" y2="2020.6" stroke="#333" stroke-width="1.21" />
<line x1="558.88" y1="2416.5" x2="558.88" y2="2426.5" stroke="#333" stroke-width="1.21" />
<line x1="558.88" y1="2016.6" x2="558.88" y2="2020.6" stroke="#333" stroke-width="1.21" />
<line x1="622.92" y1="2416.5" x2="622.92" y2="2426.5" stroke="#333" stroke-width="1.21" />
<line x1="622.92" y1="2016.6" x2="622.92" y2="2020.6" stroke="#333" stroke-width="1.21" />
<line x1="108.1" y1="2404.89" x2="113.1" y2="2404.89" stroke="#333" stroke-width="1.1" />
<line x1="619.9" y1="2404.89" x2="622.9" y2="2404.89" stroke="#333" stroke-width="1.1" />
<line x1="108.1" y1="2371.11" x2="113.1" y2="2371.11" stroke="#333" stroke-width="1.1" />
<line x1="619.9" y1="2371.11" x2="622.9" y2="2371.11" stroke="#333" stroke-width="1.1" />
<line x1="108.1" y1="2354.22" x2="113.1" y2="2354.22" stroke="#333" stroke-width="1.1" />
<line x1="619.9" y1="2354.22" x2="622.9" y2="2354.22" stroke="#333" stroke-width="1.1" />
<line x1="108.1" y1="2337.33" x2="113.1" y2="2337.33" stroke="#333" stroke-width="1.1" />
<line x1="619.9" y1="2337.33" x2="622.9" y2="2337.33" stroke="#333" stroke-width="1.1" />
<line x1="108.1" y1="2320.44" x2="113.1" y2="2320.44" stroke="#333" stroke-width="1.1" />
<line x1="619.9" y1="2320.44" x2="622.9" y2="2320.44" stroke="#333" stroke-width="1.1" />
<line x1="108.1" y1="2286.66" x2="113.1" y2="2286.66" stroke="#333" stroke-width="1.1" />
<line x1="619.9" y1="2286.66" x2="622.9" y2="2286.66" stroke="#333" stroke-width="1.1" />
<line x1="108.1" y1="2269.77" x2="113.1" y2="2269.77" stroke="#333" stroke-width="1.1" />
<line x1="619.9" y1="2269.77" x2="622.9" y2="2269.77" stroke="#333" stroke-width="1.1" />
<line x1="108.1" y1="2252.88" x2="113.1" y2="2252.88" stroke="#333" stroke-width="1.1" />
<line x1="619.9" y1="2252.88" x2="622.9" y2="2252.88" stroke="#333" stroke-width="1.1" />
<line x1="108.1" y1="2235.99" x2="113.1" y2="2235.99" stroke="#333" stroke-width="1.1" />
<line x1="619.9" y1="2235.99" x2="622.9" y2="2235.99" stroke="#333" stroke-width="1.1" />
<line x1="108.1" y1="2202.21" x2="113.1" y2="2202.21" stroke="#333" stroke-width="1.1" />
<line x1="619.9" y1="2202.21" x2="622.9" y2="2202.21" stroke="#333" stroke-width="1.1" />
<line x1="108.1" y1="2185.32" x2="113.1" y2="2185.32" stroke="#333" stroke-width="1.1" />
<line x1="619.9" y1="2185.32" x2="622.9" y2="2185.32" stroke="#333" stroke-width="1.1" />
<line x1="108.1" y1="2168.43" x2="113.1" y2="2168.43" stroke="#333" stroke-width="1.1" />
<line x1="619.9" y1="2168.43" x2="622.9" y2="2168.43" stroke="#333" stroke-width="1.1" />
<line x1="108.1" y1="2151.54" x2="113.1" y2="2151.54" stroke="#333" stroke-width="1.1" />
<line x1="619.9" y1="2151.54" x2="622.9" y2="2151.54" stroke="#333" stroke-width="1.1" />
<line x1="108.1" y1="2117.76" x2="113.1" y2="2117.76" stroke="#333" stroke-width="1.1" />
<line x1="619.9" y1="2117.76" x2="622.9" y2="2117.76" stroke="#333" stroke-width="1.1" />
<line x1="108.1" y1="2100.87" x2="113.1" y2="2100.87" stroke="#333" stroke-width="1.1" />
<line x1="619.9" y1="2100.87" x2="622.9" y2="2100.87" stroke="#333" stroke-width="1.1" />
<line x1="108.1" y1="2083.98" x2="113.1" y2="2083.98" stroke="#333" stroke-width="1.1" />
<line x1="619.9" y1="2083.98" x2="622.9" y2="2083.98" stroke="#333" stroke-width="1.1" />
<line x1="108.1" y1="2067.09" x2="113.1" y2="2067.09" stroke="#333" stroke-width="1.1" />
<line x1="619.9" y1="2067.09" x2="622.9" y2="2067.09" stroke="#333" stroke-width="1.1" />
<line x1="108.1" y1="2033.31" x2="113.1" y2="2033.31" stroke="#333" stroke-width="1.1" />
<line x1="619.9" y1="2033.31" x2="622.9" y2="2033.31" stroke="#333" stroke-width="1.1" />
<line x1="105.6" y1="2388" x2="115.6" y2="2388" stroke="#333" stroke-width="1.21" />
<line x1="617.9" y1="2388" x2="622.9" y2="2388" stroke="#333" stroke-width="1.21" />
<line x1="105.6" y1="2303.55" x2="115.6" y2="2303.55" stroke="#333" stroke-width="1.21" />
<line x1="617.9" y1="2303.55" x2="622.9" y2="2303.55" stroke="#333" stroke-width="1.21" />
<line x1="105.6" y1="2219.1" x2="115.6" y2="2219.1" stroke="#333" stroke-width="1.21" />
<line x1="617.9" y1="2219.1" x2="622.9" y2="2219.1" stroke="#333" stroke-width="1.21" />
<line x1="105.6" y1="2134.65" x2="115.6" y2="2134.65" stroke="#333" stroke-width="1.21" />
<line x1="617.9" y1="2134.65" x2="622.9" y2="2134.65" stroke="#333" stroke-width="1.21" />
<line x1="105.6" y1="2050.2" x2="115.6" y2="2050.2" stroke="#333" stroke-width="1.21" />
<line x1="617.9" y1="2050.2" x2="622.9" y2="2050.2" stroke="#333" stroke-width="1.21" />
<rect x="110.6" y="2016.6" width="512.3" height="404.9" fill="none" stroke="#1a1a1a" stroke-width="1.4" />
<text x="110.6" y="2454" font-size="23.2" text-anchor="middle" fill="#000" >100</text>
<text x="174.64" y="2454" font-size="23.2" text-anchor="middle" fill="#000" >200</text>
<text x="238.68" y="2454" font-size="23.2" text-anchor="middle" fill="#000" >300</text>
<text x="302.72" y="2454" font-size="23.2" text-anchor="middle" fill="#000" >400</text>
<text x="366.76" y="2454" font-size="23.2" text-anchor="middle" fill="#000" >500</text>
<text x="430.8" y="2454" font-size="23.2" text-anchor="middle" fill="#000" >600</text>
<text x="494.84" y="2454" font-size="23.2" text-anchor="middle" fill="#000" >700</text>
<text x="558.88" y="2454" font-size="23.2" text-anchor="middle" fill="#000" >800</text>
<text x="622.92" y="2454" font-size="23.2" text-anchor="middle" fill="#000" >900</text>
<text x="94.2" y="2057.4" font-size="23.6" text-anchor="end" fill="#000" >1</text>
<text x="94.2" y="2141.85" font-size="23.6" text-anchor="end" fill="#000" >0.5</text>
<text x="94.2" y="2226.3" font-size="23.6" text-anchor="end" fill="#000" >0</text>
<text x="94.2" y="2310.75" font-size="23.6" text-anchor="end" fill="#000" >0.5</text>
<text x="94.2" y="2395.2" font-size="23.6" text-anchor="end" fill="#000" >1</text>
<rect x="119.6" y="2022.7" width="276.3" height="26.8" fill="#fff" stroke="#777" stroke-width="1.1" />
<line x1="125.8" y1="2038" x2="142.8" y2="2038" stroke="#e06070" stroke-width="1.2" />
<text x="151.8" y="2043.4" font-size="21.6" text-anchor="start" fill="#000" >Predicted</text>
<line x1="262.8" y1="2038" x2="279.3" y2="2038" stroke="#666" stroke-width="1.2" />
<text x="288.8" y="2043.4" font-size="21.6" text-anchor="start" fill="#000" >Measured</text>
<text x="291.9" y="2088.7" font-size="23.85" text-anchor="middle" fill="#000" >Measured intensity is similar to</text>
<text x="290.7" y="2115.5" font-size="23.85" text-anchor="middle" fill="#000" >expected intensity</text>
<line x1="239.3" y1="2132" x2="269.83" y2="2167.14" stroke="#5b9bd5" stroke-width="3.6" />
<polygon points="277.7,2176.2 264.64,2170.32 273.7,2162.45" fill="#5b9bd5" stroke="none" />
<text x="373.9" y="2491.5" font-size="23.6" text-anchor="middle" fill="#000" >m/z</text>
<text x="42.1" y="2219.9" font-size="23.8" text-anchor="middle" fill="#000" transform="rotate(-90 42.1 2219.9)">Relative intensity</text>
<text x="34.2" y="2013.3" font-size="42" text-anchor="start" fill="#000" font-weight="bold" >i</text>
<line x1="770.4" y1="2219.9" x2="1282.3" y2="2219.9" stroke="#333" stroke-width="1.3" />
<line x1="815.9" y1="2219.9" x2="815.9" y2="2166.29" stroke="#000" stroke-width="2" />
<line x1="815.9" y1="2219.9" x2="815.9" y2="2276.04" stroke="#c8102e" stroke-width="2" />
<text x="818.8" y="2167.09" font-size="11.8" text-anchor="start" fill="#1a1a1a" >[b2+]</text>
<line x1="863.95" y1="2219.9" x2="863.95" y2="2174.38" stroke="#000" stroke-width="2" />
<line x1="863.95" y1="2219.9" x2="863.95" y2="2310.1" stroke="#c8102e" stroke-width="2" />
<text x="866.85" y="2175.18" font-size="11.8" text-anchor="start" fill="#1a1a1a" >[y2+]</text>
<line x1="1019.45" y1="2219.9" x2="1019.45" y2="2168.65" stroke="#000" stroke-width="2" />
<line x1="1019.45" y1="2219.9" x2="1019.45" y2="2245.02" stroke="#c8102e" stroke-width="2" />
<text x="1022.35" y="2169.45" font-size="11.8" text-anchor="start" fill="#1a1a1a" >[y4+]</text>
<line x1="1075.18" y1="2219.9" x2="1075.18" y2="2163.25" stroke="#000" stroke-width="2" />
<line x1="1075.18" y1="2219.9" x2="1075.18" y2="2302.18" stroke="#c8102e" stroke-width="2" />
<text x="1078.08" y="2164.05" font-size="11.8" text-anchor="start" fill="#1a1a1a" >[y5+]</text>
<line x1="1139.81" y1="2219.9" x2="1139.81" y2="2051.3" stroke="#000" stroke-width="2" />
<line x1="1139.81" y1="2219.9" x2="1139.81" y2="2388.16" stroke="#c8102e" stroke-width="2" />
<text x="1142.71" y="2046.9" font-size="11.8" text-anchor="start" fill="#1a1a1a" >[y6+]</text>
<line x1="1221.79" y1="2219.9" x2="1221.79" y2="2142.51" stroke="#000" stroke-width="2" />
<line x1="1221.79" y1="2219.9" x2="1221.79" y2="2302.18" stroke="#c8102e" stroke-width="2" />
<text x="1224.69" y="2143.31" font-size="11.8" text-anchor="start" fill="#1a1a1a" >[y7+]</text>
<line x1="783.2" y1="2420.5" x2="783.2" y2="2425.5" stroke="#333" stroke-width="1.1" />
<line x1="783.2" y1="2016.7" x2="783.2" y2="2019.7" stroke="#333" stroke-width="1.1" />
<line x1="796" y1="2420.5" x2="796" y2="2425.5" stroke="#333" stroke-width="1.1" />
<line x1="796" y1="2016.7" x2="796" y2="2019.7" stroke="#333" stroke-width="1.1" />
<line x1="808.79" y1="2420.5" x2="808.79" y2="2425.5" stroke="#333" stroke-width="1.1" />
<line x1="808.79" y1="2016.7" x2="808.79" y2="2019.7" stroke="#333" stroke-width="1.1" />
<line x1="821.59" y1="2420.5" x2="821.59" y2="2425.5" stroke="#333" stroke-width="1.1" />
<line x1="821.59" y1="2016.7" x2="821.59" y2="2019.7" stroke="#333" stroke-width="1.1" />
<line x1="847.19" y1="2420.5" x2="847.19" y2="2425.5" stroke="#333" stroke-width="1.1" />
<line x1="847.19" y1="2016.7" x2="847.19" y2="2019.7" stroke="#333" stroke-width="1.1" />
<line x1="859.99" y1="2420.5" x2="859.99" y2="2425.5" stroke="#333" stroke-width="1.1" />
<line x1="859.99" y1="2016.7" x2="859.99" y2="2019.7" stroke="#333" stroke-width="1.1" />
<line x1="872.78" y1="2420.5" x2="872.78" y2="2425.5" stroke="#333" stroke-width="1.1" />
<line x1="872.78" y1="2016.7" x2="872.78" y2="2019.7" stroke="#333" stroke-width="1.1" />
<line x1="885.58" y1="2420.5" x2="885.58" y2="2425.5" stroke="#333" stroke-width="1.1" />
<line x1="885.58" y1="2016.7" x2="885.58" y2="2019.7" stroke="#333" stroke-width="1.1" />
<line x1="911.18" y1="2420.5" x2="911.18" y2="2425.5" stroke="#333" stroke-width="1.1" />
<line x1="911.18" y1="2016.7" x2="911.18" y2="2019.7" stroke="#333" stroke-width="1.1" />
<line x1="923.98" y1="2420.5" x2="923.98" y2="2425.5" stroke="#333" stroke-width="1.1" />
<line x1="923.98" y1="2016.7" x2="923.98" y2="2019.7" stroke="#333" stroke-width="1.1" />
<line x1="936.77" y1="2420.5" x2="936.77" y2="2425.5" stroke="#333" stroke-width="1.1" />
<line x1="936.77" y1="2016.7" x2="936.77" y2="2019.7" stroke="#333" stroke-width="1.1" />
<line x1="949.57" y1="2420.5" x2="949.57" y2="2425.5" stroke="#333" stroke-width="1.1" />
<line x1="949.57" y1="2016.7" x2="949.57" y2="2019.7" stroke="#333" stroke-width="1.1" />
<line x1="975.17" y1="2420.5" x2="975.17" y2="2425.5" stroke="#333" stroke-width="1.1" />
<line x1="975.17" y1="2016.7" x2="975.17" y2="2019.7" stroke="#333" stroke-width="1.1" />
<line x1="987.97" y1="2420.5" x2="987.97" y2="2425.5" stroke="#333" stroke-width="1.1" />
<line x1="987.97" y1="2016.7" x2="987.97" y2="2019.7" stroke="#333" stroke-width="1.1" />
<line x1="1000.76" y1="2420.5" x2="1000.76" y2="2425.5" stroke="#333" stroke-width="1.1" />
<line x1="1000.76" y1="2016.7" x2="1000.76" y2="2019.7" stroke="#333" stroke-width="1.1" />
<line x1="1013.56" y1="2420.5" x2="1013.56" y2="2425.5" stroke="#333" stroke-width="1.1" />
<line x1="1013.56" y1="2016.7" x2="1013.56" y2="2019.7" stroke="#333" stroke-width="1.1" />
<line x1="1039.16" y1="2420.5" x2="1039.16" y2="2425.5" stroke="#333" stroke-width="1.1" />
<line x1="1039.16" y1="2016.7" x2="1039.16" y2="2019.7" stroke="#333" stroke-width="1.1" />
<line x1="1051.96" y1="2420.5" x2="1051.96" y2="2425.5" stroke="#333" stroke-width="1.1" />
<line x1="1051.96" y1="2016.7" x2="1051.96" y2="2019.7" stroke="#333" stroke-width="1.1" />
<line x1="1064.75" y1="2420.5" x2="1064.75" y2="2425.5" stroke="#333" stroke-width="1.1" />
<line x1="1064.75" y1="2016.7" x2="1064.75" y2="2019.7" stroke="#333" stroke-width="1.1" />
<line x1="1077.55" y1="2420.5" x2="1077.55" y2="2425.5" stroke="#333" stroke-width="1.1" />
<line x1="1077.55" y1="2016.7" x2="1077.55" y2="2019.7" stroke="#333" stroke-width="1.1" />
<line x1="1103.15" y1="2420.5" x2="1103.15" y2="2425.5" stroke="#333" stroke-width="1.1" />
<line x1="1103.15" y1="2016.7" x2="1103.15" y2="2019.7" stroke="#333" stroke-width="1.1" />
<line x1="1115.95" y1="2420.5" x2="1115.95" y2="2425.5" stroke="#333" stroke-width="1.1" />
<line x1="1115.95" y1="2016.7" x2="1115.95" y2="2019.7" stroke="#333" stroke-width="1.1" />
<line x1="1128.74" y1="2420.5" x2="1128.74" y2="2425.5" stroke="#333" stroke-width="1.1" />
<line x1="1128.74" y1="2016.7" x2="1128.74" y2="2019.7" stroke="#333" stroke-width="1.1" />
<line x1="1141.54" y1="2420.5" x2="1141.54" y2="2425.5" stroke="#333" stroke-width="1.1" />
<line x1="1141.54" y1="2016.7" x2="1141.54" y2="2019.7" stroke="#333" stroke-width="1.1" />
<line x1="1167.14" y1="2420.5" x2="1167.14" y2="2425.5" stroke="#333" stroke-width="1.1" />
<line x1="1167.14" y1="2016.7" x2="1167.14" y2="2019.7" stroke="#333" stroke-width="1.1" />
<line x1="1179.94" y1="2420.5" x2="1179.94" y2="2425.5" stroke="#333" stroke-width="1.1" />
<line x1="1179.94" y1="2016.7" x2="1179.94" y2="2019.7" stroke="#333" stroke-width="1.1" />
<line x1="1192.73" y1="2420.5" x2="1192.73" y2="2425.5" stroke="#333" stroke-width="1.1" />
<line x1="1192.73" y1="2016.7" x2="1192.73" y2="2019.7" stroke="#333" stroke-width="1.1" />
<line x1="1205.53" y1="2420.5" x2="1205.53" y2="2425.5" stroke="#333" stroke-width="1.1" />
<line x1="1205.53" y1="2016.7" x2="1205.53" y2="2019.7" stroke="#333" stroke-width="1.1" />
<line x1="1231.13" y1="2420.5" x2="1231.13" y2="2425.5" stroke="#333" stroke-width="1.1" />
<line x1="1231.13" y1="2016.7" x2="1231.13" y2="2019.7" stroke="#333" stroke-width="1.1" />
<line x1="1243.93" y1="2420.5" x2="1243.93" y2="2425.5" stroke="#333" stroke-width="1.1" />
<line x1="1243.93" y1="2016.7" x2="1243.93" y2="2019.7" stroke="#333" stroke-width="1.1" />
<line x1="1256.72" y1="2420.5" x2="1256.72" y2="2425.5" stroke="#333" stroke-width="1.1" />
<line x1="1256.72" y1="2016.7" x2="1256.72" y2="2019.7" stroke="#333" stroke-width="1.1" />
<line x1="1269.52" y1="2420.5" x2="1269.52" y2="2425.5" stroke="#333" stroke-width="1.1" />
<line x1="1269.52" y1="2016.7" x2="1269.52" y2="2019.7" stroke="#333" stroke-width="1.1" />
<line x1="770.4" y1="2418" x2="770.4" y2="2428" stroke="#333" stroke-width="1.21" />
<line x1="770.4" y1="2016.7" x2="770.4" y2="2020.7" stroke="#333" stroke-width="1.21" />
<line x1="834.39" y1="2418" x2="834.39" y2="2428" stroke="#333" stroke-width="1.21" />
<line x1="834.39" y1="2016.7" x2="834.39" y2="2020.7" stroke="#333" stroke-width="1.21" />
<line x1="898.38" y1="2418" x2="898.38" y2="2428" stroke="#333" stroke-width="1.21" />
<line x1="898.38" y1="2016.7" x2="898.38" y2="2020.7" stroke="#333" stroke-width="1.21" />
<line x1="962.37" y1="2418" x2="962.37" y2="2428" stroke="#333" stroke-width="1.21" />
<line x1="962.37" y1="2016.7" x2="962.37" y2="2020.7" stroke="#333" stroke-width="1.21" />
<line x1="1026.36" y1="2418" x2="1026.36" y2="2428" stroke="#333" stroke-width="1.21" />
<line x1="1026.36" y1="2016.7" x2="1026.36" y2="2020.7" stroke="#333" stroke-width="1.21" />
<line x1="1090.35" y1="2418" x2="1090.35" y2="2428" stroke="#333" stroke-width="1.21" />
<line x1="1090.35" y1="2016.7" x2="1090.35" y2="2020.7" stroke="#333" stroke-width="1.21" />
<line x1="1154.34" y1="2418" x2="1154.34" y2="2428" stroke="#333" stroke-width="1.21" />
<line x1="1154.34" y1="2016.7" x2="1154.34" y2="2020.7" stroke="#333" stroke-width="1.21" />
<line x1="1218.33" y1="2418" x2="1218.33" y2="2428" stroke="#333" stroke-width="1.21" />
<line x1="1218.33" y1="2016.7" x2="1218.33" y2="2020.7" stroke="#333" stroke-width="1.21" />
<line x1="1282.32" y1="2418" x2="1282.32" y2="2428" stroke="#333" stroke-width="1.21" />
<line x1="1282.32" y1="2016.7" x2="1282.32" y2="2020.7" stroke="#333" stroke-width="1.21" />
<line x1="767.9" y1="2405.36" x2="772.9" y2="2405.36" stroke="#333" stroke-width="1.1" />
<line x1="1279.3" y1="2405.36" x2="1282.3" y2="2405.36" stroke="#333" stroke-width="1.1" />
<line x1="767.9" y1="2371.64" x2="772.9" y2="2371.64" stroke="#333" stroke-width="1.1" />
<line x1="1279.3" y1="2371.64" x2="1282.3" y2="2371.64" stroke="#333" stroke-width="1.1" />
<line x1="767.9" y1="2354.78" x2="772.9" y2="2354.78" stroke="#333" stroke-width="1.1" />
<line x1="1279.3" y1="2354.78" x2="1282.3" y2="2354.78" stroke="#333" stroke-width="1.1" />
<line x1="767.9" y1="2337.92" x2="772.9" y2="2337.92" stroke="#333" stroke-width="1.1" />
<line x1="1279.3" y1="2337.92" x2="1282.3" y2="2337.92" stroke="#333" stroke-width="1.1" />
<line x1="767.9" y1="2321.06" x2="772.9" y2="2321.06" stroke="#333" stroke-width="1.1" />
<line x1="1279.3" y1="2321.06" x2="1282.3" y2="2321.06" stroke="#333" stroke-width="1.1" />
<line x1="767.9" y1="2287.34" x2="772.9" y2="2287.34" stroke="#333" stroke-width="1.1" />
<line x1="1279.3" y1="2287.34" x2="1282.3" y2="2287.34" stroke="#333" stroke-width="1.1" />
<line x1="767.9" y1="2270.48" x2="772.9" y2="2270.48" stroke="#333" stroke-width="1.1" />
<line x1="1279.3" y1="2270.48" x2="1282.3" y2="2270.48" stroke="#333" stroke-width="1.1" />
<line x1="767.9" y1="2253.62" x2="772.9" y2="2253.62" stroke="#333" stroke-width="1.1" />
<line x1="1279.3" y1="2253.62" x2="1282.3" y2="2253.62" stroke="#333" stroke-width="1.1" />
<line x1="767.9" y1="2236.76" x2="772.9" y2="2236.76" stroke="#333" stroke-width="1.1" />
<line x1="1279.3" y1="2236.76" x2="1282.3" y2="2236.76" stroke="#333" stroke-width="1.1" />
<line x1="767.9" y1="2203.04" x2="772.9" y2="2203.04" stroke="#333" stroke-width="1.1" />
<line x1="1279.3" y1="2203.04" x2="1282.3" y2="2203.04" stroke="#333" stroke-width="1.1" />
<line x1="767.9" y1="2186.18" x2="772.9" y2="2186.18" stroke="#333" stroke-width="1.1" />
<line x1="1279.3" y1="2186.18" x2="1282.3" y2="2186.18" stroke="#333" stroke-width="1.1" />
<line x1="767.9" y1="2169.32" x2="772.9" y2="2169.32" stroke="#333" stroke-width="1.1" />
<line x1="1279.3" y1="2169.32" x2="1282.3" y2="2169.32" stroke="#333" stroke-width="1.1" />
<line x1="767.9" y1="2152.46" x2="772.9" y2="2152.46" stroke="#333" stroke-width="1.1" />
<line x1="1279.3" y1="2152.46" x2="1282.3" y2="2152.46" stroke="#333" stroke-width="1.1" />
<line x1="767.9" y1="2118.74" x2="772.9" y2="2118.74" stroke="#333" stroke-width="1.1" />
<line x1="1279.3" y1="2118.74" x2="1282.3" y2="2118.74" stroke="#333" stroke-width="1.1" />
<line x1="767.9" y1="2101.88" x2="772.9" y2="2101.88" stroke="#333" stroke-width="1.1" />
<line x1="1279.3" y1="2101.88" x2="1282.3" y2="2101.88" stroke="#333" stroke-width="1.1" />
<line x1="767.9" y1="2085.02" x2="772.9" y2="2085.02" stroke="#333" stroke-width="1.1" />
<line x1="1279.3" y1="2085.02" x2="1282.3" y2="2085.02" stroke="#333" stroke-width="1.1" />
<line x1="767.9" y1="2068.16" x2="772.9" y2="2068.16" stroke="#333" stroke-width="1.1" />
<line x1="1279.3" y1="2068.16" x2="1282.3" y2="2068.16" stroke="#333" stroke-width="1.1" />
<line x1="767.9" y1="2034.44" x2="772.9" y2="2034.44" stroke="#333" stroke-width="1.1" />
<line x1="1279.3" y1="2034.44" x2="1282.3" y2="2034.44" stroke="#333" stroke-width="1.1" />
<line x1="765.4" y1="2388.5" x2="775.4" y2="2388.5" stroke="#333" stroke-width="1.21" />
<line x1="1277.3" y1="2388.5" x2="1282.3" y2="2388.5" stroke="#333" stroke-width="1.21" />
<line x1="765.4" y1="2304.2" x2="775.4" y2="2304.2" stroke="#333" stroke-width="1.21" />
<line x1="1277.3" y1="2304.2" x2="1282.3" y2="2304.2" stroke="#333" stroke-width="1.21" />
<line x1="765.4" y1="2219.9" x2="775.4" y2="2219.9" stroke="#333" stroke-width="1.21" />
<line x1="1277.3" y1="2219.9" x2="1282.3" y2="2219.9" stroke="#333" stroke-width="1.21" />
<line x1="765.4" y1="2135.6" x2="775.4" y2="2135.6" stroke="#333" stroke-width="1.21" />
<line x1="1277.3" y1="2135.6" x2="1282.3" y2="2135.6" stroke="#333" stroke-width="1.21" />
<line x1="765.4" y1="2051.3" x2="775.4" y2="2051.3" stroke="#333" stroke-width="1.21" />
<line x1="1277.3" y1="2051.3" x2="1282.3" y2="2051.3" stroke="#333" stroke-width="1.21" />
<rect x="770.4" y="2016.7" width="511.9" height="406.3" fill="none" stroke="#1a1a1a" stroke-width="1.4" />
<text x="770.4" y="2455.5" font-size="23.2" text-anchor="middle" fill="#000" >100</text>
<text x="834.39" y="2455.5" font-size="23.2" text-anchor="middle" fill="#000" >200</text>
<text x="898.38" y="2455.5" font-size="23.2" text-anchor="middle" fill="#000" >300</text>
<text x="962.37" y="2455.5" font-size="23.2" text-anchor="middle" fill="#000" >400</text>
<text x="1026.36" y="2455.5" font-size="23.2" text-anchor="middle" fill="#000" >500</text>
<text x="1090.35" y="2455.5" font-size="23.2" text-anchor="middle" fill="#000" >600</text>
<text x="1154.34" y="2455.5" font-size="23.2" text-anchor="middle" fill="#000" >700</text>
<text x="1218.33" y="2455.5" font-size="23.2" text-anchor="middle" fill="#000" >800</text>
<text x="1282.32" y="2455.5" font-size="23.2" text-anchor="middle" fill="#000" >900</text>
<text x="754" y="2058.5" font-size="23.6" text-anchor="end" fill="#000" >1</text>
<text x="754" y="2142.8" font-size="23.6" text-anchor="end" fill="#000" >0.5</text>
<text x="754" y="2227.1" font-size="23.6" text-anchor="end" fill="#000" >0</text>
<text x="754" y="2311.4" font-size="23.6" text-anchor="end" fill="#000" >0.5</text>
<text x="754" y="2395.7" font-size="23.6" text-anchor="end" fill="#000" >1</text>
<rect x="784.5" y="2022.1" width="276.6" height="24.9" fill="#fff" stroke="#777" stroke-width="1.1" />
<line x1="790.7" y1="2036.5" x2="807.7" y2="2036.5" stroke="#e06070" stroke-width="1.2" />
<text x="818.3" y="2042" font-size="23.2" text-anchor="start" fill="#000" >Predicted</text>
<line x1="927.7" y1="2036.5" x2="944.2" y2="2036.5" stroke="#666" stroke-width="1.2" />
<text x="955.3" y="2042" font-size="23.2" text-anchor="start" fill="#000" >Measured</text>
<text x="912.05" y="2106.4" font-size="23.85" text-anchor="middle" fill="#000" >Measured higher than</text>
<text x="911.35" y="2134.6" font-size="23.85" text-anchor="middle" fill="#000" >expected</text>
<line x1="937.9" y1="2147.8" x2="998.39" y2="2172.47" stroke="#5b9bd5" stroke-width="3.6" />
<polygon points="1009.5,2177 995.2,2177.65 999.73,2166.54" fill="#5b9bd5" stroke="none" />
<text x="1033" y="2491.5" font-size="23.6" text-anchor="middle" fill="#000" >m/z</text>
<text x="696.9" y="2012.9" font-size="42" text-anchor="start" fill="#000" font-weight="bold" >j</text>
</svg></body></html>
